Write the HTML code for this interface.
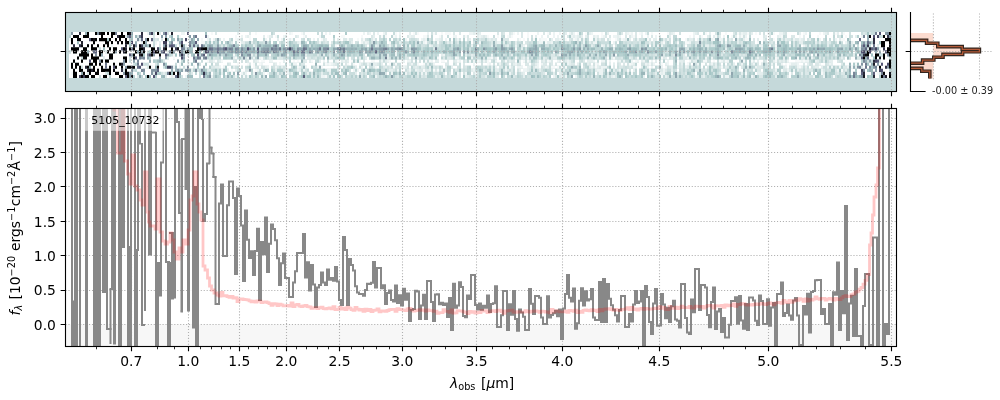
<!DOCTYPE html><html><head><meta charset="utf-8"><style>html,body{margin:0;padding:0;background:#fff;overflow:hidden}svg{display:block}</style></head><body>
<svg width="1000" height="400" viewBox="0 0 1000 400" font-family="'DejaVu Sans', 'Liberation Sans', sans-serif" font-size="13.89">
<defs><clipPath id="c1"><rect x="65.5" y="108.5" width="830.9" height="237.75"/></clipPath></defs>
<rect width="1000" height="400" fill="#fff"/>
<rect x="65.5" y="12.5" width="831" height="79" fill="#c5d9da"/>
<path fill="#c9dddd" d="M69 31.90h2v3.11h-2zM317 31.90h2v3.11h-2zM321 31.90h2v3.11h-2zM393 31.90h2v3.11h-2zM581 31.90h2v3.11h-2zM605 31.90h2v3.11h-2zM647 31.90h2v3.11h-2zM703 31.90h2v3.11h-2zM735 31.90h2v3.11h-2zM797 31.90h2v3.11h-2zM861 31.90h2v3.11h-2zM871 31.90h4v3.11h-4zM277 34.97h2v3.11h-2zM447 34.97h2v3.11h-2zM493 34.97h2v3.11h-2zM501 34.97h2v3.11h-2zM717 34.97h2v3.11h-2zM785 34.97h2v3.11h-2zM849 34.97h2v3.11h-2zM879 34.97h2v3.11h-2zM153 38.05h2v3.11h-2zM215 38.05h2v3.11h-2zM303 38.05h2v3.11h-2zM333 38.05h2v3.11h-2zM367 38.05h2v3.11h-2zM379 38.05h4v3.11h-4zM385 38.05h2v3.11h-2zM411 38.05h4v3.11h-4zM475 38.05h2v3.11h-2zM531 38.05h2v3.11h-2zM549 38.05h2v3.11h-2zM563 38.05h2v3.11h-2zM587 38.05h2v3.11h-2zM635 38.05h2v3.11h-2zM643 38.05h2v3.11h-2zM703 38.05h2v3.11h-2zM739 38.05h2v3.11h-2zM771 38.05h2v3.11h-2zM777 38.05h2v3.11h-2zM783 38.05h2v3.11h-2zM791 38.05h2v3.11h-2zM829 38.05h2v3.11h-2zM833 38.05h2v3.11h-2zM849 38.05h2v3.11h-2zM153 41.12h2v3.11h-2zM215 41.12h2v3.11h-2zM229 41.12h2v3.11h-2zM245 41.12h4v3.11h-4zM255 41.12h2v3.11h-2zM259 41.12h4v3.11h-4zM267 41.12h2v3.11h-2zM283 41.12h2v3.11h-2zM293 41.12h4v3.11h-4zM305 41.12h2v3.11h-2zM335 41.12h2v3.11h-2zM357 41.12h2v3.11h-2zM395 41.12h2v3.11h-2zM405 41.12h4v3.11h-4zM429 41.12h2v3.11h-2zM441 41.12h2v3.11h-2zM445 41.12h2v3.11h-2zM455 41.12h2v3.11h-2zM461 41.12h2v3.11h-2zM465 41.12h2v3.11h-2zM489 41.12h2v3.11h-2zM507 41.12h2v3.11h-2zM517 41.12h4v3.11h-4zM529 41.12h2v3.11h-2zM555 41.12h2v3.11h-2zM561 41.12h2v3.11h-2zM567 41.12h2v3.11h-2zM581 41.12h2v3.11h-2zM601 41.12h8v3.11h-8zM615 41.12h2v3.11h-2zM625 41.12h2v3.11h-2zM631 41.12h2v3.11h-2zM637 41.12h2v3.11h-2zM651 41.12h2v3.11h-2zM659 41.12h2v3.11h-2zM665 41.12h2v3.11h-2zM675 41.12h2v3.11h-2zM683 41.12h2v3.11h-2zM691 41.12h4v3.11h-4zM701 41.12h2v3.11h-2zM705 41.12h2v3.11h-2zM711 41.12h2v3.11h-2zM773 41.12h2v3.11h-2zM785 41.12h2v3.11h-2zM797 41.12h2v3.11h-2zM817 41.12h2v3.11h-2zM823 41.12h2v3.11h-2zM835 41.12h2v3.11h-2zM841 41.12h2v3.11h-2zM847 41.12h2v3.11h-2zM175 44.19h2v3.11h-2zM179 44.19h2v3.11h-2zM205 44.19h2v3.11h-2zM213 44.19h2v3.11h-2zM243 44.19h2v3.11h-2zM255 44.19h2v3.11h-2zM391 44.19h2v3.11h-2zM425 44.19h2v3.11h-2zM433 44.19h4v3.11h-4zM439 44.19h2v3.11h-2zM461 44.19h2v3.11h-2zM479 44.19h2v3.11h-2zM489 44.19h2v3.11h-2zM495 44.19h2v3.11h-2zM503 44.19h2v3.11h-2zM517 44.19h2v3.11h-2zM527 44.19h2v3.11h-2zM553 44.19h2v3.11h-2zM571 44.19h2v3.11h-2zM633 44.19h2v3.11h-2zM663 44.19h2v3.11h-2zM677 44.19h2v3.11h-2zM709 44.19h2v3.11h-2zM731 44.19h2v3.11h-2zM751 44.19h2v3.11h-2zM755 44.19h2v3.11h-2zM815 44.19h2v3.11h-2zM843 44.19h4v3.11h-4zM857 44.19h2v3.11h-2zM99 47.27h2v3.11h-2zM255 47.27h2v3.11h-2zM405 47.27h2v3.11h-2zM409 47.27h2v3.11h-2zM421 47.27h2v3.11h-2zM439 47.27h2v3.11h-2zM443 47.27h2v3.11h-2zM451 47.27h2v3.11h-2zM551 47.27h2v3.11h-2zM603 47.27h2v3.11h-2zM639 47.27h2v3.11h-2zM655 47.27h2v3.11h-2zM667 47.27h2v3.11h-2zM707 47.27h2v3.11h-2zM733 47.27h2v3.11h-2zM745 47.27h2v3.11h-2zM853 47.27h2v3.11h-2zM147 50.34h2v3.11h-2zM419 50.34h2v3.11h-2zM469 50.34h2v3.11h-2zM497 50.34h2v3.11h-2zM515 50.34h2v3.11h-2zM525 50.34h2v3.11h-2zM575 50.34h2v3.11h-2zM589 50.34h2v3.11h-2zM663 50.34h2v3.11h-2zM685 50.34h2v3.11h-2zM689 50.34h2v3.11h-2zM721 50.34h2v3.11h-2zM775 50.34h2v3.11h-2zM801 50.34h2v3.11h-2zM855 50.34h2v3.11h-2zM171 53.41h2v3.11h-2zM199 53.41h2v3.11h-2zM217 53.41h2v3.11h-2zM221 53.41h2v3.11h-2zM235 53.41h2v3.11h-2zM307 53.41h6v3.11h-6zM319 53.41h2v3.11h-2zM331 53.41h2v3.11h-2zM351 53.41h2v3.11h-2zM357 53.41h2v3.11h-2zM375 53.41h4v3.11h-4zM381 53.41h2v3.11h-2zM429 53.41h2v3.11h-2zM433 53.41h2v3.11h-2zM437 53.41h2v3.11h-2zM447 53.41h2v3.11h-2zM457 53.41h2v3.11h-2zM467 53.41h2v3.11h-2zM505 53.41h2v3.11h-2zM509 53.41h2v3.11h-2zM521 53.41h4v3.11h-4zM533 53.41h2v3.11h-2zM575 53.41h2v3.11h-2zM587 53.41h2v3.11h-2zM643 53.41h2v3.11h-2zM651 53.41h2v3.11h-2zM697 53.41h2v3.11h-2zM713 53.41h2v3.11h-2zM725 53.41h2v3.11h-2zM753 53.41h2v3.11h-2zM787 53.41h2v3.11h-2zM791 53.41h4v3.11h-4zM819 53.41h2v3.11h-2zM825 53.41h2v3.11h-2zM847 53.41h2v3.11h-2zM879 53.41h2v3.11h-2zM81 56.49h2v3.11h-2zM237 56.49h2v3.11h-2zM251 56.49h2v3.11h-2zM271 56.49h2v3.11h-2zM283 56.49h2v3.11h-2zM287 56.49h2v3.11h-2zM297 56.49h4v3.11h-4zM311 56.49h2v3.11h-2zM319 56.49h2v3.11h-2zM331 56.49h2v3.11h-2zM353 56.49h2v3.11h-2zM381 56.49h2v3.11h-2zM411 56.49h2v3.11h-2zM419 56.49h2v3.11h-2zM459 56.49h2v3.11h-2zM475 56.49h6v3.11h-6zM501 56.49h2v3.11h-2zM517 56.49h2v3.11h-2zM525 56.49h2v3.11h-2zM537 56.49h2v3.11h-2zM547 56.49h2v3.11h-2zM565 56.49h4v3.11h-4zM583 56.49h4v3.11h-4zM647 56.49h2v3.11h-2zM657 56.49h2v3.11h-2zM695 56.49h2v3.11h-2zM707 56.49h2v3.11h-2zM723 56.49h2v3.11h-2zM737 56.49h2v3.11h-2zM743 56.49h2v3.11h-2zM763 56.49h2v3.11h-2zM787 56.49h2v3.11h-2zM827 56.49h2v3.11h-2zM889 56.49h2v3.11h-2zM129 59.56h2v3.11h-2zM181 59.56h2v3.11h-2zM201 59.56h2v3.11h-2zM315 59.56h2v3.11h-2zM383 59.56h2v3.11h-2zM427 59.56h2v3.11h-2zM481 59.56h2v3.11h-2zM501 59.56h2v3.11h-2zM581 59.56h2v3.11h-2zM597 59.56h2v3.11h-2zM605 59.56h2v3.11h-2zM621 59.56h2v3.11h-2zM625 59.56h4v3.11h-4zM645 59.56h2v3.11h-2zM659 59.56h2v3.11h-2zM673 59.56h2v3.11h-2zM701 59.56h2v3.11h-2zM717 59.56h2v3.11h-2zM771 59.56h2v3.11h-2zM809 59.56h2v3.11h-2zM841 59.56h2v3.11h-2zM871 59.56h2v3.11h-2zM145 62.63h2v3.11h-2zM175 62.63h2v3.11h-2zM255 62.63h2v3.11h-2zM337 62.63h2v3.11h-2zM363 62.63h2v3.11h-2zM379 62.63h2v3.11h-2zM385 62.63h2v3.11h-2zM397 62.63h4v3.11h-4zM415 62.63h2v3.11h-2zM425 62.63h2v3.11h-2zM431 62.63h2v3.11h-2zM453 62.63h2v3.11h-2zM459 62.63h2v3.11h-2zM583 62.63h2v3.11h-2zM673 62.63h2v3.11h-2zM727 62.63h2v3.11h-2zM743 62.63h2v3.11h-2zM765 62.63h2v3.11h-2zM773 62.63h2v3.11h-2zM777 62.63h4v3.11h-4zM163 65.71h2v3.11h-2zM183 65.71h2v3.11h-2zM237 65.71h2v3.11h-2zM245 65.71h2v3.11h-2zM271 65.71h2v3.11h-2zM279 65.71h2v3.11h-2zM291 65.71h2v3.11h-2zM315 65.71h2v3.11h-2zM337 65.71h2v3.11h-2zM353 65.71h2v3.11h-2zM359 65.71h2v3.11h-2zM371 65.71h2v3.11h-2zM381 65.71h2v3.11h-2zM391 65.71h2v3.11h-2zM419 65.71h2v3.11h-2zM425 65.71h2v3.11h-2zM459 65.71h2v3.11h-2zM475 65.71h2v3.11h-2zM481 65.71h2v3.11h-2zM513 65.71h2v3.11h-2zM549 65.71h2v3.11h-2zM559 65.71h2v3.11h-2zM563 65.71h2v3.11h-2zM607 65.71h2v3.11h-2zM617 65.71h2v3.11h-2zM625 65.71h2v3.11h-2zM645 65.71h2v3.11h-2zM693 65.71h2v3.11h-2zM717 65.71h2v3.11h-2zM723 65.71h2v3.11h-2zM733 65.71h2v3.11h-2zM743 65.71h2v3.11h-2zM773 65.71h2v3.11h-2zM791 65.71h2v3.11h-2zM803 65.71h2v3.11h-2zM807 65.71h2v3.11h-2zM823 65.71h4v3.11h-4zM133 68.78h2v3.11h-2zM211 68.78h2v3.11h-2zM237 68.78h2v3.11h-2zM259 68.78h2v3.11h-2zM295 68.78h2v3.11h-2zM325 68.78h2v3.11h-2zM343 68.78h2v3.11h-2zM361 68.78h2v3.11h-2zM395 68.78h2v3.11h-2zM405 68.78h2v3.11h-2zM411 68.78h2v3.11h-2zM439 68.78h2v3.11h-2zM463 68.78h2v3.11h-2zM475 68.78h2v3.11h-2zM509 68.78h2v3.11h-2zM537 68.78h2v3.11h-2zM567 68.78h2v3.11h-2zM583 68.78h2v3.11h-2zM615 68.78h2v3.11h-2zM655 68.78h2v3.11h-2zM667 68.78h4v3.11h-4zM673 68.78h2v3.11h-2zM679 68.78h2v3.11h-2zM689 68.78h2v3.11h-2zM707 68.78h2v3.11h-2zM719 68.78h2v3.11h-2zM733 68.78h2v3.11h-2zM751 68.78h2v3.11h-2zM769 68.78h4v3.11h-4zM825 68.78h2v3.11h-2zM199 71.85h2v3.11h-2zM213 71.85h2v3.11h-2zM217 71.85h2v3.11h-2zM261 71.85h2v3.11h-2zM269 71.85h2v3.11h-2zM305 71.85h2v3.11h-2zM315 71.85h2v3.11h-2zM319 71.85h2v3.11h-2zM323 71.85h4v3.11h-4zM333 71.85h2v3.11h-2zM349 71.85h6v3.11h-6zM359 71.85h2v3.11h-2zM363 71.85h2v3.11h-2zM377 71.85h2v3.11h-2zM423 71.85h2v3.11h-2zM435 71.85h2v3.11h-2zM481 71.85h2v3.11h-2zM519 71.85h2v3.11h-2zM531 71.85h6v3.11h-6zM565 71.85h2v3.11h-2zM569 71.85h2v3.11h-2zM591 71.85h2v3.11h-2zM611 71.85h2v3.11h-2zM683 71.85h2v3.11h-2zM691 71.85h2v3.11h-2zM717 71.85h2v3.11h-2zM723 71.85h2v3.11h-2zM763 71.85h2v3.11h-2zM787 71.85h2v3.11h-2zM799 71.85h2v3.11h-2zM99 74.93h2v3.11h-2zM199 74.93h2v3.11h-2zM245 74.93h2v3.11h-2zM277 74.93h2v3.11h-2zM319 74.93h2v3.11h-2zM341 74.93h2v3.11h-2zM347 74.93h4v3.11h-4zM365 74.93h2v3.11h-2zM381 74.93h2v3.11h-2zM405 74.93h2v3.11h-2zM415 74.93h2v3.11h-2zM443 74.93h2v3.11h-2zM447 74.93h2v3.11h-2zM455 74.93h2v3.11h-2zM471 74.93h2v3.11h-2zM477 74.93h2v3.11h-2zM503 74.93h2v3.11h-2zM509 74.93h2v3.11h-2zM521 74.93h2v3.11h-2zM535 74.93h2v3.11h-2zM563 74.93h2v3.11h-2zM577 74.93h2v3.11h-2zM597 74.93h2v3.11h-2zM609 74.93h2v3.11h-2zM629 74.93h2v3.11h-2zM673 74.93h2v3.11h-2zM677 74.93h2v3.11h-2zM705 74.93h2v3.11h-2zM709 74.93h2v3.11h-2zM723 74.93h2v3.11h-2zM741 74.93h2v3.11h-2zM805 74.93h2v3.11h-2zM821 74.93h2v3.11h-2zM831 74.93h2v3.11h-2zM835 74.93h2v3.11h-2zM841 74.93h2v3.11h-2z"/><path fill="#8496a3" d="M71 31.90h2v3.11h-2zM97 31.90h2v3.11h-2zM163 31.90h2v3.11h-2zM127 34.97h2v3.11h-2zM145 38.05h2v3.11h-2zM863 41.12h2v3.11h-2zM869 41.12h2v3.11h-2zM145 44.19h2v3.11h-2zM197 44.19h2v3.11h-2zM273 44.19h2v3.11h-2zM861 44.19h2v3.11h-2zM187 47.27h2v3.11h-2zM215 47.27h2v3.11h-2zM221 47.27h2v3.11h-2zM249 47.27h2v3.11h-2zM267 47.27h2v3.11h-2zM283 47.27h2v3.11h-2zM297 47.27h2v3.11h-2zM341 47.27h2v3.11h-2zM411 47.27h2v3.11h-2zM483 47.27h2v3.11h-2zM561 47.27h2v3.11h-2zM641 47.27h2v3.11h-2zM817 47.27h2v3.11h-2zM863 47.27h2v3.11h-2zM115 50.34h2v3.11h-2zM231 50.34h2v3.11h-2zM235 50.34h2v3.11h-2zM261 50.34h2v3.11h-2zM275 50.34h2v3.11h-2zM325 50.34h2v3.11h-2zM333 50.34h2v3.11h-2zM381 50.34h2v3.11h-2zM467 50.34h2v3.11h-2zM635 50.34h2v3.11h-2zM711 50.34h2v3.11h-2zM95 53.41h2v3.11h-2zM153 53.41h2v3.11h-2zM167 53.41h2v3.11h-2zM183 53.41h2v3.11h-2zM209 53.41h2v3.11h-2zM249 53.41h2v3.11h-2zM717 53.41h2v3.11h-2zM141 56.49h2v3.11h-2zM165 56.49h2v3.11h-2zM861 62.63h2v3.11h-2zM125 65.71h2v3.11h-2zM857 65.71h2v3.11h-2zM887 65.71h2v3.11h-2zM151 68.78h6v3.11h-6zM185 68.78h2v3.11h-2zM249 68.78h2v3.11h-2zM123 71.85h2v3.11h-2zM151 71.85h2v3.11h-2zM255 71.85h2v3.11h-2zM209 74.93h2v3.11h-2z"/><path fill="#ffffff" d="M73 31.90h6v3.11h-6zM81 31.90h4v3.11h-4zM89 31.90h6v3.11h-6zM105 31.90h2v3.11h-2zM109 31.90h2v3.11h-2zM117 31.90h4v3.11h-4zM123 31.90h4v3.11h-4zM133 31.90h8v3.11h-8zM143 31.90h4v3.11h-4zM155 31.90h2v3.11h-2zM161 31.90h2v3.11h-2zM169 31.90h2v3.11h-2zM173 31.90h8v3.11h-8zM185 31.90h2v3.11h-2zM189 31.90h16v3.11h-16zM207 31.90h4v3.11h-4zM213 31.90h2v3.11h-2zM217 31.90h20v3.11h-20zM239 31.90h10v3.11h-10zM251 31.90h4v3.11h-4zM257 31.90h14v3.11h-14zM275 31.90h14v3.11h-14zM293 31.90h8v3.11h-8zM305 31.90h12v3.11h-12zM319 31.90h2v3.11h-2zM323 31.90h2v3.11h-2zM327 31.90h2v3.11h-2zM331 31.90h14v3.11h-14zM347 31.90h16v3.11h-16zM365 31.90h2v3.11h-2zM371 31.90h2v3.11h-2zM375 31.90h2v3.11h-2zM379 31.90h4v3.11h-4zM387 31.90h6v3.11h-6zM397 31.90h2v3.11h-2zM401 31.90h8v3.11h-8zM411 31.90h2v3.11h-2zM419 31.90h8v3.11h-8zM429 31.90h2v3.11h-2zM437 31.90h4v3.11h-4zM443 31.90h2v3.11h-2zM451 31.90h2v3.11h-2zM455 31.90h4v3.11h-4zM461 31.90h8v3.11h-8zM481 31.90h16v3.11h-16zM499 31.90h2v3.11h-2zM505 31.90h4v3.11h-4zM515 31.90h2v3.11h-2zM519 31.90h2v3.11h-2zM523 31.90h4v3.11h-4zM529 31.90h8v3.11h-8zM539 31.90h4v3.11h-4zM545 31.90h2v3.11h-2zM551 31.90h2v3.11h-2zM555 31.90h4v3.11h-4zM561 31.90h2v3.11h-2zM567 31.90h2v3.11h-2zM575 31.90h2v3.11h-2zM583 31.90h2v3.11h-2zM593 31.90h8v3.11h-8zM603 31.90h2v3.11h-2zM609 31.90h8v3.11h-8zM623 31.90h2v3.11h-2zM633 31.90h2v3.11h-2zM637 31.90h2v3.11h-2zM643 31.90h2v3.11h-2zM649 31.90h2v3.11h-2zM653 31.90h14v3.11h-14zM675 31.90h4v3.11h-4zM681 31.90h12v3.11h-12zM699 31.90h4v3.11h-4zM707 31.90h2v3.11h-2zM711 31.90h4v3.11h-4zM721 31.90h4v3.11h-4zM727 31.90h6v3.11h-6zM753 31.90h2v3.11h-2zM757 31.90h2v3.11h-2zM761 31.90h2v3.11h-2zM765 31.90h2v3.11h-2zM775 31.90h4v3.11h-4zM787 31.90h10v3.11h-10zM801 31.90h2v3.11h-2zM807 31.90h2v3.11h-2zM811 31.90h8v3.11h-8zM821 31.90h2v3.11h-2zM829 31.90h4v3.11h-4zM839 31.90h2v3.11h-2zM845 31.90h4v3.11h-4zM851 31.90h10v3.11h-10zM877 31.90h2v3.11h-2zM881 31.90h4v3.11h-4zM71 34.97h2v3.11h-2zM79 34.97h4v3.11h-4zM89 34.97h12v3.11h-12zM103 34.97h8v3.11h-8zM113 34.97h4v3.11h-4zM133 34.97h2v3.11h-2zM143 34.97h6v3.11h-6zM155 34.97h6v3.11h-6zM163 34.97h2v3.11h-2zM167 34.97h2v3.11h-2zM173 34.97h4v3.11h-4zM181 34.97h8v3.11h-8zM191 34.97h2v3.11h-2zM197 34.97h8v3.11h-8zM209 34.97h26v3.11h-26zM237 34.97h4v3.11h-4zM243 34.97h2v3.11h-2zM251 34.97h12v3.11h-12zM265 34.97h2v3.11h-2zM273 34.97h2v3.11h-2zM279 34.97h4v3.11h-4zM287 34.97h8v3.11h-8zM299 34.97h4v3.11h-4zM307 34.97h12v3.11h-12zM325 34.97h8v3.11h-8zM335 34.97h6v3.11h-6zM345 34.97h16v3.11h-16zM363 34.97h8v3.11h-8zM375 34.97h4v3.11h-4zM387 34.97h4v3.11h-4zM397 34.97h2v3.11h-2zM401 34.97h6v3.11h-6zM415 34.97h8v3.11h-8zM429 34.97h2v3.11h-2zM433 34.97h6v3.11h-6zM443 34.97h4v3.11h-4zM449 34.97h4v3.11h-4zM457 34.97h6v3.11h-6zM469 34.97h8v3.11h-8zM489 34.97h4v3.11h-4zM495 34.97h2v3.11h-2zM499 34.97h2v3.11h-2zM505 34.97h2v3.11h-2zM513 34.97h8v3.11h-8zM523 34.97h4v3.11h-4zM529 34.97h2v3.11h-2zM533 34.97h2v3.11h-2zM537 34.97h4v3.11h-4zM543 34.97h4v3.11h-4zM549 34.97h4v3.11h-4zM555 34.97h2v3.11h-2zM559 34.97h2v3.11h-2zM565 34.97h2v3.11h-2zM583 34.97h2v3.11h-2zM589 34.97h4v3.11h-4zM599 34.97h2v3.11h-2zM607 34.97h2v3.11h-2zM611 34.97h2v3.11h-2zM621 34.97h4v3.11h-4zM627 34.97h2v3.11h-2zM637 34.97h4v3.11h-4zM643 34.97h4v3.11h-4zM649 34.97h2v3.11h-2zM653 34.97h2v3.11h-2zM657 34.97h2v3.11h-2zM661 34.97h6v3.11h-6zM671 34.97h2v3.11h-2zM677 34.97h12v3.11h-12zM691 34.97h2v3.11h-2zM695 34.97h4v3.11h-4zM703 34.97h4v3.11h-4zM711 34.97h2v3.11h-2zM721 34.97h2v3.11h-2zM725 34.97h2v3.11h-2zM729 34.97h2v3.11h-2zM737 34.97h2v3.11h-2zM747 34.97h2v3.11h-2zM751 34.97h12v3.11h-12zM767 34.97h2v3.11h-2zM771 34.97h6v3.11h-6zM787 34.97h4v3.11h-4zM795 34.97h4v3.11h-4zM801 34.97h2v3.11h-2zM805 34.97h4v3.11h-4zM811 34.97h6v3.11h-6zM819 34.97h6v3.11h-6zM827 34.97h6v3.11h-6zM835 34.97h2v3.11h-2zM843 34.97h2v3.11h-2zM847 34.97h2v3.11h-2zM853 34.97h2v3.11h-2zM859 34.97h2v3.11h-2zM865 34.97h2v3.11h-2zM871 34.97h2v3.11h-2zM875 34.97h2v3.11h-2zM885 34.97h2v3.11h-2zM73 38.05h4v3.11h-4zM81 38.05h8v3.11h-8zM97 38.05h2v3.11h-2zM111 38.05h4v3.11h-4zM117 38.05h2v3.11h-2zM121 38.05h4v3.11h-4zM127 38.05h2v3.11h-2zM133 38.05h2v3.11h-2zM143 38.05h2v3.11h-2zM149 38.05h2v3.11h-2zM159 38.05h2v3.11h-2zM163 38.05h2v3.11h-2zM169 38.05h2v3.11h-2zM175 38.05h2v3.11h-2zM183 38.05h2v3.11h-2zM195 38.05h2v3.11h-2zM199 38.05h2v3.11h-2zM203 38.05h4v3.11h-4zM211 38.05h2v3.11h-2zM221 38.05h2v3.11h-2zM225 38.05h4v3.11h-4zM233 38.05h2v3.11h-2zM243 38.05h6v3.11h-6zM251 38.05h2v3.11h-2zM257 38.05h6v3.11h-6zM267 38.05h2v3.11h-2zM271 38.05h6v3.11h-6zM279 38.05h2v3.11h-2zM285 38.05h2v3.11h-2zM295 38.05h6v3.11h-6zM305 38.05h2v3.11h-2zM311 38.05h2v3.11h-2zM315 38.05h2v3.11h-2zM319 38.05h2v3.11h-2zM327 38.05h6v3.11h-6zM335 38.05h2v3.11h-2zM341 38.05h2v3.11h-2zM353 38.05h4v3.11h-4zM359 38.05h2v3.11h-2zM377 38.05h2v3.11h-2zM387 38.05h2v3.11h-2zM391 38.05h2v3.11h-2zM401 38.05h2v3.11h-2zM407 38.05h2v3.11h-2zM419 38.05h2v3.11h-2zM433 38.05h2v3.11h-2zM443 38.05h2v3.11h-2zM447 38.05h2v3.11h-2zM451 38.05h2v3.11h-2zM461 38.05h2v3.11h-2zM465 38.05h2v3.11h-2zM471 38.05h2v3.11h-2zM497 38.05h4v3.11h-4zM509 38.05h8v3.11h-8zM521 38.05h2v3.11h-2zM525 38.05h2v3.11h-2zM529 38.05h2v3.11h-2zM537 38.05h2v3.11h-2zM547 38.05h2v3.11h-2zM553 38.05h2v3.11h-2zM567 38.05h2v3.11h-2zM589 38.05h4v3.11h-4zM605 38.05h2v3.11h-2zM611 38.05h4v3.11h-4zM631 38.05h2v3.11h-2zM651 38.05h2v3.11h-2zM657 38.05h2v3.11h-2zM671 38.05h2v3.11h-2zM681 38.05h4v3.11h-4zM695 38.05h2v3.11h-2zM725 38.05h2v3.11h-2zM733 38.05h2v3.11h-2zM751 38.05h2v3.11h-2zM755 38.05h2v3.11h-2zM759 38.05h4v3.11h-4zM767 38.05h2v3.11h-2zM775 38.05h2v3.11h-2zM805 38.05h2v3.11h-2zM821 38.05h2v3.11h-2zM827 38.05h2v3.11h-2zM831 38.05h2v3.11h-2zM837 38.05h2v3.11h-2zM845 38.05h2v3.11h-2zM851 38.05h8v3.11h-8zM861 38.05h6v3.11h-6zM869 38.05h2v3.11h-2zM875 38.05h10v3.11h-10zM69 41.12h2v3.11h-2zM73 41.12h4v3.11h-4zM79 41.12h2v3.11h-2zM83 41.12h10v3.11h-10zM95 41.12h10v3.11h-10zM109 41.12h2v3.11h-2zM113 41.12h4v3.11h-4zM119 41.12h2v3.11h-2zM123 41.12h2v3.11h-2zM133 41.12h2v3.11h-2zM137 41.12h4v3.11h-4zM147 41.12h6v3.11h-6zM157 41.12h2v3.11h-2zM161 41.12h2v3.11h-2zM167 41.12h2v3.11h-2zM173 41.12h4v3.11h-4zM183 41.12h6v3.11h-6zM199 41.12h2v3.11h-2zM223 41.12h2v3.11h-2zM233 41.12h2v3.11h-2zM239 41.12h2v3.11h-2zM271 41.12h2v3.11h-2zM277 41.12h2v3.11h-2zM307 41.12h2v3.11h-2zM329 41.12h2v3.11h-2zM353 41.12h2v3.11h-2zM359 41.12h2v3.11h-2zM387 41.12h2v3.11h-2zM471 41.12h2v3.11h-2zM523 41.12h2v3.11h-2zM611 41.12h2v3.11h-2zM617 41.12h2v3.11h-2zM671 41.12h2v3.11h-2zM755 41.12h2v3.11h-2zM761 41.12h2v3.11h-2zM775 41.12h2v3.11h-2zM789 41.12h2v3.11h-2zM843 41.12h2v3.11h-2zM859 41.12h2v3.11h-2zM875 41.12h4v3.11h-4zM885 41.12h4v3.11h-4zM69 44.19h4v3.11h-4zM75 44.19h4v3.11h-4zM83 44.19h4v3.11h-4zM89 44.19h2v3.11h-2zM93 44.19h4v3.11h-4zM99 44.19h4v3.11h-4zM105 44.19h2v3.11h-2zM109 44.19h2v3.11h-2zM113 44.19h12v3.11h-12zM127 44.19h2v3.11h-2zM131 44.19h2v3.11h-2zM137 44.19h2v3.11h-2zM151 44.19h2v3.11h-2zM155 44.19h4v3.11h-4zM161 44.19h2v3.11h-2zM177 44.19h2v3.11h-2zM187 44.19h2v3.11h-2zM199 44.19h2v3.11h-2zM239 44.19h2v3.11h-2zM285 44.19h2v3.11h-2zM299 44.19h2v3.11h-2zM337 44.19h2v3.11h-2zM367 44.19h2v3.11h-2zM401 44.19h2v3.11h-2zM477 44.19h2v3.11h-2zM525 44.19h2v3.11h-2zM613 44.19h2v3.11h-2zM649 44.19h2v3.11h-2zM685 44.19h2v3.11h-2zM801 44.19h2v3.11h-2zM855 44.19h2v3.11h-2zM859 44.19h2v3.11h-2zM871 44.19h2v3.11h-2zM875 44.19h2v3.11h-2zM879 44.19h2v3.11h-2zM885 44.19h4v3.11h-4zM69 47.27h2v3.11h-2zM79 47.27h4v3.11h-4zM87 47.27h4v3.11h-4zM97 47.27h2v3.11h-2zM101 47.27h2v3.11h-2zM105 47.27h4v3.11h-4zM111 47.27h2v3.11h-2zM117 47.27h4v3.11h-4zM127 47.27h2v3.11h-2zM135 47.27h4v3.11h-4zM145 47.27h6v3.11h-6zM155 47.27h2v3.11h-2zM161 47.27h2v3.11h-2zM167 47.27h4v3.11h-4zM173 47.27h2v3.11h-2zM179 47.27h2v3.11h-2zM193 47.27h4v3.11h-4zM881 47.27h2v3.11h-2zM885 47.27h2v3.11h-2zM71 50.34h2v3.11h-2zM77 50.34h4v3.11h-4zM89 50.34h4v3.11h-4zM97 50.34h2v3.11h-2zM103 50.34h2v3.11h-2zM109 50.34h4v3.11h-4zM117 50.34h2v3.11h-2zM121 50.34h2v3.11h-2zM127 50.34h8v3.11h-8zM145 50.34h2v3.11h-2zM165 50.34h2v3.11h-2zM175 50.34h4v3.11h-4zM193 50.34h2v3.11h-2zM201 50.34h2v3.11h-2zM461 50.34h2v3.11h-2zM853 50.34h2v3.11h-2zM871 50.34h4v3.11h-4zM877 50.34h2v3.11h-2zM881 50.34h4v3.11h-4zM69 53.41h10v3.11h-10zM89 53.41h2v3.11h-2zM93 53.41h2v3.11h-2zM97 53.41h2v3.11h-2zM103 53.41h6v3.11h-6zM113 53.41h16v3.11h-16zM135 53.41h4v3.11h-4zM145 53.41h2v3.11h-2zM155 53.41h4v3.11h-4zM161 53.41h4v3.11h-4zM177 53.41h2v3.11h-2zM185 53.41h2v3.11h-2zM189 53.41h2v3.11h-2zM195 53.41h2v3.11h-2zM205 53.41h2v3.11h-2zM269 53.41h2v3.11h-2zM365 53.41h2v3.11h-2zM439 53.41h2v3.11h-2zM461 53.41h2v3.11h-2zM761 53.41h2v3.11h-2zM811 53.41h2v3.11h-2zM857 53.41h2v3.11h-2zM869 53.41h2v3.11h-2zM873 53.41h2v3.11h-2zM885 53.41h2v3.11h-2zM69 56.49h8v3.11h-8zM79 56.49h2v3.11h-2zM87 56.49h4v3.11h-4zM99 56.49h4v3.11h-4zM105 56.49h4v3.11h-4zM113 56.49h10v3.11h-10zM127 56.49h2v3.11h-2zM131 56.49h2v3.11h-2zM137 56.49h2v3.11h-2zM145 56.49h2v3.11h-2zM151 56.49h8v3.11h-8zM161 56.49h4v3.11h-4zM169 56.49h4v3.11h-4zM175 56.49h6v3.11h-6zM185 56.49h8v3.11h-8zM221 56.49h2v3.11h-2zM305 56.49h2v3.11h-2zM325 56.49h2v3.11h-2zM349 56.49h2v3.11h-2zM355 56.49h2v3.11h-2zM367 56.49h2v3.11h-2zM409 56.49h2v3.11h-2zM439 56.49h2v3.11h-2zM465 56.49h2v3.11h-2zM497 56.49h2v3.11h-2zM667 56.49h2v3.11h-2zM789 56.49h2v3.11h-2zM845 56.49h2v3.11h-2zM851 56.49h4v3.11h-4zM869 56.49h4v3.11h-4zM877 56.49h2v3.11h-2zM881 56.49h2v3.11h-2zM885 56.49h4v3.11h-4zM69 59.56h4v3.11h-4zM75 59.56h6v3.11h-6zM83 59.56h6v3.11h-6zM91 59.56h2v3.11h-2zM97 59.56h2v3.11h-2zM103 59.56h2v3.11h-2zM109 59.56h14v3.11h-14zM127 59.56h2v3.11h-2zM131 59.56h2v3.11h-2zM135 59.56h2v3.11h-2zM139 59.56h10v3.11h-10zM151 59.56h2v3.11h-2zM165 59.56h12v3.11h-12zM179 59.56h2v3.11h-2zM185 59.56h2v3.11h-2zM189 59.56h4v3.11h-4zM197 59.56h4v3.11h-4zM203 59.56h4v3.11h-4zM215 59.56h2v3.11h-2zM223 59.56h10v3.11h-10zM237 59.56h4v3.11h-4zM243 59.56h2v3.11h-2zM249 59.56h4v3.11h-4zM259 59.56h2v3.11h-2zM265 59.56h4v3.11h-4zM273 59.56h10v3.11h-10zM285 59.56h4v3.11h-4zM291 59.56h2v3.11h-2zM295 59.56h2v3.11h-2zM299 59.56h2v3.11h-2zM307 59.56h2v3.11h-2zM313 59.56h2v3.11h-2zM321 59.56h2v3.11h-2zM325 59.56h2v3.11h-2zM329 59.56h4v3.11h-4zM339 59.56h2v3.11h-2zM349 59.56h2v3.11h-2zM361 59.56h2v3.11h-2zM365 59.56h6v3.11h-6zM375 59.56h4v3.11h-4zM391 59.56h4v3.11h-4zM397 59.56h4v3.11h-4zM405 59.56h2v3.11h-2zM413 59.56h2v3.11h-2zM417 59.56h2v3.11h-2zM421 59.56h2v3.11h-2zM433 59.56h2v3.11h-2zM439 59.56h2v3.11h-2zM445 59.56h2v3.11h-2zM449 59.56h4v3.11h-4zM461 59.56h2v3.11h-2zM489 59.56h2v3.11h-2zM497 59.56h4v3.11h-4zM515 59.56h2v3.11h-2zM521 59.56h2v3.11h-2zM539 59.56h2v3.11h-2zM553 59.56h4v3.11h-4zM561 59.56h2v3.11h-2zM575 59.56h4v3.11h-4zM585 59.56h2v3.11h-2zM595 59.56h2v3.11h-2zM599 59.56h2v3.11h-2zM607 59.56h2v3.11h-2zM611 59.56h6v3.11h-6zM633 59.56h2v3.11h-2zM639 59.56h2v3.11h-2zM649 59.56h2v3.11h-2zM653 59.56h2v3.11h-2zM657 59.56h2v3.11h-2zM661 59.56h2v3.11h-2zM665 59.56h2v3.11h-2zM669 59.56h4v3.11h-4zM677 59.56h2v3.11h-2zM685 59.56h4v3.11h-4zM711 59.56h2v3.11h-2zM715 59.56h2v3.11h-2zM733 59.56h6v3.11h-6zM747 59.56h2v3.11h-2zM755 59.56h2v3.11h-2zM759 59.56h4v3.11h-4zM767 59.56h2v3.11h-2zM789 59.56h6v3.11h-6zM833 59.56h4v3.11h-4zM843 59.56h18v3.11h-18zM881 59.56h8v3.11h-8zM69 62.63h2v3.11h-2zM73 62.63h2v3.11h-2zM79 62.63h10v3.11h-10zM93 62.63h2v3.11h-2zM97 62.63h2v3.11h-2zM101 62.63h4v3.11h-4zM107 62.63h6v3.11h-6zM115 62.63h4v3.11h-4zM125 62.63h8v3.11h-8zM139 62.63h2v3.11h-2zM149 62.63h6v3.11h-6zM159 62.63h4v3.11h-4zM167 62.63h8v3.11h-8zM177 62.63h2v3.11h-2zM183 62.63h4v3.11h-4zM193 62.63h4v3.11h-4zM201 62.63h4v3.11h-4zM207 62.63h4v3.11h-4zM213 62.63h2v3.11h-2zM219 62.63h8v3.11h-8zM231 62.63h6v3.11h-6zM239 62.63h8v3.11h-8zM251 62.63h2v3.11h-2zM257 62.63h2v3.11h-2zM263 62.63h10v3.11h-10zM277 62.63h2v3.11h-2zM281 62.63h4v3.11h-4zM287 62.63h2v3.11h-2zM297 62.63h2v3.11h-2zM305 62.63h10v3.11h-10zM317 62.63h6v3.11h-6zM343 62.63h2v3.11h-2zM349 62.63h2v3.11h-2zM355 62.63h4v3.11h-4zM383 62.63h2v3.11h-2zM387 62.63h2v3.11h-2zM401 62.63h6v3.11h-6zM419 62.63h4v3.11h-4zM435 62.63h10v3.11h-10zM449 62.63h4v3.11h-4zM457 62.63h2v3.11h-2zM461 62.63h2v3.11h-2zM465 62.63h8v3.11h-8zM475 62.63h6v3.11h-6zM483 62.63h4v3.11h-4zM491 62.63h2v3.11h-2zM495 62.63h2v3.11h-2zM509 62.63h2v3.11h-2zM521 62.63h4v3.11h-4zM529 62.63h2v3.11h-2zM539 62.63h2v3.11h-2zM547 62.63h2v3.11h-2zM553 62.63h2v3.11h-2zM557 62.63h4v3.11h-4zM575 62.63h2v3.11h-2zM581 62.63h2v3.11h-2zM591 62.63h2v3.11h-2zM599 62.63h2v3.11h-2zM607 62.63h2v3.11h-2zM611 62.63h2v3.11h-2zM615 62.63h2v3.11h-2zM621 62.63h2v3.11h-2zM625 62.63h2v3.11h-2zM637 62.63h4v3.11h-4zM655 62.63h4v3.11h-4zM663 62.63h2v3.11h-2zM669 62.63h4v3.11h-4zM677 62.63h2v3.11h-2zM685 62.63h2v3.11h-2zM691 62.63h2v3.11h-2zM701 62.63h4v3.11h-4zM707 62.63h2v3.11h-2zM721 62.63h2v3.11h-2zM725 62.63h2v3.11h-2zM735 62.63h2v3.11h-2zM747 62.63h2v3.11h-2zM759 62.63h2v3.11h-2zM775 62.63h2v3.11h-2zM783 62.63h2v3.11h-2zM787 62.63h2v3.11h-2zM799 62.63h4v3.11h-4zM805 62.63h2v3.11h-2zM813 62.63h2v3.11h-2zM821 62.63h4v3.11h-4zM833 62.63h8v3.11h-8zM845 62.63h4v3.11h-4zM851 62.63h2v3.11h-2zM859 62.63h2v3.11h-2zM863 62.63h2v3.11h-2zM875 62.63h2v3.11h-2zM879 62.63h2v3.11h-2zM883 62.63h4v3.11h-4zM69 65.71h2v3.11h-2zM73 65.71h2v3.11h-2zM77 65.71h2v3.11h-2zM83 65.71h2v3.11h-2zM91 65.71h2v3.11h-2zM95 65.71h6v3.11h-6zM103 65.71h2v3.11h-2zM107 65.71h2v3.11h-2zM111 65.71h2v3.11h-2zM117 65.71h4v3.11h-4zM123 65.71h2v3.11h-2zM135 65.71h2v3.11h-2zM143 65.71h2v3.11h-2zM153 65.71h2v3.11h-2zM159 65.71h4v3.11h-4zM177 65.71h2v3.11h-2zM181 65.71h2v3.11h-2zM189 65.71h4v3.11h-4zM195 65.71h2v3.11h-2zM199 65.71h4v3.11h-4zM207 65.71h2v3.11h-2zM221 65.71h2v3.11h-2zM227 65.71h4v3.11h-4zM239 65.71h2v3.11h-2zM243 65.71h2v3.11h-2zM251 65.71h2v3.11h-2zM259 65.71h2v3.11h-2zM269 65.71h2v3.11h-2zM287 65.71h4v3.11h-4zM307 65.71h4v3.11h-4zM323 65.71h10v3.11h-10zM335 65.71h2v3.11h-2zM341 65.71h2v3.11h-2zM357 65.71h2v3.11h-2zM363 65.71h2v3.11h-2zM367 65.71h2v3.11h-2zM377 65.71h2v3.11h-2zM393 65.71h2v3.11h-2zM409 65.71h2v3.11h-2zM443 65.71h2v3.11h-2zM453 65.71h4v3.11h-4zM461 65.71h2v3.11h-2zM471 65.71h2v3.11h-2zM497 65.71h2v3.11h-2zM515 65.71h2v3.11h-2zM523 65.71h4v3.11h-4zM539 65.71h2v3.11h-2zM555 65.71h2v3.11h-2zM581 65.71h2v3.11h-2zM611 65.71h2v3.11h-2zM615 65.71h2v3.11h-2zM637 65.71h4v3.11h-4zM649 65.71h2v3.11h-2zM653 65.71h2v3.11h-2zM663 65.71h2v3.11h-2zM701 65.71h2v3.11h-2zM705 65.71h2v3.11h-2zM739 65.71h2v3.11h-2zM771 65.71h2v3.11h-2zM775 65.71h4v3.11h-4zM787 65.71h2v3.11h-2zM809 65.71h2v3.11h-2zM819 65.71h2v3.11h-2zM863 65.71h2v3.11h-2zM867 65.71h2v3.11h-2zM877 65.71h2v3.11h-2zM881 65.71h4v3.11h-4zM69 68.78h4v3.11h-4zM75 68.78h4v3.11h-4zM83 68.78h4v3.11h-4zM95 68.78h2v3.11h-2zM99 68.78h2v3.11h-2zM111 68.78h2v3.11h-2zM115 68.78h6v3.11h-6zM127 68.78h4v3.11h-4zM137 68.78h4v3.11h-4zM145 68.78h6v3.11h-6zM159 68.78h12v3.11h-12zM173 68.78h2v3.11h-2zM229 68.78h2v3.11h-2zM233 68.78h2v3.11h-2zM241 68.78h4v3.11h-4zM253 68.78h2v3.11h-2zM269 68.78h2v3.11h-2zM309 68.78h4v3.11h-4zM339 68.78h2v3.11h-2zM351 68.78h2v3.11h-2zM359 68.78h2v3.11h-2zM401 68.78h4v3.11h-4zM451 68.78h2v3.11h-2zM515 68.78h2v3.11h-2zM521 68.78h2v3.11h-2zM553 68.78h2v3.11h-2zM607 68.78h2v3.11h-2zM631 68.78h2v3.11h-2zM637 68.78h2v3.11h-2zM657 68.78h2v3.11h-2zM677 68.78h2v3.11h-2zM721 68.78h4v3.11h-4zM739 68.78h4v3.11h-4zM761 68.78h2v3.11h-2zM851 68.78h4v3.11h-4zM857 68.78h4v3.11h-4zM865 68.78h2v3.11h-2zM873 68.78h2v3.11h-2zM877 68.78h2v3.11h-2zM883 68.78h6v3.11h-6zM69 71.85h2v3.11h-2zM77 71.85h4v3.11h-4zM85 71.85h2v3.11h-2zM91 71.85h4v3.11h-4zM99 71.85h6v3.11h-6zM111 71.85h4v3.11h-4zM119 71.85h4v3.11h-4zM133 71.85h4v3.11h-4zM141 71.85h2v3.11h-2zM145 71.85h6v3.11h-6zM175 71.85h2v3.11h-2zM181 71.85h6v3.11h-6zM193 71.85h2v3.11h-2zM197 71.85h2v3.11h-2zM211 71.85h2v3.11h-2zM225 71.85h2v3.11h-2zM235 71.85h2v3.11h-2zM239 71.85h2v3.11h-2zM247 71.85h4v3.11h-4zM265 71.85h2v3.11h-2zM299 71.85h2v3.11h-2zM357 71.85h2v3.11h-2zM387 71.85h2v3.11h-2zM445 71.85h2v3.11h-2zM451 71.85h2v3.11h-2zM461 71.85h2v3.11h-2zM471 71.85h2v3.11h-2zM525 71.85h2v3.11h-2zM557 71.85h2v3.11h-2zM595 71.85h2v3.11h-2zM637 71.85h2v3.11h-2zM695 71.85h2v3.11h-2zM755 71.85h2v3.11h-2zM789 71.85h2v3.11h-2zM793 71.85h2v3.11h-2zM811 71.85h2v3.11h-2zM815 71.85h2v3.11h-2zM851 71.85h2v3.11h-2zM857 71.85h2v3.11h-2zM865 71.85h6v3.11h-6zM875 71.85h2v3.11h-2zM885 71.85h4v3.11h-4zM69 74.93h4v3.11h-4zM77 74.93h2v3.11h-2zM89 74.93h2v3.11h-2zM95 74.93h4v3.11h-4zM101 74.93h2v3.11h-2zM107 74.93h2v3.11h-2zM111 74.93h8v3.11h-8zM123 74.93h2v3.11h-2zM135 74.93h2v3.11h-2zM143 74.93h2v3.11h-2zM151 74.93h2v3.11h-2zM157 74.93h4v3.11h-4zM167 74.93h2v3.11h-2zM183 74.93h2v3.11h-2zM193 74.93h6v3.11h-6zM201 74.93h2v3.11h-2zM221 74.93h2v3.11h-2zM239 74.93h2v3.11h-2zM267 74.93h2v3.11h-2zM287 74.93h2v3.11h-2zM367 74.93h2v3.11h-2zM461 74.93h2v3.11h-2zM499 74.93h2v3.11h-2zM551 74.93h2v3.11h-2zM573 74.93h2v3.11h-2zM623 74.93h2v3.11h-2zM645 74.93h2v3.11h-2zM789 74.93h2v3.11h-2zM865 74.93h2v3.11h-2zM875 74.93h4v3.11h-4zM887 74.93h2v3.11h-2z"/><path fill="#2e2e40" d="M79 31.90h2v3.11h-2zM141 31.90h2v3.11h-2zM873 38.05h2v3.11h-2zM73 44.19h2v3.11h-2zM165 44.19h2v3.11h-2zM863 53.41h2v3.11h-2zM873 59.56h2v3.11h-2z"/><path fill="#95aeb5" d="M85 31.90h2v3.11h-2zM867 34.97h2v3.11h-2zM501 38.05h2v3.11h-2zM709 38.05h2v3.11h-2zM735 38.05h2v3.11h-2zM867 38.05h2v3.11h-2zM135 41.12h2v3.11h-2zM145 41.12h2v3.11h-2zM191 41.12h4v3.11h-4zM417 41.12h2v3.11h-2zM849 41.12h2v3.11h-2zM857 41.12h2v3.11h-2zM231 44.19h2v3.11h-2zM305 44.19h2v3.11h-2zM493 44.19h2v3.11h-2zM561 44.19h2v3.11h-2zM717 44.19h2v3.11h-2zM743 44.19h2v3.11h-2zM777 44.19h2v3.11h-2zM243 47.27h2v3.11h-2zM313 47.27h2v3.11h-2zM335 47.27h2v3.11h-2zM345 47.27h2v3.11h-2zM351 47.27h2v3.11h-2zM355 47.27h2v3.11h-2zM373 47.27h2v3.11h-2zM377 47.27h2v3.11h-2zM453 47.27h2v3.11h-2zM509 47.27h2v3.11h-2zM529 47.27h2v3.11h-2zM533 47.27h2v3.11h-2zM541 47.27h4v3.11h-4zM563 47.27h2v3.11h-2zM587 47.27h2v3.11h-2zM609 47.27h2v3.11h-2zM627 47.27h2v3.11h-2zM643 47.27h2v3.11h-2zM679 47.27h2v3.11h-2zM683 47.27h2v3.11h-2zM699 47.27h2v3.11h-2zM737 47.27h2v3.11h-2zM741 47.27h2v3.11h-2zM749 47.27h2v3.11h-2zM797 47.27h4v3.11h-4zM819 47.27h4v3.11h-4zM837 47.27h4v3.11h-4zM87 50.34h2v3.11h-2zM213 50.34h4v3.11h-4zM219 50.34h2v3.11h-2zM227 50.34h2v3.11h-2zM243 50.34h2v3.11h-2zM251 50.34h4v3.11h-4zM269 50.34h2v3.11h-2zM283 50.34h2v3.11h-2zM361 50.34h2v3.11h-2zM391 50.34h2v3.11h-2zM475 50.34h2v3.11h-2zM493 50.34h2v3.11h-2zM513 50.34h2v3.11h-2zM535 50.34h2v3.11h-2zM569 50.34h2v3.11h-2zM577 50.34h2v3.11h-2zM625 50.34h2v3.11h-2zM641 50.34h2v3.11h-2zM691 50.34h2v3.11h-2zM705 50.34h2v3.11h-2zM739 50.34h2v3.11h-2zM765 50.34h2v3.11h-2zM769 50.34h2v3.11h-2zM803 50.34h2v3.11h-2zM815 50.34h2v3.11h-2zM875 50.34h2v3.11h-2zM219 53.41h2v3.11h-2zM283 53.41h2v3.11h-2zM321 53.41h2v3.11h-2zM379 53.41h2v3.11h-2zM383 53.41h2v3.11h-2zM475 53.41h2v3.11h-2zM535 53.41h2v3.11h-2zM565 53.41h2v3.11h-2zM569 53.41h2v3.11h-2zM595 53.41h2v3.11h-2zM605 53.41h2v3.11h-2zM627 53.41h2v3.11h-2zM679 53.41h2v3.11h-2zM749 53.41h2v3.11h-2zM783 53.41h2v3.11h-2zM861 53.41h2v3.11h-2zM231 56.49h2v3.11h-2zM303 56.49h2v3.11h-2zM379 56.49h2v3.11h-2zM795 56.49h2v3.11h-2zM855 56.49h2v3.11h-2zM193 59.56h2v3.11h-2zM741 59.56h2v3.11h-2zM865 59.56h2v3.11h-2zM371 62.63h2v3.11h-2zM871 62.63h2v3.11h-2zM89 65.71h2v3.11h-2zM203 65.71h2v3.11h-2zM319 65.71h2v3.11h-2zM571 65.71h2v3.11h-2zM659 65.71h2v3.11h-2zM853 65.71h2v3.11h-2zM171 68.78h2v3.11h-2zM189 68.78h2v3.11h-2zM265 68.78h2v3.11h-2zM579 68.78h2v3.11h-2zM699 68.78h2v3.11h-2zM849 68.78h2v3.11h-2zM869 68.78h2v3.11h-2zM131 71.85h2v3.11h-2zM205 71.85h2v3.11h-2zM381 71.85h4v3.11h-4zM567 71.85h2v3.11h-2zM579 71.85h2v3.11h-2zM871 71.85h2v3.11h-2zM227 74.93h2v3.11h-2zM265 74.93h2v3.11h-2zM359 74.93h2v3.11h-2zM571 74.93h2v3.11h-2zM731 74.93h2v3.11h-2zM797 74.93h2v3.11h-2zM859 74.93h2v3.11h-2z"/><path fill="#000000" d="M87 31.90h2v3.11h-2zM95 31.90h2v3.11h-2zM101 31.90h4v3.11h-4zM107 31.90h2v3.11h-2zM111 31.90h4v3.11h-4zM121 31.90h2v3.11h-2zM127 31.90h2v3.11h-2zM157 31.90h2v3.11h-2zM889 31.90h2v3.11h-2zM73 34.97h6v3.11h-6zM83 34.97h6v3.11h-6zM101 34.97h2v3.11h-2zM111 34.97h2v3.11h-2zM119 34.97h6v3.11h-6zM883 34.97h2v3.11h-2zM71 38.05h2v3.11h-2zM77 38.05h4v3.11h-4zM91 38.05h2v3.11h-2zM95 38.05h2v3.11h-2zM99 38.05h8v3.11h-8zM109 38.05h2v3.11h-2zM115 38.05h2v3.11h-2zM119 38.05h2v3.11h-2zM125 38.05h2v3.11h-2zM147 38.05h2v3.11h-2zM165 38.05h2v3.11h-2zM887 38.05h4v3.11h-4zM71 41.12h2v3.11h-2zM93 41.12h2v3.11h-2zM105 41.12h4v3.11h-4zM111 41.12h2v3.11h-2zM121 41.12h2v3.11h-2zM127 41.12h2v3.11h-2zM143 41.12h2v3.11h-2zM881 41.12h4v3.11h-4zM889 41.12h2v3.11h-2zM87 44.19h2v3.11h-2zM91 44.19h2v3.11h-2zM97 44.19h2v3.11h-2zM103 44.19h2v3.11h-2zM107 44.19h2v3.11h-2zM881 44.19h4v3.11h-4zM71 47.27h8v3.11h-8zM83 47.27h4v3.11h-4zM91 47.27h6v3.11h-6zM109 47.27h2v3.11h-2zM113 47.27h4v3.11h-4zM123 47.27h2v3.11h-2zM129 47.27h2v3.11h-2zM133 47.27h2v3.11h-2zM139 47.27h4v3.11h-4zM151 47.27h4v3.11h-4zM165 47.27h2v3.11h-2zM171 47.27h2v3.11h-2zM197 47.27h2v3.11h-2zM203 47.27h4v3.11h-4zM887 47.27h4v3.11h-4zM73 50.34h4v3.11h-4zM81 50.34h6v3.11h-6zM99 50.34h4v3.11h-4zM107 50.34h2v3.11h-2zM113 50.34h2v3.11h-2zM119 50.34h2v3.11h-2zM125 50.34h2v3.11h-2zM135 50.34h2v3.11h-2zM139 50.34h2v3.11h-2zM143 50.34h2v3.11h-2zM151 50.34h2v3.11h-2zM155 50.34h4v3.11h-4zM171 50.34h2v3.11h-2zM185 50.34h4v3.11h-4zM195 50.34h4v3.11h-4zM867 50.34h2v3.11h-2zM887 50.34h4v3.11h-4zM79 53.41h10v3.11h-10zM91 53.41h2v3.11h-2zM99 53.41h2v3.11h-2zM109 53.41h4v3.11h-4zM133 53.41h2v3.11h-2zM867 53.41h2v3.11h-2zM875 53.41h4v3.11h-4zM883 53.41h2v3.11h-2zM889 53.41h2v3.11h-2zM77 56.49h2v3.11h-2zM83 56.49h4v3.11h-4zM91 56.49h8v3.11h-8zM109 56.49h4v3.11h-4zM123 56.49h4v3.11h-4zM863 56.49h2v3.11h-2zM875 56.49h2v3.11h-2zM883 56.49h2v3.11h-2zM73 59.56h2v3.11h-2zM81 59.56h2v3.11h-2zM93 59.56h4v3.11h-4zM101 59.56h2v3.11h-2zM105 59.56h4v3.11h-4zM125 59.56h2v3.11h-2zM889 59.56h2v3.11h-2zM71 62.63h2v3.11h-2zM75 62.63h4v3.11h-4zM89 62.63h4v3.11h-4zM95 62.63h2v3.11h-2zM99 62.63h2v3.11h-2zM113 62.63h2v3.11h-2zM119 62.63h2v3.11h-2zM889 62.63h2v3.11h-2zM71 65.71h2v3.11h-2zM75 65.71h2v3.11h-2zM79 65.71h2v3.11h-2zM87 65.71h2v3.11h-2zM93 65.71h2v3.11h-2zM101 65.71h2v3.11h-2zM109 65.71h2v3.11h-2zM115 65.71h2v3.11h-2zM121 65.71h2v3.11h-2zM127 65.71h4v3.11h-4zM133 65.71h2v3.11h-2zM149 65.71h2v3.11h-2zM879 65.71h2v3.11h-2zM889 65.71h2v3.11h-2zM73 68.78h2v3.11h-2zM79 68.78h4v3.11h-4zM89 68.78h2v3.11h-2zM93 68.78h2v3.11h-2zM97 68.78h2v3.11h-2zM101 68.78h10v3.11h-10zM125 68.78h2v3.11h-2zM73 71.85h4v3.11h-4zM83 71.85h2v3.11h-2zM89 71.85h2v3.11h-2zM95 71.85h4v3.11h-4zM109 71.85h2v3.11h-2zM115 71.85h4v3.11h-4zM125 71.85h2v3.11h-2zM173 71.85h2v3.11h-2zM73 74.93h4v3.11h-4zM81 74.93h2v3.11h-2zM85 74.93h4v3.11h-4zM91 74.93h4v3.11h-4zM103 74.93h4v3.11h-4zM119 74.93h4v3.11h-4zM127 74.93h2v3.11h-2zM147 74.93h2v3.11h-2zM881 74.93h2v3.11h-2zM889 74.93h2v3.11h-2z"/><path fill="#171720" d="M99 31.90h2v3.11h-2zM129 31.90h2v3.11h-2zM149 44.19h2v3.11h-2zM879 56.49h2v3.11h-2zM169 71.85h2v3.11h-2zM889 71.85h2v3.11h-2zM863 74.93h2v3.11h-2z"/><path fill="#727f92" d="M115 31.90h2v3.11h-2zM875 31.90h2v3.11h-2zM139 34.97h2v3.11h-2zM275 44.19h2v3.11h-2zM181 47.27h2v3.11h-2zM229 47.27h2v3.11h-2zM305 47.27h2v3.11h-2zM327 47.27h2v3.11h-2zM343 47.27h2v3.11h-2zM385 47.27h2v3.11h-2zM435 47.27h2v3.11h-2zM771 47.27h2v3.11h-2zM873 47.27h2v3.11h-2zM273 50.34h2v3.11h-2zM309 50.34h2v3.11h-2zM343 50.34h2v3.11h-2zM749 50.34h2v3.11h-2zM139 56.49h2v3.11h-2zM385 56.49h2v3.11h-2zM865 62.63h2v3.11h-2zM875 65.71h2v3.11h-2zM167 71.85h2v3.11h-2zM881 71.85h2v3.11h-2z"/><path fill="#8fa6af" d="M131 31.90h2v3.11h-2zM165 34.97h2v3.11h-2zM191 38.05h2v3.11h-2zM197 38.05h2v3.11h-2zM217 38.05h2v3.11h-2zM717 38.05h2v3.11h-2zM179 41.12h2v3.11h-2zM163 44.19h2v3.11h-2zM183 44.19h2v3.11h-2zM203 44.19h2v3.11h-2zM209 44.19h2v3.11h-2zM259 44.19h2v3.11h-2zM303 44.19h2v3.11h-2zM379 44.19h2v3.11h-2zM535 44.19h2v3.11h-2zM597 44.19h2v3.11h-2zM729 44.19h2v3.11h-2zM779 44.19h2v3.11h-2zM207 47.27h2v3.11h-2zM261 47.27h2v3.11h-2zM299 47.27h4v3.11h-4zM309 47.27h2v3.11h-2zM317 47.27h2v3.11h-2zM333 47.27h2v3.11h-2zM361 47.27h2v3.11h-2zM365 47.27h2v3.11h-2zM369 47.27h2v3.11h-2zM375 47.27h2v3.11h-2zM387 47.27h2v3.11h-2zM391 47.27h2v3.11h-2zM395 47.27h2v3.11h-2zM415 47.27h2v3.11h-2zM503 47.27h2v3.11h-2zM535 47.27h2v3.11h-2zM681 47.27h2v3.11h-2zM735 47.27h2v3.11h-2zM739 47.27h2v3.11h-2zM813 47.27h2v3.11h-2zM823 47.27h2v3.11h-2zM841 47.27h2v3.11h-2zM137 50.34h2v3.11h-2zM221 50.34h2v3.11h-2zM229 50.34h2v3.11h-2zM239 50.34h2v3.11h-2zM277 50.34h2v3.11h-2zM295 50.34h2v3.11h-2zM323 50.34h2v3.11h-2zM339 50.34h2v3.11h-2zM365 50.34h2v3.11h-2zM379 50.34h2v3.11h-2zM383 50.34h2v3.11h-2zM453 50.34h2v3.11h-2zM459 50.34h2v3.11h-2zM555 50.34h2v3.11h-2zM571 50.34h2v3.11h-2zM603 50.34h2v3.11h-2zM655 50.34h2v3.11h-2zM675 50.34h2v3.11h-2zM683 50.34h2v3.11h-2zM699 50.34h2v3.11h-2zM717 50.34h2v3.11h-2zM751 50.34h2v3.11h-2zM777 50.34h2v3.11h-2zM783 50.34h2v3.11h-2zM795 50.34h2v3.11h-2zM799 50.34h2v3.11h-2zM811 50.34h2v3.11h-2zM829 50.34h2v3.11h-2zM837 50.34h2v3.11h-2zM879 50.34h2v3.11h-2zM101 53.41h2v3.11h-2zM257 53.41h2v3.11h-2zM265 53.41h2v3.11h-2zM303 53.41h2v3.11h-2zM385 53.41h2v3.11h-2zM453 53.41h2v3.11h-2zM531 53.41h2v3.11h-2zM661 53.41h2v3.11h-2zM147 56.49h2v3.11h-2zM257 56.49h2v3.11h-2zM415 56.49h2v3.11h-2zM149 59.56h2v3.11h-2zM159 59.56h2v3.11h-2zM177 59.56h2v3.11h-2zM869 59.56h2v3.11h-2zM693 62.63h2v3.11h-2zM749 65.71h2v3.11h-2zM849 65.71h2v3.11h-2zM181 68.78h2v3.11h-2zM81 71.85h2v3.11h-2zM129 71.85h2v3.11h-2zM379 71.85h2v3.11h-2zM675 71.85h2v3.11h-2zM731 71.85h2v3.11h-2zM855 71.85h2v3.11h-2zM139 74.93h2v3.11h-2zM675 74.93h2v3.11h-2zM717 74.93h2v3.11h-2z"/><path fill="#edf4f4" d="M147 31.90h2v3.11h-2zM181 31.90h4v3.11h-4zM289 31.90h2v3.11h-2zM325 31.90h2v3.11h-2zM329 31.90h2v3.11h-2zM363 31.90h2v3.11h-2zM369 31.90h2v3.11h-2zM377 31.90h2v3.11h-2zM383 31.90h2v3.11h-2zM399 31.90h2v3.11h-2zM427 31.90h2v3.11h-2zM469 31.90h4v3.11h-4zM475 31.90h2v3.11h-2zM517 31.90h2v3.11h-2zM537 31.90h2v3.11h-2zM553 31.90h2v3.11h-2zM559 31.90h2v3.11h-2zM569 31.90h2v3.11h-2zM573 31.90h2v3.11h-2zM591 31.90h2v3.11h-2zM627 31.90h2v3.11h-2zM631 31.90h2v3.11h-2zM641 31.90h2v3.11h-2zM645 31.90h2v3.11h-2zM673 31.90h2v3.11h-2zM693 31.90h2v3.11h-2zM741 31.90h2v3.11h-2zM779 31.90h4v3.11h-4zM805 31.90h2v3.11h-2zM823 31.90h2v3.11h-2zM207 34.97h2v3.11h-2zM241 34.97h2v3.11h-2zM245 34.97h2v3.11h-2zM283 34.97h2v3.11h-2zM395 34.97h2v3.11h-2zM409 34.97h2v3.11h-2zM453 34.97h4v3.11h-4zM479 34.97h2v3.11h-2zM541 34.97h2v3.11h-2zM553 34.97h2v3.11h-2zM557 34.97h2v3.11h-2zM571 34.97h2v3.11h-2zM575 34.97h2v3.11h-2zM595 34.97h2v3.11h-2zM603 34.97h2v3.11h-2zM613 34.97h4v3.11h-4zM619 34.97h2v3.11h-2zM631 34.97h2v3.11h-2zM647 34.97h2v3.11h-2zM655 34.97h2v3.11h-2zM693 34.97h2v3.11h-2zM723 34.97h2v3.11h-2zM745 34.97h2v3.11h-2zM779 34.97h2v3.11h-2zM861 34.97h2v3.11h-2zM69 38.05h2v3.11h-2zM207 38.05h2v3.11h-2zM213 38.05h2v3.11h-2zM223 38.05h2v3.11h-2zM237 38.05h2v3.11h-2zM265 38.05h2v3.11h-2zM281 38.05h2v3.11h-2zM313 38.05h2v3.11h-2zM373 38.05h2v3.11h-2zM405 38.05h2v3.11h-2zM421 38.05h2v3.11h-2zM425 38.05h2v3.11h-2zM435 38.05h4v3.11h-4zM445 38.05h2v3.11h-2zM457 38.05h2v3.11h-2zM539 38.05h2v3.11h-2zM559 38.05h4v3.11h-4zM575 38.05h2v3.11h-2zM583 38.05h2v3.11h-2zM595 38.05h2v3.11h-2zM609 38.05h2v3.11h-2zM623 38.05h2v3.11h-2zM637 38.05h2v3.11h-2zM667 38.05h2v3.11h-2zM697 38.05h2v3.11h-2zM711 38.05h2v3.11h-2zM719 38.05h4v3.11h-4zM793 38.05h2v3.11h-2zM799 38.05h2v3.11h-2zM819 38.05h2v3.11h-2zM835 38.05h2v3.11h-2zM871 38.05h2v3.11h-2zM141 41.12h2v3.11h-2zM155 41.12h2v3.11h-2zM177 41.12h2v3.11h-2zM197 41.12h2v3.11h-2zM211 41.12h2v3.11h-2zM299 41.12h2v3.11h-2zM319 41.12h2v3.11h-2zM361 41.12h2v3.11h-2zM365 41.12h2v3.11h-2zM423 41.12h2v3.11h-2zM451 41.12h2v3.11h-2zM479 41.12h2v3.11h-2zM497 41.12h4v3.11h-4zM539 41.12h4v3.11h-4zM551 41.12h2v3.11h-2zM583 41.12h2v3.11h-2zM593 41.12h4v3.11h-4zM613 41.12h2v3.11h-2zM689 41.12h2v3.11h-2zM721 41.12h2v3.11h-2zM725 41.12h2v3.11h-2zM845 41.12h2v3.11h-2zM111 44.19h2v3.11h-2zM185 44.19h2v3.11h-2zM389 44.19h2v3.11h-2zM395 44.19h2v3.11h-2zM409 44.19h2v3.11h-2zM429 44.19h2v3.11h-2zM471 44.19h2v3.11h-2zM515 44.19h2v3.11h-2zM523 44.19h2v3.11h-2zM601 44.19h2v3.11h-2zM657 44.19h2v3.11h-2zM661 44.19h2v3.11h-2zM759 44.19h4v3.11h-4zM803 44.19h2v3.11h-2zM775 47.27h2v3.11h-2zM879 47.27h2v3.11h-2zM313 50.34h2v3.11h-2zM335 50.34h2v3.11h-2zM395 50.34h2v3.11h-2zM239 53.41h2v3.11h-2zM287 53.41h2v3.11h-2zM395 53.41h2v3.11h-2zM443 53.41h2v3.11h-2zM491 53.41h2v3.11h-2zM559 53.41h2v3.11h-2zM707 53.41h2v3.11h-2zM775 53.41h2v3.11h-2zM815 53.41h2v3.11h-2zM247 56.49h2v3.11h-2zM253 56.49h2v3.11h-2zM259 56.49h2v3.11h-2zM457 56.49h2v3.11h-2zM471 56.49h2v3.11h-2zM487 56.49h4v3.11h-4zM527 56.49h2v3.11h-2zM687 56.49h2v3.11h-2zM705 56.49h2v3.11h-2zM711 56.49h2v3.11h-2zM757 56.49h2v3.11h-2zM811 56.49h2v3.11h-2zM213 59.56h2v3.11h-2zM257 59.56h2v3.11h-2zM269 59.56h4v3.11h-4zM323 59.56h2v3.11h-2zM335 59.56h2v3.11h-2zM343 59.56h2v3.11h-2zM381 59.56h2v3.11h-2zM387 59.56h2v3.11h-2zM403 59.56h2v3.11h-2zM407 59.56h4v3.11h-4zM431 59.56h2v3.11h-2zM459 59.56h2v3.11h-2zM473 59.56h2v3.11h-2zM479 59.56h2v3.11h-2zM483 59.56h2v3.11h-2zM495 59.56h2v3.11h-2zM549 59.56h2v3.11h-2zM557 59.56h2v3.11h-2zM567 59.56h2v3.11h-2zM593 59.56h2v3.11h-2zM601 59.56h4v3.11h-4zM609 59.56h2v3.11h-2zM619 59.56h2v3.11h-2zM623 59.56h2v3.11h-2zM631 59.56h2v3.11h-2zM637 59.56h2v3.11h-2zM643 59.56h2v3.11h-2zM651 59.56h2v3.11h-2zM667 59.56h2v3.11h-2zM721 59.56h2v3.11h-2zM727 59.56h2v3.11h-2zM787 59.56h2v3.11h-2zM801 59.56h2v3.11h-2zM805 59.56h4v3.11h-4zM815 59.56h2v3.11h-2zM187 62.63h2v3.11h-2zM261 62.63h2v3.11h-2zM289 62.63h2v3.11h-2zM293 62.63h4v3.11h-4zM327 62.63h2v3.11h-2zM331 62.63h2v3.11h-2zM359 62.63h2v3.11h-2zM367 62.63h2v3.11h-2zM411 62.63h2v3.11h-2zM433 62.63h2v3.11h-2zM473 62.63h2v3.11h-2zM489 62.63h2v3.11h-2zM499 62.63h2v3.11h-2zM515 62.63h2v3.11h-2zM537 62.63h2v3.11h-2zM541 62.63h2v3.11h-2zM567 62.63h2v3.11h-2zM597 62.63h2v3.11h-2zM631 62.63h2v3.11h-2zM645 62.63h2v3.11h-2zM653 62.63h2v3.11h-2zM667 62.63h2v3.11h-2zM697 62.63h2v3.11h-2zM711 62.63h2v3.11h-2zM741 62.63h2v3.11h-2zM753 62.63h2v3.11h-2zM771 62.63h2v3.11h-2zM781 62.63h2v3.11h-2zM797 62.63h2v3.11h-2zM819 62.63h2v3.11h-2zM829 62.63h2v3.11h-2zM173 65.71h2v3.11h-2zM179 65.71h2v3.11h-2zM219 65.71h2v3.11h-2zM223 65.71h2v3.11h-2zM267 65.71h2v3.11h-2zM275 65.71h2v3.11h-2zM299 65.71h2v3.11h-2zM305 65.71h2v3.11h-2zM317 65.71h2v3.11h-2zM339 65.71h2v3.11h-2zM361 65.71h2v3.11h-2zM401 65.71h4v3.11h-4zM495 65.71h2v3.11h-2zM505 65.71h2v3.11h-2zM517 65.71h6v3.11h-6zM535 65.71h4v3.11h-4zM545 65.71h2v3.11h-2zM591 65.71h2v3.11h-2zM601 65.71h6v3.11h-6zM635 65.71h2v3.11h-2zM647 65.71h2v3.11h-2zM651 65.71h2v3.11h-2zM661 65.71h2v3.11h-2zM685 65.71h2v3.11h-2zM755 65.71h2v3.11h-2zM785 65.71h2v3.11h-2zM797 65.71h2v3.11h-2zM827 65.71h2v3.11h-2zM831 65.71h2v3.11h-2zM839 65.71h2v3.11h-2zM847 65.71h2v3.11h-2zM183 68.78h2v3.11h-2zM221 68.78h2v3.11h-2zM257 68.78h2v3.11h-2zM297 68.78h2v3.11h-2zM303 68.78h2v3.11h-2zM327 68.78h4v3.11h-4zM353 68.78h2v3.11h-2zM357 68.78h2v3.11h-2zM365 68.78h2v3.11h-2zM397 68.78h2v3.11h-2zM409 68.78h2v3.11h-2zM415 68.78h2v3.11h-2zM473 68.78h2v3.11h-2zM505 68.78h2v3.11h-2zM523 68.78h4v3.11h-4zM551 68.78h2v3.11h-2zM597 68.78h6v3.11h-6zM619 68.78h2v3.11h-2zM649 68.78h2v3.11h-2zM663 68.78h2v3.11h-2zM775 68.78h2v3.11h-2zM787 68.78h2v3.11h-2zM793 68.78h2v3.11h-2zM821 68.78h2v3.11h-2zM837 68.78h2v3.11h-2zM241 71.85h2v3.11h-2zM245 71.85h2v3.11h-2zM253 71.85h2v3.11h-2zM263 71.85h2v3.11h-2zM287 71.85h2v3.11h-2zM391 71.85h2v3.11h-2zM401 71.85h2v3.11h-2zM405 71.85h2v3.11h-2zM421 71.85h2v3.11h-2zM425 71.85h2v3.11h-2zM457 71.85h2v3.11h-2zM465 71.85h2v3.11h-2zM475 71.85h2v3.11h-2zM487 71.85h2v3.11h-2zM509 71.85h2v3.11h-2zM599 71.85h4v3.11h-4zM645 71.85h2v3.11h-2zM659 71.85h2v3.11h-2zM663 71.85h2v3.11h-2zM185 74.93h2v3.11h-2zM211 74.93h2v3.11h-2zM235 74.93h2v3.11h-2zM247 74.93h2v3.11h-2zM259 74.93h2v3.11h-2zM321 74.93h4v3.11h-4zM375 74.93h2v3.11h-2zM553 74.93h2v3.11h-2zM565 74.93h2v3.11h-2zM575 74.93h2v3.11h-2zM613 74.93h2v3.11h-2zM695 74.93h2v3.11h-2zM725 74.93h4v3.11h-4zM751 74.93h2v3.11h-2zM813 74.93h2v3.11h-2zM823 74.93h2v3.11h-2z"/><path fill="#788798" d="M149 31.90h2v3.11h-2zM863 34.97h2v3.11h-2zM171 41.12h2v3.11h-2zM135 44.19h2v3.11h-2zM233 44.19h2v3.11h-2zM183 47.27h2v3.11h-2zM231 47.27h2v3.11h-2zM235 47.27h2v3.11h-2zM275 47.27h2v3.11h-2zM287 47.27h2v3.11h-2zM383 47.27h2v3.11h-2zM399 47.27h2v3.11h-2zM475 47.27h2v3.11h-2zM169 50.34h2v3.11h-2zM241 50.34h2v3.11h-2zM263 50.34h2v3.11h-2zM267 50.34h2v3.11h-2zM297 50.34h2v3.11h-2zM147 53.41h2v3.11h-2zM859 53.41h2v3.11h-2zM143 56.49h2v3.11h-2zM199 56.49h2v3.11h-2zM99 59.56h2v3.11h-2zM137 59.56h2v3.11h-2zM863 59.56h2v3.11h-2zM171 65.71h2v3.11h-2zM187 65.71h2v3.11h-2zM859 65.71h2v3.11h-2zM141 68.78h2v3.11h-2zM863 68.78h2v3.11h-2zM853 71.85h2v3.11h-2z"/><path fill="#3f3f58" d="M151 31.90h2v3.11h-2zM163 41.12h4v3.11h-4zM141 44.19h2v3.11h-2zM157 47.27h2v3.11h-2zM175 47.27h2v3.11h-2zM167 65.71h4v3.11h-4zM861 68.78h2v3.11h-2zM79 74.93h2v3.11h-2zM83 74.93h2v3.11h-2z"/><path fill="#c0d7d7" d="M153 31.90h2v3.11h-2zM271 31.90h2v3.11h-2zM587 31.90h2v3.11h-2zM619 31.90h2v3.11h-2zM809 31.90h2v3.11h-2zM169 34.97h2v3.11h-2zM321 34.97h4v3.11h-4zM383 34.97h2v3.11h-2zM391 34.97h2v3.11h-2zM431 34.97h2v3.11h-2zM503 34.97h2v3.11h-2zM561 34.97h2v3.11h-2zM667 34.97h2v3.11h-2zM673 34.97h4v3.11h-4zM733 34.97h2v3.11h-2zM749 34.97h2v3.11h-2zM783 34.97h2v3.11h-2zM825 34.97h2v3.11h-2zM833 34.97h2v3.11h-2zM179 38.05h2v3.11h-2zM253 38.05h4v3.11h-4zM263 38.05h2v3.11h-2zM293 38.05h2v3.11h-2zM307 38.05h2v3.11h-2zM393 38.05h4v3.11h-4zM399 38.05h2v3.11h-2zM431 38.05h2v3.11h-2zM473 38.05h2v3.11h-2zM581 38.05h2v3.11h-2zM673 38.05h2v3.11h-2zM723 38.05h2v3.11h-2zM727 38.05h2v3.11h-2zM741 38.05h2v3.11h-2zM811 38.05h2v3.11h-2zM253 41.12h2v3.11h-2zM281 41.12h2v3.11h-2zM311 41.12h2v3.11h-2zM315 41.12h2v3.11h-2zM321 41.12h2v3.11h-2zM337 41.12h2v3.11h-2zM369 41.12h2v3.11h-2zM397 41.12h2v3.11h-2zM411 41.12h2v3.11h-2zM421 41.12h2v3.11h-2zM435 41.12h2v3.11h-2zM467 41.12h2v3.11h-2zM477 41.12h2v3.11h-2zM487 41.12h2v3.11h-2zM513 41.12h2v3.11h-2zM521 41.12h2v3.11h-2zM553 41.12h2v3.11h-2zM557 41.12h2v3.11h-2zM587 41.12h2v3.11h-2zM599 41.12h2v3.11h-2zM707 41.12h2v3.11h-2zM719 41.12h2v3.11h-2zM727 41.12h2v3.11h-2zM733 41.12h2v3.11h-2zM765 41.12h4v3.11h-4zM787 41.12h2v3.11h-2zM803 41.12h2v3.11h-2zM811 41.12h2v3.11h-2zM821 41.12h2v3.11h-2zM825 41.12h2v3.11h-2zM831 41.12h2v3.11h-2zM865 41.12h2v3.11h-2zM871 41.12h2v3.11h-2zM153 44.19h2v3.11h-2zM215 44.19h2v3.11h-2zM219 44.19h2v3.11h-2zM331 44.19h4v3.11h-4zM363 44.19h2v3.11h-2zM369 44.19h2v3.11h-2zM397 44.19h4v3.11h-4zM417 44.19h2v3.11h-2zM441 44.19h4v3.11h-4zM455 44.19h4v3.11h-4zM483 44.19h6v3.11h-6zM509 44.19h2v3.11h-2zM513 44.19h2v3.11h-2zM529 44.19h2v3.11h-2zM537 44.19h2v3.11h-2zM551 44.19h2v3.11h-2zM557 44.19h2v3.11h-2zM583 44.19h2v3.11h-2zM605 44.19h2v3.11h-2zM643 44.19h2v3.11h-2zM651 44.19h2v3.11h-2zM665 44.19h2v3.11h-2zM679 44.19h2v3.11h-2zM691 44.19h2v3.11h-2zM771 44.19h2v3.11h-2zM813 44.19h2v3.11h-2zM819 44.19h2v3.11h-2zM829 44.19h2v3.11h-2zM841 44.19h2v3.11h-2zM847 44.19h2v3.11h-2zM869 44.19h2v3.11h-2zM437 47.27h2v3.11h-2zM441 47.27h2v3.11h-2zM449 47.27h2v3.11h-2zM559 47.27h2v3.11h-2zM595 47.27h6v3.11h-6zM647 47.27h2v3.11h-2zM673 47.27h2v3.11h-2zM703 47.27h2v3.11h-2zM753 47.27h2v3.11h-2zM843 47.27h2v3.11h-2zM281 50.34h2v3.11h-2zM287 50.34h2v3.11h-2zM329 50.34h2v3.11h-2zM345 50.34h2v3.11h-2zM401 50.34h2v3.11h-2zM421 50.34h2v3.11h-2zM429 50.34h2v3.11h-2zM441 50.34h2v3.11h-2zM447 50.34h2v3.11h-2zM483 50.34h2v3.11h-2zM517 50.34h4v3.11h-4zM545 50.34h2v3.11h-2zM583 50.34h2v3.11h-2zM597 50.34h2v3.11h-2zM607 50.34h2v3.11h-2zM637 50.34h2v3.11h-2zM671 50.34h2v3.11h-2zM701 50.34h2v3.11h-2zM713 50.34h2v3.11h-2zM747 50.34h2v3.11h-2zM805 50.34h2v3.11h-2zM823 50.34h2v3.11h-2zM835 50.34h2v3.11h-2zM169 53.41h2v3.11h-2zM253 53.41h2v3.11h-2zM271 53.41h2v3.11h-2zM279 53.41h2v3.11h-2zM299 53.41h2v3.11h-2zM313 53.41h4v3.11h-4zM327 53.41h2v3.11h-2zM335 53.41h2v3.11h-2zM355 53.41h2v3.11h-2zM371 53.41h2v3.11h-2zM401 53.41h2v3.11h-2zM419 53.41h2v3.11h-2zM427 53.41h2v3.11h-2zM435 53.41h2v3.11h-2zM445 53.41h2v3.11h-2zM449 53.41h2v3.11h-2zM477 53.41h2v3.11h-2zM485 53.41h2v3.11h-2zM515 53.41h2v3.11h-2zM529 53.41h2v3.11h-2zM541 53.41h2v3.11h-2zM549 53.41h2v3.11h-2zM555 53.41h2v3.11h-2zM567 53.41h2v3.11h-2zM581 53.41h2v3.11h-2zM601 53.41h4v3.11h-4zM629 53.41h4v3.11h-4zM641 53.41h2v3.11h-2zM647 53.41h2v3.11h-2zM667 53.41h2v3.11h-2zM681 53.41h2v3.11h-2zM691 53.41h2v3.11h-2zM701 53.41h2v3.11h-2zM711 53.41h2v3.11h-2zM723 53.41h2v3.11h-2zM727 53.41h2v3.11h-2zM789 53.41h2v3.11h-2zM809 53.41h2v3.11h-2zM821 53.41h2v3.11h-2zM831 53.41h2v3.11h-2zM207 56.49h2v3.11h-2zM219 56.49h2v3.11h-2zM255 56.49h2v3.11h-2zM285 56.49h2v3.11h-2zM295 56.49h2v3.11h-2zM317 56.49h2v3.11h-2zM357 56.49h2v3.11h-2zM369 56.49h2v3.11h-2zM383 56.49h2v3.11h-2zM393 56.49h2v3.11h-2zM423 56.49h2v3.11h-2zM441 56.49h2v3.11h-2zM473 56.49h2v3.11h-2zM509 56.49h2v3.11h-2zM513 56.49h2v3.11h-2zM571 56.49h2v3.11h-2zM591 56.49h2v3.11h-2zM595 56.49h2v3.11h-2zM599 56.49h2v3.11h-2zM633 56.49h2v3.11h-2zM673 56.49h2v3.11h-2zM701 56.49h2v3.11h-2zM713 56.49h2v3.11h-2zM821 56.49h2v3.11h-2zM317 59.56h2v3.11h-2zM333 59.56h2v3.11h-2zM395 59.56h2v3.11h-2zM415 59.56h2v3.11h-2zM423 59.56h2v3.11h-2zM467 59.56h2v3.11h-2zM471 59.56h2v3.11h-2zM493 59.56h2v3.11h-2zM533 59.56h2v3.11h-2zM573 59.56h2v3.11h-2zM647 59.56h2v3.11h-2zM745 59.56h2v3.11h-2zM769 59.56h2v3.11h-2zM821 59.56h2v3.11h-2zM211 62.63h2v3.11h-2zM285 62.63h2v3.11h-2zM299 62.63h2v3.11h-2zM341 62.63h2v3.11h-2zM579 62.63h2v3.11h-2zM585 62.63h2v3.11h-2zM605 62.63h2v3.11h-2zM635 62.63h2v3.11h-2zM683 62.63h2v3.11h-2zM717 62.63h2v3.11h-2zM723 62.63h2v3.11h-2zM731 62.63h2v3.11h-2zM755 62.63h2v3.11h-2zM769 62.63h2v3.11h-2zM843 62.63h2v3.11h-2zM231 65.71h2v3.11h-2zM247 65.71h2v3.11h-2zM343 65.71h2v3.11h-2zM399 65.71h2v3.11h-2zM411 65.71h2v3.11h-2zM439 65.71h2v3.11h-2zM467 65.71h2v3.11h-2zM479 65.71h2v3.11h-2zM485 65.71h2v3.11h-2zM489 65.71h2v3.11h-2zM567 65.71h4v3.11h-4zM585 65.71h2v3.11h-2zM655 65.71h2v3.11h-2zM683 65.71h2v3.11h-2zM695 65.71h2v3.11h-2zM699 65.71h2v3.11h-2zM703 65.71h2v3.11h-2zM711 65.71h2v3.11h-2zM737 65.71h2v3.11h-2zM753 65.71h2v3.11h-2zM763 65.71h2v3.11h-2zM769 65.71h2v3.11h-2zM793 65.71h2v3.11h-2zM837 65.71h2v3.11h-2zM135 68.78h2v3.11h-2zM199 68.78h2v3.11h-2zM213 68.78h2v3.11h-2zM263 68.78h2v3.11h-2zM273 68.78h2v3.11h-2zM293 68.78h2v3.11h-2zM307 68.78h2v3.11h-2zM321 68.78h2v3.11h-2zM355 68.78h2v3.11h-2zM367 68.78h2v3.11h-2zM375 68.78h2v3.11h-2zM413 68.78h2v3.11h-2zM447 68.78h4v3.11h-4zM453 68.78h2v3.11h-2zM467 68.78h4v3.11h-4zM477 68.78h2v3.11h-2zM513 68.78h2v3.11h-2zM543 68.78h2v3.11h-2zM547 68.78h4v3.11h-4zM555 68.78h2v3.11h-2zM565 68.78h2v3.11h-2zM581 68.78h2v3.11h-2zM587 68.78h4v3.11h-4zM635 68.78h2v3.11h-2zM639 68.78h2v3.11h-2zM683 68.78h2v3.11h-2zM687 68.78h2v3.11h-2zM717 68.78h2v3.11h-2zM731 68.78h2v3.11h-2zM747 68.78h2v3.11h-2zM763 68.78h2v3.11h-2zM803 68.78h2v3.11h-2zM817 68.78h2v3.11h-2zM847 68.78h2v3.11h-2zM107 71.85h2v3.11h-2zM139 71.85h2v3.11h-2zM189 71.85h2v3.11h-2zM195 71.85h2v3.11h-2zM207 71.85h2v3.11h-2zM227 71.85h2v3.11h-2zM251 71.85h2v3.11h-2zM257 71.85h2v3.11h-2zM271 71.85h2v3.11h-2zM275 71.85h2v3.11h-2zM279 71.85h2v3.11h-2zM301 71.85h2v3.11h-2zM327 71.85h2v3.11h-2zM369 71.85h2v3.11h-2zM373 71.85h2v3.11h-2zM397 71.85h2v3.11h-2zM413 71.85h2v3.11h-2zM419 71.85h2v3.11h-2zM427 71.85h2v3.11h-2zM447 71.85h2v3.11h-2zM453 71.85h2v3.11h-2zM483 71.85h2v3.11h-2zM497 71.85h2v3.11h-2zM505 71.85h2v3.11h-2zM513 71.85h2v3.11h-2zM517 71.85h2v3.11h-2zM527 71.85h2v3.11h-2zM537 71.85h4v3.11h-4zM551 71.85h2v3.11h-2zM555 71.85h2v3.11h-2zM571 71.85h4v3.11h-4zM583 71.85h2v3.11h-2zM603 71.85h2v3.11h-2zM613 71.85h2v3.11h-2zM619 71.85h2v3.11h-2zM633 71.85h4v3.11h-4zM639 71.85h2v3.11h-2zM651 71.85h2v3.11h-2zM665 71.85h2v3.11h-2zM679 71.85h2v3.11h-2zM739 71.85h2v3.11h-2zM747 71.85h2v3.11h-2zM751 71.85h2v3.11h-2zM765 71.85h2v3.11h-2zM781 71.85h4v3.11h-4zM803 71.85h2v3.11h-2zM827 71.85h2v3.11h-2zM839 71.85h2v3.11h-2zM847 71.85h2v3.11h-2zM109 74.93h2v3.11h-2zM141 74.93h2v3.11h-2zM213 74.93h2v3.11h-2zM219 74.93h2v3.11h-2zM229 74.93h2v3.11h-2zM241 74.93h2v3.11h-2zM251 74.93h2v3.11h-2zM257 74.93h2v3.11h-2zM275 74.93h2v3.11h-2zM291 74.93h2v3.11h-2zM299 74.93h2v3.11h-2zM305 74.93h2v3.11h-2zM369 74.93h2v3.11h-2zM379 74.93h2v3.11h-2zM389 74.93h2v3.11h-2zM433 74.93h2v3.11h-2zM491 74.93h2v3.11h-2zM507 74.93h2v3.11h-2zM519 74.93h2v3.11h-2zM525 74.93h2v3.11h-2zM545 74.93h2v3.11h-2zM569 74.93h2v3.11h-2zM581 74.93h2v3.11h-2zM589 74.93h2v3.11h-2zM621 74.93h2v3.11h-2zM633 74.93h2v3.11h-2zM637 74.93h4v3.11h-4zM649 74.93h2v3.11h-2zM663 74.93h2v3.11h-2zM681 74.93h2v3.11h-2zM685 74.93h2v3.11h-2zM689 74.93h2v3.11h-2zM693 74.93h2v3.11h-2zM729 74.93h2v3.11h-2zM771 74.93h4v3.11h-4zM785 74.93h2v3.11h-2zM799 74.93h2v3.11h-2zM803 74.93h2v3.11h-2zM807 74.93h2v3.11h-2zM819 74.93h2v3.11h-2zM839 74.93h2v3.11h-2z"/><path fill="#dbe8e8" d="M159 31.90h2v3.11h-2zM167 31.90h2v3.11h-2zM215 31.90h2v3.11h-2zM249 31.90h2v3.11h-2zM373 31.90h2v3.11h-2zM385 31.90h2v3.11h-2zM415 31.90h2v3.11h-2zM435 31.90h2v3.11h-2zM453 31.90h2v3.11h-2zM459 31.90h2v3.11h-2zM477 31.90h2v3.11h-2zM497 31.90h2v3.11h-2zM503 31.90h2v3.11h-2zM509 31.90h2v3.11h-2zM521 31.90h2v3.11h-2zM543 31.90h2v3.11h-2zM549 31.90h2v3.11h-2zM571 31.90h2v3.11h-2zM617 31.90h2v3.11h-2zM621 31.90h2v3.11h-2zM635 31.90h2v3.11h-2zM669 31.90h2v3.11h-2zM697 31.90h2v3.11h-2zM715 31.90h2v3.11h-2zM733 31.90h2v3.11h-2zM739 31.90h2v3.11h-2zM759 31.90h2v3.11h-2zM769 31.90h2v3.11h-2zM783 31.90h2v3.11h-2zM827 31.90h2v3.11h-2zM841 31.90h2v3.11h-2zM863 31.90h2v3.11h-2zM869 31.90h2v3.11h-2zM153 34.97h2v3.11h-2zM271 34.97h2v3.11h-2zM285 34.97h2v3.11h-2zM295 34.97h2v3.11h-2zM371 34.97h2v3.11h-2zM407 34.97h2v3.11h-2zM427 34.97h2v3.11h-2zM441 34.97h2v3.11h-2zM463 34.97h2v3.11h-2zM467 34.97h2v3.11h-2zM483 34.97h2v3.11h-2zM521 34.97h2v3.11h-2zM567 34.97h2v3.11h-2zM605 34.97h2v3.11h-2zM609 34.97h2v3.11h-2zM625 34.97h2v3.11h-2zM629 34.97h2v3.11h-2zM635 34.97h2v3.11h-2zM651 34.97h2v3.11h-2zM659 34.97h2v3.11h-2zM699 34.97h2v3.11h-2zM763 34.97h2v3.11h-2zM769 34.97h2v3.11h-2zM791 34.97h4v3.11h-4zM839 34.97h2v3.11h-2zM139 38.05h2v3.11h-2zM155 38.05h2v3.11h-2zM161 38.05h2v3.11h-2zM189 38.05h2v3.11h-2zM219 38.05h2v3.11h-2zM317 38.05h2v3.11h-2zM323 38.05h2v3.11h-2zM343 38.05h4v3.11h-4zM349 38.05h4v3.11h-4zM371 38.05h2v3.11h-2zM397 38.05h2v3.11h-2zM417 38.05h2v3.11h-2zM441 38.05h2v3.11h-2zM455 38.05h2v3.11h-2zM467 38.05h2v3.11h-2zM479 38.05h2v3.11h-2zM487 38.05h2v3.11h-2zM491 38.05h2v3.11h-2zM495 38.05h2v3.11h-2zM503 38.05h6v3.11h-6zM527 38.05h2v3.11h-2zM569 38.05h2v3.11h-2zM577 38.05h2v3.11h-2zM633 38.05h2v3.11h-2zM649 38.05h2v3.11h-2zM731 38.05h2v3.11h-2zM753 38.05h2v3.11h-2zM787 38.05h4v3.11h-4zM795 38.05h4v3.11h-4zM803 38.05h2v3.11h-2zM207 41.12h2v3.11h-2zM231 41.12h2v3.11h-2zM287 41.12h2v3.11h-2zM325 41.12h2v3.11h-2zM331 41.12h2v3.11h-2zM363 41.12h2v3.11h-2zM419 41.12h2v3.11h-2zM433 41.12h2v3.11h-2zM457 41.12h2v3.11h-2zM491 41.12h2v3.11h-2zM495 41.12h2v3.11h-2zM509 41.12h2v3.11h-2zM525 41.12h2v3.11h-2zM639 41.12h2v3.11h-2zM695 41.12h4v3.11h-4zM741 41.12h2v3.11h-2zM771 41.12h2v3.11h-2zM793 41.12h2v3.11h-2zM829 41.12h2v3.11h-2zM159 44.19h2v3.11h-2zM221 44.19h2v3.11h-2zM225 44.19h2v3.11h-2zM345 44.19h2v3.11h-2zM365 44.19h2v3.11h-2zM377 44.19h2v3.11h-2zM405 44.19h2v3.11h-2zM415 44.19h2v3.11h-2zM437 44.19h2v3.11h-2zM505 44.19h2v3.11h-2zM521 44.19h2v3.11h-2zM575 44.19h2v3.11h-2zM581 44.19h2v3.11h-2zM627 44.19h2v3.11h-2zM631 44.19h2v3.11h-2zM645 44.19h2v3.11h-2zM695 44.19h2v3.11h-2zM701 44.19h2v3.11h-2zM711 44.19h4v3.11h-4zM747 44.19h2v3.11h-2zM793 44.19h2v3.11h-2zM805 44.19h2v3.11h-2zM833 44.19h2v3.11h-2zM839 44.19h2v3.11h-2zM851 44.19h2v3.11h-2zM433 47.27h2v3.11h-2zM687 47.27h2v3.11h-2zM159 50.34h2v3.11h-2zM479 50.34h2v3.11h-2zM755 50.34h2v3.11h-2zM797 50.34h2v3.11h-2zM807 50.34h2v3.11h-2zM833 50.34h2v3.11h-2zM849 50.34h2v3.11h-2zM187 53.41h2v3.11h-2zM255 53.41h2v3.11h-2zM317 53.41h2v3.11h-2zM329 53.41h2v3.11h-2zM405 53.41h2v3.11h-2zM473 53.41h2v3.11h-2zM527 53.41h2v3.11h-2zM551 53.41h4v3.11h-4zM557 53.41h2v3.11h-2zM585 53.41h2v3.11h-2zM607 53.41h2v3.11h-2zM655 53.41h2v3.11h-2zM663 53.41h2v3.11h-2zM673 53.41h2v3.11h-2zM683 53.41h2v3.11h-2zM689 53.41h2v3.11h-2zM721 53.41h2v3.11h-2zM739 53.41h2v3.11h-2zM743 53.41h2v3.11h-2zM785 53.41h2v3.11h-2zM805 53.41h2v3.11h-2zM841 53.41h2v3.11h-2zM167 56.49h2v3.11h-2zM213 56.49h2v3.11h-2zM279 56.49h4v3.11h-4zM307 56.49h4v3.11h-4zM315 56.49h2v3.11h-2zM321 56.49h2v3.11h-2zM329 56.49h2v3.11h-2zM405 56.49h4v3.11h-4zM413 56.49h2v3.11h-2zM427 56.49h2v3.11h-2zM443 56.49h2v3.11h-2zM447 56.49h4v3.11h-4zM483 56.49h2v3.11h-2zM521 56.49h2v3.11h-2zM539 56.49h2v3.11h-2zM545 56.49h2v3.11h-2zM551 56.49h2v3.11h-2zM575 56.49h4v3.11h-4zM589 56.49h2v3.11h-2zM621 56.49h2v3.11h-2zM631 56.49h2v3.11h-2zM645 56.49h2v3.11h-2zM653 56.49h2v3.11h-2zM663 56.49h2v3.11h-2zM671 56.49h2v3.11h-2zM683 56.49h4v3.11h-4zM751 56.49h2v3.11h-2zM803 56.49h2v3.11h-2zM819 56.49h2v3.11h-2zM823 56.49h2v3.11h-2zM857 56.49h4v3.11h-4zM163 59.56h2v3.11h-2zM187 59.56h2v3.11h-2zM209 59.56h4v3.11h-4zM217 59.56h2v3.11h-2zM233 59.56h2v3.11h-2zM247 59.56h2v3.11h-2zM253 59.56h2v3.11h-2zM303 59.56h2v3.11h-2zM345 59.56h2v3.11h-2zM363 59.56h2v3.11h-2zM447 59.56h2v3.11h-2zM453 59.56h2v3.11h-2zM485 59.56h2v3.11h-2zM511 59.56h4v3.11h-4zM541 59.56h2v3.11h-2zM551 59.56h2v3.11h-2zM583 59.56h2v3.11h-2zM683 59.56h2v3.11h-2zM723 59.56h2v3.11h-2zM765 59.56h2v3.11h-2zM781 59.56h2v3.11h-2zM837 59.56h2v3.11h-2zM879 59.56h2v3.11h-2zM155 62.63h2v3.11h-2zM229 62.63h2v3.11h-2zM249 62.63h2v3.11h-2zM273 62.63h2v3.11h-2zM301 62.63h4v3.11h-4zM335 62.63h2v3.11h-2zM345 62.63h2v3.11h-2zM361 62.63h2v3.11h-2zM369 62.63h2v3.11h-2zM377 62.63h2v3.11h-2zM409 62.63h2v3.11h-2zM445 62.63h4v3.11h-4zM455 62.63h2v3.11h-2zM463 62.63h2v3.11h-2zM507 62.63h2v3.11h-2zM517 62.63h4v3.11h-4zM525 62.63h4v3.11h-4zM543 62.63h4v3.11h-4zM551 62.63h2v3.11h-2zM555 62.63h2v3.11h-2zM571 62.63h4v3.11h-4zM589 62.63h2v3.11h-2zM619 62.63h2v3.11h-2zM623 62.63h2v3.11h-2zM651 62.63h2v3.11h-2zM709 62.63h2v3.11h-2zM729 62.63h2v3.11h-2zM751 62.63h2v3.11h-2zM757 62.63h2v3.11h-2zM767 62.63h2v3.11h-2zM803 62.63h2v3.11h-2zM815 62.63h4v3.11h-4zM827 62.63h2v3.11h-2zM841 62.63h2v3.11h-2zM147 65.71h2v3.11h-2zM211 65.71h4v3.11h-4zM255 65.71h2v3.11h-2zM277 65.71h2v3.11h-2zM285 65.71h2v3.11h-2zM345 65.71h2v3.11h-2zM383 65.71h2v3.11h-2zM389 65.71h2v3.11h-2zM397 65.71h2v3.11h-2zM413 65.71h2v3.11h-2zM417 65.71h2v3.11h-2zM433 65.71h2v3.11h-2zM437 65.71h2v3.11h-2zM465 65.71h2v3.11h-2zM487 65.71h2v3.11h-2zM499 65.71h4v3.11h-4zM511 65.71h2v3.11h-2zM533 65.71h2v3.11h-2zM543 65.71h2v3.11h-2zM593 65.71h2v3.11h-2zM599 65.71h2v3.11h-2zM613 65.71h2v3.11h-2zM619 65.71h4v3.11h-4zM629 65.71h2v3.11h-2zM669 65.71h2v3.11h-2zM681 65.71h2v3.11h-2zM691 65.71h2v3.11h-2zM707 65.71h2v3.11h-2zM713 65.71h2v3.11h-2zM719 65.71h2v3.11h-2zM727 65.71h2v3.11h-2zM741 65.71h2v3.11h-2zM747 65.71h2v3.11h-2zM757 65.71h6v3.11h-6zM783 65.71h2v3.11h-2zM813 65.71h2v3.11h-2zM843 65.71h4v3.11h-4zM861 65.71h2v3.11h-2zM123 68.78h2v3.11h-2zM207 68.78h2v3.11h-2zM245 68.78h4v3.11h-4zM337 68.78h2v3.11h-2zM393 68.78h2v3.11h-2zM407 68.78h2v3.11h-2zM419 68.78h4v3.11h-4zM425 68.78h4v3.11h-4zM435 68.78h2v3.11h-2zM445 68.78h2v3.11h-2zM455 68.78h2v3.11h-2zM461 68.78h2v3.11h-2zM483 68.78h2v3.11h-2zM507 68.78h2v3.11h-2zM511 68.78h2v3.11h-2zM529 68.78h2v3.11h-2zM533 68.78h2v3.11h-2zM557 68.78h2v3.11h-2zM571 68.78h2v3.11h-2zM575 68.78h2v3.11h-2zM609 68.78h2v3.11h-2zM617 68.78h2v3.11h-2zM645 68.78h2v3.11h-2zM659 68.78h4v3.11h-4zM665 68.78h2v3.11h-2zM697 68.78h2v3.11h-2zM701 68.78h2v3.11h-2zM705 68.78h2v3.11h-2zM725 68.78h2v3.11h-2zM729 68.78h2v3.11h-2zM745 68.78h2v3.11h-2zM757 68.78h4v3.11h-4zM783 68.78h4v3.11h-4zM789 68.78h2v3.11h-2zM805 68.78h2v3.11h-2zM809 68.78h4v3.11h-4zM823 68.78h2v3.11h-2zM835 68.78h2v3.11h-2zM87 71.85h2v3.11h-2zM105 71.85h2v3.11h-2zM153 71.85h2v3.11h-2zM191 71.85h2v3.11h-2zM311 71.85h2v3.11h-2zM341 71.85h2v3.11h-2zM361 71.85h2v3.11h-2zM365 71.85h2v3.11h-2zM371 71.85h2v3.11h-2zM385 71.85h2v3.11h-2zM409 71.85h2v3.11h-2zM443 71.85h2v3.11h-2zM473 71.85h2v3.11h-2zM499 71.85h2v3.11h-2zM521 71.85h2v3.11h-2zM543 71.85h2v3.11h-2zM561 71.85h2v3.11h-2zM607 71.85h2v3.11h-2zM615 71.85h2v3.11h-2zM627 71.85h2v3.11h-2zM677 71.85h2v3.11h-2zM685 71.85h2v3.11h-2zM703 71.85h2v3.11h-2zM707 71.85h2v3.11h-2zM719 71.85h4v3.11h-4zM773 71.85h2v3.11h-2zM791 71.85h2v3.11h-2zM805 71.85h4v3.11h-4zM837 71.85h2v3.11h-2zM841 71.85h4v3.11h-4zM879 71.85h2v3.11h-2zM137 74.93h2v3.11h-2zM263 74.93h2v3.11h-2zM297 74.93h2v3.11h-2zM311 74.93h2v3.11h-2zM357 74.93h2v3.11h-2zM361 74.93h2v3.11h-2zM397 74.93h2v3.11h-2zM417 74.93h2v3.11h-2zM421 74.93h2v3.11h-2zM425 74.93h2v3.11h-2zM439 74.93h2v3.11h-2zM445 74.93h2v3.11h-2zM467 74.93h2v3.11h-2zM475 74.93h2v3.11h-2zM495 74.93h4v3.11h-4zM513 74.93h2v3.11h-2zM555 74.93h2v3.11h-2zM559 74.93h2v3.11h-2zM583 74.93h2v3.11h-2zM591 74.93h2v3.11h-2zM601 74.93h2v3.11h-2zM615 74.93h2v3.11h-2zM697 74.93h2v3.11h-2zM701 74.93h2v3.11h-2zM739 74.93h2v3.11h-2zM745 74.93h2v3.11h-2zM753 74.93h2v3.11h-2zM759 74.93h4v3.11h-4zM845 74.93h2v3.11h-2z"/><path fill="#565776" d="M165 31.90h2v3.11h-2zM879 31.90h2v3.11h-2zM171 44.19h2v3.11h-2zM863 44.19h2v3.11h-2zM121 47.27h2v3.11h-2zM257 47.27h2v3.11h-2zM861 50.34h2v3.11h-2zM129 53.41h2v3.11h-2zM165 53.41h2v3.11h-2zM861 56.49h2v3.11h-2zM89 59.56h2v3.11h-2zM877 59.56h2v3.11h-2zM881 62.63h2v3.11h-2zM139 65.71h2v3.11h-2z"/><path fill="#222230" d="M171 31.90h2v3.11h-2zM81 41.12h2v3.11h-2zM125 47.27h2v3.11h-2zM123 50.34h2v3.11h-2zM179 50.34h2v3.11h-2zM91 68.78h2v3.11h-2zM177 74.93h2v3.11h-2zM885 74.93h2v3.11h-2z"/><path fill="#5c5f7b" d="M187 31.90h2v3.11h-2zM129 34.97h2v3.11h-2zM195 41.12h2v3.11h-2zM169 44.19h2v3.11h-2zM871 47.27h2v3.11h-2zM95 50.34h2v3.11h-2zM207 50.34h2v3.11h-2zM203 53.41h2v3.11h-2zM861 71.85h2v3.11h-2zM873 71.85h2v3.11h-2zM125 74.93h2v3.11h-2zM303 74.93h2v3.11h-2z"/><path fill="#a0bec0" d="M205 31.90h2v3.11h-2zM717 31.90h2v3.11h-2zM131 34.97h2v3.11h-2zM131 38.05h2v3.11h-2zM171 38.05h2v3.11h-2zM427 38.05h2v3.11h-2zM627 38.05h2v3.11h-2zM659 38.05h2v3.11h-2zM715 38.05h2v3.11h-2zM749 38.05h2v3.11h-2zM847 38.05h2v3.11h-2zM77 41.12h2v3.11h-2zM169 41.12h2v3.11h-2zM217 41.12h2v3.11h-2zM303 41.12h2v3.11h-2zM393 41.12h2v3.11h-2zM453 41.12h2v3.11h-2zM481 41.12h2v3.11h-2zM543 41.12h2v3.11h-2zM579 41.12h2v3.11h-2zM641 41.12h2v3.11h-2zM717 41.12h2v3.11h-2zM745 41.12h2v3.11h-2zM763 41.12h2v3.11h-2zM839 41.12h2v3.11h-2zM855 41.12h2v3.11h-2zM861 41.12h2v3.11h-2zM207 44.19h2v3.11h-2zM229 44.19h2v3.11h-2zM263 44.19h2v3.11h-2zM283 44.19h2v3.11h-2zM307 44.19h2v3.11h-2zM311 44.19h2v3.11h-2zM319 44.19h2v3.11h-2zM325 44.19h4v3.11h-4zM357 44.19h2v3.11h-2zM361 44.19h2v3.11h-2zM373 44.19h2v3.11h-2zM541 44.19h2v3.11h-2zM567 44.19h2v3.11h-2zM573 44.19h2v3.11h-2zM579 44.19h2v3.11h-2zM587 44.19h2v3.11h-2zM623 44.19h2v3.11h-2zM647 44.19h2v3.11h-2zM659 44.19h2v3.11h-2zM675 44.19h2v3.11h-2zM737 44.19h4v3.11h-4zM785 44.19h2v3.11h-2zM799 44.19h2v3.11h-2zM817 44.19h2v3.11h-2zM159 47.27h2v3.11h-2zM189 47.27h2v3.11h-2zM251 47.27h2v3.11h-2zM281 47.27h2v3.11h-2zM307 47.27h2v3.11h-2zM311 47.27h2v3.11h-2zM417 47.27h2v3.11h-2zM459 47.27h2v3.11h-2zM467 47.27h2v3.11h-2zM513 47.27h2v3.11h-2zM537 47.27h2v3.11h-2zM547 47.27h2v3.11h-2zM565 47.27h4v3.11h-4zM571 47.27h2v3.11h-2zM591 47.27h4v3.11h-4zM615 47.27h2v3.11h-2zM621 47.27h2v3.11h-2zM633 47.27h4v3.11h-4zM661 47.27h2v3.11h-2zM689 47.27h2v3.11h-2zM697 47.27h2v3.11h-2zM701 47.27h2v3.11h-2zM715 47.27h2v3.11h-2zM723 47.27h2v3.11h-2zM743 47.27h2v3.11h-2zM751 47.27h2v3.11h-2zM755 47.27h4v3.11h-4zM763 47.27h6v3.11h-6zM785 47.27h2v3.11h-2zM789 47.27h2v3.11h-2zM803 47.27h2v3.11h-2zM811 47.27h2v3.11h-2zM829 47.27h2v3.11h-2zM233 50.34h2v3.11h-2zM259 50.34h2v3.11h-2zM291 50.34h2v3.11h-2zM307 50.34h2v3.11h-2zM321 50.34h2v3.11h-2zM347 50.34h2v3.11h-2zM351 50.34h4v3.11h-4zM373 50.34h2v3.11h-2zM403 50.34h2v3.11h-2zM407 50.34h2v3.11h-2zM417 50.34h2v3.11h-2zM445 50.34h2v3.11h-2zM449 50.34h4v3.11h-4zM481 50.34h2v3.11h-2zM487 50.34h2v3.11h-2zM501 50.34h2v3.11h-2zM533 50.34h2v3.11h-2zM537 50.34h2v3.11h-2zM547 50.34h2v3.11h-2zM557 50.34h2v3.11h-2zM573 50.34h2v3.11h-2zM585 50.34h2v3.11h-2zM613 50.34h2v3.11h-2zM623 50.34h2v3.11h-2zM639 50.34h2v3.11h-2zM649 50.34h2v3.11h-2zM661 50.34h2v3.11h-2zM687 50.34h2v3.11h-2zM735 50.34h4v3.11h-4zM753 50.34h2v3.11h-2zM767 50.34h2v3.11h-2zM785 50.34h2v3.11h-2zM825 50.34h2v3.11h-2zM227 53.41h2v3.11h-2zM243 53.41h2v3.11h-2zM285 53.41h2v3.11h-2zM295 53.41h2v3.11h-2zM359 53.41h4v3.11h-4zM367 53.41h2v3.11h-2zM391 53.41h4v3.11h-4zM413 53.41h2v3.11h-2zM423 53.41h2v3.11h-2zM455 53.41h2v3.11h-2zM479 53.41h2v3.11h-2zM483 53.41h2v3.11h-2zM669 53.41h2v3.11h-2zM693 53.41h2v3.11h-2zM709 53.41h2v3.11h-2zM733 53.41h2v3.11h-2zM759 53.41h2v3.11h-2zM797 53.41h4v3.11h-4zM823 53.41h2v3.11h-2zM843 53.41h2v3.11h-2zM855 53.41h2v3.11h-2zM273 56.49h2v3.11h-2zM293 56.49h2v3.11h-2zM337 56.49h2v3.11h-2zM429 56.49h2v3.11h-2zM467 56.49h2v3.11h-2zM533 56.49h2v3.11h-2zM549 56.49h2v3.11h-2zM561 56.49h2v3.11h-2zM587 56.49h2v3.11h-2zM593 56.49h2v3.11h-2zM655 56.49h2v3.11h-2zM689 56.49h2v3.11h-2zM719 56.49h2v3.11h-2zM745 56.49h2v3.11h-2zM749 56.49h2v3.11h-2zM817 56.49h2v3.11h-2zM837 56.49h2v3.11h-2zM847 56.49h2v3.11h-2zM157 59.56h2v3.11h-2zM517 59.56h2v3.11h-2zM697 59.56h2v3.11h-2zM181 62.63h2v3.11h-2zM191 62.63h2v3.11h-2zM857 62.63h2v3.11h-2zM293 65.71h2v3.11h-2zM431 65.71h2v3.11h-2zM579 65.71h2v3.11h-2zM203 68.78h2v3.11h-2zM289 68.78h2v3.11h-2zM345 68.78h2v3.11h-2zM363 68.78h2v3.11h-2zM379 68.78h2v3.11h-2zM443 68.78h2v3.11h-2zM479 68.78h2v3.11h-2zM501 68.78h2v3.11h-2zM535 68.78h2v3.11h-2zM605 68.78h2v3.11h-2zM233 71.85h2v3.11h-2zM335 71.85h4v3.11h-4zM393 71.85h2v3.11h-2zM403 71.85h2v3.11h-2zM493 71.85h2v3.11h-2zM507 71.85h2v3.11h-2zM587 71.85h2v3.11h-2zM605 71.85h2v3.11h-2zM617 71.85h2v3.11h-2zM825 71.85h2v3.11h-2zM849 71.85h2v3.11h-2zM161 74.93h2v3.11h-2zM179 74.93h2v3.11h-2zM189 74.93h4v3.11h-4zM215 74.93h2v3.11h-2zM231 74.93h2v3.11h-2zM261 74.93h2v3.11h-2zM273 74.93h2v3.11h-2zM281 74.93h2v3.11h-2zM317 74.93h2v3.11h-2zM373 74.93h2v3.11h-2zM413 74.93h2v3.11h-2zM441 74.93h2v3.11h-2zM451 74.93h2v3.11h-2zM511 74.93h2v3.11h-2zM531 74.93h2v3.11h-2zM537 74.93h2v3.11h-2zM699 74.93h2v3.11h-2zM737 74.93h2v3.11h-2zM743 74.93h2v3.11h-2zM749 74.93h2v3.11h-2zM765 74.93h2v3.11h-2zM769 74.93h2v3.11h-2zM777 74.93h2v3.11h-2zM825 74.93h2v3.11h-2z"/><path fill="#f6f9f9" d="M211 31.90h2v3.11h-2zM255 31.90h2v3.11h-2zM291 31.90h2v3.11h-2zM301 31.90h2v3.11h-2zM395 31.90h2v3.11h-2zM413 31.90h2v3.11h-2zM417 31.90h2v3.11h-2zM433 31.90h2v3.11h-2zM441 31.90h2v3.11h-2zM445 31.90h6v3.11h-6zM513 31.90h2v3.11h-2zM527 31.90h2v3.11h-2zM547 31.90h2v3.11h-2zM577 31.90h2v3.11h-2zM585 31.90h2v3.11h-2zM601 31.90h2v3.11h-2zM629 31.90h2v3.11h-2zM639 31.90h2v3.11h-2zM651 31.90h2v3.11h-2zM667 31.90h2v3.11h-2zM705 31.90h2v3.11h-2zM725 31.90h2v3.11h-2zM737 31.90h2v3.11h-2zM747 31.90h2v3.11h-2zM755 31.90h2v3.11h-2zM767 31.90h2v3.11h-2zM773 31.90h2v3.11h-2zM803 31.90h2v3.11h-2zM819 31.90h2v3.11h-2zM835 31.90h2v3.11h-2zM843 31.90h2v3.11h-2zM149 34.97h4v3.11h-4zM179 34.97h2v3.11h-2zM235 34.97h2v3.11h-2zM249 34.97h2v3.11h-2zM267 34.97h2v3.11h-2zM275 34.97h2v3.11h-2zM303 34.97h2v3.11h-2zM319 34.97h2v3.11h-2zM341 34.97h4v3.11h-4zM361 34.97h2v3.11h-2zM381 34.97h2v3.11h-2zM385 34.97h2v3.11h-2zM393 34.97h2v3.11h-2zM423 34.97h4v3.11h-4zM439 34.97h2v3.11h-2zM465 34.97h2v3.11h-2zM487 34.97h2v3.11h-2zM497 34.97h2v3.11h-2zM507 34.97h2v3.11h-2zM511 34.97h2v3.11h-2zM527 34.97h2v3.11h-2zM601 34.97h2v3.11h-2zM633 34.97h2v3.11h-2zM689 34.97h2v3.11h-2zM701 34.97h2v3.11h-2zM715 34.97h2v3.11h-2zM731 34.97h2v3.11h-2zM741 34.97h2v3.11h-2zM781 34.97h2v3.11h-2zM799 34.97h2v3.11h-2zM817 34.97h2v3.11h-2zM845 34.97h2v3.11h-2zM135 38.05h2v3.11h-2zM187 38.05h2v3.11h-2zM201 38.05h2v3.11h-2zM235 38.05h2v3.11h-2zM249 38.05h2v3.11h-2zM287 38.05h2v3.11h-2zM291 38.05h2v3.11h-2zM321 38.05h2v3.11h-2zM339 38.05h2v3.11h-2zM347 38.05h2v3.11h-2zM357 38.05h2v3.11h-2zM363 38.05h2v3.11h-2zM519 38.05h2v3.11h-2zM523 38.05h2v3.11h-2zM533 38.05h2v3.11h-2zM541 38.05h6v3.11h-6zM565 38.05h2v3.11h-2zM573 38.05h2v3.11h-2zM579 38.05h2v3.11h-2zM615 38.05h2v3.11h-2zM621 38.05h2v3.11h-2zM647 38.05h2v3.11h-2zM685 38.05h2v3.11h-2zM713 38.05h2v3.11h-2zM745 38.05h4v3.11h-4zM773 38.05h2v3.11h-2zM815 38.05h2v3.11h-2zM841 38.05h4v3.11h-4zM201 41.12h4v3.11h-4zM219 41.12h2v3.11h-2zM237 41.12h2v3.11h-2zM285 41.12h2v3.11h-2zM389 41.12h2v3.11h-2zM425 41.12h2v3.11h-2zM437 41.12h2v3.11h-2zM545 41.12h2v3.11h-2zM663 41.12h2v3.11h-2zM677 41.12h2v3.11h-2zM685 41.12h4v3.11h-4zM757 41.12h2v3.11h-2zM837 41.12h2v3.11h-2zM853 41.12h2v3.11h-2zM329 44.19h2v3.11h-2zM335 44.19h2v3.11h-2zM769 44.19h2v3.11h-2zM775 44.19h2v3.11h-2zM515 47.27h2v3.11h-2zM553 50.34h2v3.11h-2zM173 53.41h2v3.11h-2zM233 53.41h2v3.11h-2zM615 53.41h2v3.11h-2zM685 53.41h2v3.11h-2zM173 56.49h2v3.11h-2zM201 56.49h2v3.11h-2zM235 56.49h2v3.11h-2zM261 56.49h2v3.11h-2zM345 56.49h2v3.11h-2zM437 56.49h2v3.11h-2zM455 56.49h2v3.11h-2zM491 56.49h2v3.11h-2zM515 56.49h2v3.11h-2zM607 56.49h2v3.11h-2zM613 56.49h2v3.11h-2zM637 56.49h2v3.11h-2zM661 56.49h2v3.11h-2zM677 56.49h2v3.11h-2zM741 56.49h2v3.11h-2zM775 56.49h2v3.11h-2zM797 56.49h2v3.11h-2zM207 59.56h2v3.11h-2zM221 59.56h2v3.11h-2zM261 59.56h4v3.11h-4zM293 59.56h2v3.11h-2zM297 59.56h2v3.11h-2zM311 59.56h2v3.11h-2zM337 59.56h2v3.11h-2zM351 59.56h2v3.11h-2zM359 59.56h2v3.11h-2zM371 59.56h4v3.11h-4zM389 59.56h2v3.11h-2zM401 59.56h2v3.11h-2zM425 59.56h2v3.11h-2zM429 59.56h2v3.11h-2zM441 59.56h4v3.11h-4zM457 59.56h2v3.11h-2zM469 59.56h2v3.11h-2zM477 59.56h2v3.11h-2zM487 59.56h2v3.11h-2zM505 59.56h2v3.11h-2zM523 59.56h2v3.11h-2zM527 59.56h2v3.11h-2zM547 59.56h2v3.11h-2zM635 59.56h2v3.11h-2zM689 59.56h2v3.11h-2zM703 59.56h4v3.11h-4zM713 59.56h2v3.11h-2zM719 59.56h2v3.11h-2zM725 59.56h2v3.11h-2zM743 59.56h2v3.11h-2zM751 59.56h2v3.11h-2zM775 59.56h2v3.11h-2zM795 59.56h6v3.11h-6zM803 59.56h2v3.11h-2zM179 62.63h2v3.11h-2zM189 62.63h2v3.11h-2zM237 62.63h2v3.11h-2zM247 62.63h2v3.11h-2zM253 62.63h2v3.11h-2zM259 62.63h2v3.11h-2zM279 62.63h2v3.11h-2zM325 62.63h2v3.11h-2zM329 62.63h2v3.11h-2zM339 62.63h2v3.11h-2zM347 62.63h2v3.11h-2zM353 62.63h2v3.11h-2zM389 62.63h2v3.11h-2zM395 62.63h2v3.11h-2zM417 62.63h2v3.11h-2zM423 62.63h2v3.11h-2zM487 62.63h2v3.11h-2zM595 62.63h2v3.11h-2zM629 62.63h2v3.11h-2zM649 62.63h2v3.11h-2zM661 62.63h2v3.11h-2zM687 62.63h2v3.11h-2zM785 62.63h2v3.11h-2zM789 62.63h2v3.11h-2zM855 62.63h2v3.11h-2zM869 62.63h2v3.11h-2zM141 65.71h2v3.11h-2zM145 65.71h2v3.11h-2zM151 65.71h2v3.11h-2zM185 65.71h2v3.11h-2zM205 65.71h2v3.11h-2zM253 65.71h2v3.11h-2zM297 65.71h2v3.11h-2zM321 65.71h2v3.11h-2zM333 65.71h2v3.11h-2zM375 65.71h2v3.11h-2zM473 65.71h2v3.11h-2zM509 65.71h2v3.11h-2zM551 65.71h4v3.11h-4zM557 65.71h2v3.11h-2zM561 65.71h2v3.11h-2zM565 65.71h2v3.11h-2zM595 65.71h2v3.11h-2zM633 65.71h2v3.11h-2zM665 65.71h2v3.11h-2zM677 65.71h2v3.11h-2zM721 65.71h2v3.11h-2zM799 65.71h2v3.11h-2zM851 65.71h2v3.11h-2zM231 68.78h2v3.11h-2zM255 68.78h2v3.11h-2zM261 68.78h2v3.11h-2zM423 68.78h2v3.11h-2zM433 68.78h2v3.11h-2zM437 68.78h2v3.11h-2zM627 68.78h2v3.11h-2zM753 68.78h2v3.11h-2zM781 68.78h2v3.11h-2zM841 68.78h2v3.11h-2zM71 71.85h2v3.11h-2zM231 71.85h2v3.11h-2zM267 71.85h2v3.11h-2zM285 71.85h2v3.11h-2zM339 71.85h2v3.11h-2zM347 71.85h2v3.11h-2zM515 71.85h2v3.11h-2zM545 71.85h2v3.11h-2zM631 71.85h2v3.11h-2zM671 71.85h2v3.11h-2zM745 71.85h2v3.11h-2zM821 71.85h2v3.11h-2zM859 71.85h2v3.11h-2zM877 71.85h2v3.11h-2zM169 74.93h2v3.11h-2zM173 74.93h2v3.11h-2zM243 74.93h2v3.11h-2zM325 74.93h2v3.11h-2zM335 74.93h2v3.11h-2zM343 74.93h2v3.11h-2zM505 74.93h2v3.11h-2zM661 74.93h2v3.11h-2zM721 74.93h2v3.11h-2zM833 74.93h2v3.11h-2z"/><path fill="#e4eeee" d="M237 31.90h2v3.11h-2zM303 31.90h2v3.11h-2zM367 31.90h2v3.11h-2zM409 31.90h2v3.11h-2zM473 31.90h2v3.11h-2zM479 31.90h2v3.11h-2zM511 31.90h2v3.11h-2zM565 31.90h2v3.11h-2zM589 31.90h2v3.11h-2zM607 31.90h2v3.11h-2zM625 31.90h2v3.11h-2zM671 31.90h2v3.11h-2zM695 31.90h2v3.11h-2zM709 31.90h2v3.11h-2zM743 31.90h4v3.11h-4zM751 31.90h2v3.11h-2zM799 31.90h2v3.11h-2zM825 31.90h2v3.11h-2zM837 31.90h2v3.11h-2zM125 34.97h2v3.11h-2zM247 34.97h2v3.11h-2zM263 34.97h2v3.11h-2zM269 34.97h2v3.11h-2zM297 34.97h2v3.11h-2zM305 34.97h2v3.11h-2zM373 34.97h2v3.11h-2zM399 34.97h2v3.11h-2zM411 34.97h4v3.11h-4zM477 34.97h2v3.11h-2zM481 34.97h2v3.11h-2zM485 34.97h2v3.11h-2zM509 34.97h2v3.11h-2zM535 34.97h2v3.11h-2zM547 34.97h2v3.11h-2zM573 34.97h2v3.11h-2zM577 34.97h2v3.11h-2zM581 34.97h2v3.11h-2zM585 34.97h2v3.11h-2zM593 34.97h2v3.11h-2zM597 34.97h2v3.11h-2zM617 34.97h2v3.11h-2zM641 34.97h2v3.11h-2zM669 34.97h2v3.11h-2zM707 34.97h2v3.11h-2zM713 34.97h2v3.11h-2zM719 34.97h2v3.11h-2zM735 34.97h2v3.11h-2zM739 34.97h2v3.11h-2zM765 34.97h2v3.11h-2zM777 34.97h2v3.11h-2zM803 34.97h2v3.11h-2zM855 34.97h2v3.11h-2zM239 38.05h2v3.11h-2zM277 38.05h2v3.11h-2zM289 38.05h2v3.11h-2zM325 38.05h2v3.11h-2zM337 38.05h2v3.11h-2zM361 38.05h2v3.11h-2zM423 38.05h2v3.11h-2zM439 38.05h2v3.11h-2zM469 38.05h2v3.11h-2zM489 38.05h2v3.11h-2zM493 38.05h2v3.11h-2zM517 38.05h2v3.11h-2zM551 38.05h2v3.11h-2zM555 38.05h4v3.11h-4zM599 38.05h2v3.11h-2zM617 38.05h2v3.11h-2zM625 38.05h2v3.11h-2zM629 38.05h2v3.11h-2zM653 38.05h4v3.11h-4zM663 38.05h2v3.11h-2zM689 38.05h4v3.11h-4zM701 38.05h2v3.11h-2zM729 38.05h2v3.11h-2zM737 38.05h2v3.11h-2zM743 38.05h2v3.11h-2zM757 38.05h2v3.11h-2zM763 38.05h2v3.11h-2zM781 38.05h2v3.11h-2zM785 38.05h2v3.11h-2zM801 38.05h2v3.11h-2zM809 38.05h2v3.11h-2zM839 38.05h2v3.11h-2zM159 41.12h2v3.11h-2zM241 41.12h4v3.11h-4zM251 41.12h2v3.11h-2zM297 41.12h2v3.11h-2zM351 41.12h2v3.11h-2zM367 41.12h2v3.11h-2zM399 41.12h2v3.11h-2zM447 41.12h2v3.11h-2zM503 41.12h2v3.11h-2zM515 41.12h2v3.11h-2zM537 41.12h2v3.11h-2zM547 41.12h4v3.11h-4zM589 41.12h2v3.11h-2zM649 41.12h2v3.11h-2zM653 41.12h2v3.11h-2zM661 41.12h2v3.11h-2zM737 41.12h2v3.11h-2zM799 41.12h4v3.11h-4zM815 41.12h2v3.11h-2zM819 41.12h2v3.11h-2zM827 41.12h2v3.11h-2zM851 41.12h2v3.11h-2zM167 44.19h2v3.11h-2zM253 44.19h2v3.11h-2zM279 44.19h2v3.11h-2zM287 44.19h2v3.11h-2zM375 44.19h2v3.11h-2zM431 44.19h2v3.11h-2zM491 44.19h2v3.11h-2zM507 44.19h2v3.11h-2zM591 44.19h2v3.11h-2zM603 44.19h2v3.11h-2zM607 44.19h2v3.11h-2zM653 44.19h2v3.11h-2zM705 44.19h4v3.11h-4zM789 44.19h2v3.11h-2zM809 44.19h2v3.11h-2zM827 44.19h2v3.11h-2zM877 44.19h2v3.11h-2zM521 47.27h2v3.11h-2zM539 47.27h2v3.11h-2zM613 47.27h2v3.11h-2zM677 47.27h2v3.11h-2zM725 47.27h2v3.11h-2zM761 47.27h2v3.11h-2zM859 47.27h2v3.11h-2zM105 50.34h2v3.11h-2zM167 50.34h2v3.11h-2zM363 50.34h2v3.11h-2zM409 50.34h2v3.11h-2zM559 50.34h2v3.11h-2zM723 50.34h2v3.11h-2zM251 53.41h2v3.11h-2zM305 53.41h2v3.11h-2zM323 53.41h2v3.11h-2zM387 53.41h2v3.11h-2zM441 53.41h2v3.11h-2zM465 53.41h2v3.11h-2zM471 53.41h2v3.11h-2zM511 53.41h2v3.11h-2zM539 53.41h2v3.11h-2zM835 53.41h2v3.11h-2zM853 53.41h2v3.11h-2zM103 56.49h2v3.11h-2zM233 56.49h2v3.11h-2zM269 56.49h2v3.11h-2zM277 56.49h2v3.11h-2zM291 56.49h2v3.11h-2zM359 56.49h2v3.11h-2zM365 56.49h2v3.11h-2zM387 56.49h2v3.11h-2zM417 56.49h2v3.11h-2zM495 56.49h2v3.11h-2zM523 56.49h2v3.11h-2zM543 56.49h2v3.11h-2zM553 56.49h4v3.11h-4zM611 56.49h2v3.11h-2zM629 56.49h2v3.11h-2zM665 56.49h2v3.11h-2zM697 56.49h2v3.11h-2zM729 56.49h2v3.11h-2zM767 56.49h2v3.11h-2zM777 56.49h2v3.11h-2zM783 56.49h2v3.11h-2zM801 56.49h2v3.11h-2zM807 56.49h2v3.11h-2zM841 56.49h2v3.11h-2zM219 59.56h2v3.11h-2zM255 59.56h2v3.11h-2zM283 59.56h2v3.11h-2zM305 59.56h2v3.11h-2zM309 59.56h2v3.11h-2zM319 59.56h2v3.11h-2zM341 59.56h2v3.11h-2zM347 59.56h2v3.11h-2zM355 59.56h2v3.11h-2zM385 59.56h2v3.11h-2zM435 59.56h4v3.11h-4zM455 59.56h2v3.11h-2zM465 59.56h2v3.11h-2zM509 59.56h2v3.11h-2zM519 59.56h2v3.11h-2zM529 59.56h2v3.11h-2zM537 59.56h2v3.11h-2zM543 59.56h2v3.11h-2zM559 59.56h2v3.11h-2zM565 59.56h2v3.11h-2zM569 59.56h2v3.11h-2zM587 59.56h6v3.11h-6zM617 59.56h2v3.11h-2zM641 59.56h2v3.11h-2zM655 59.56h2v3.11h-2zM679 59.56h4v3.11h-4zM693 59.56h4v3.11h-4zM753 59.56h2v3.11h-2zM757 59.56h2v3.11h-2zM773 59.56h2v3.11h-2zM779 59.56h2v3.11h-2zM783 59.56h2v3.11h-2zM817 59.56h2v3.11h-2zM823 59.56h2v3.11h-2zM829 59.56h4v3.11h-4zM275 62.63h2v3.11h-2zM333 62.63h2v3.11h-2zM373 62.63h4v3.11h-4zM381 62.63h2v3.11h-2zM427 62.63h2v3.11h-2zM513 62.63h2v3.11h-2zM535 62.63h2v3.11h-2zM563 62.63h2v3.11h-2zM569 62.63h2v3.11h-2zM577 62.63h2v3.11h-2zM587 62.63h2v3.11h-2zM609 62.63h2v3.11h-2zM613 62.63h2v3.11h-2zM633 62.63h2v3.11h-2zM647 62.63h2v3.11h-2zM665 62.63h2v3.11h-2zM681 62.63h2v3.11h-2zM715 62.63h2v3.11h-2zM733 62.63h2v3.11h-2zM761 62.63h2v3.11h-2zM791 62.63h6v3.11h-6zM807 62.63h2v3.11h-2zM831 62.63h2v3.11h-2zM193 65.71h2v3.11h-2zM215 65.71h4v3.11h-4zM233 65.71h2v3.11h-2zM265 65.71h2v3.11h-2zM281 65.71h2v3.11h-2zM355 65.71h2v3.11h-2zM373 65.71h2v3.11h-2zM385 65.71h2v3.11h-2zM405 65.71h2v3.11h-2zM415 65.71h2v3.11h-2zM421 65.71h4v3.11h-4zM429 65.71h2v3.11h-2zM445 65.71h2v3.11h-2zM451 65.71h2v3.11h-2zM491 65.71h2v3.11h-2zM527 65.71h4v3.11h-4zM547 65.71h2v3.11h-2zM589 65.71h2v3.11h-2zM597 65.71h2v3.11h-2zM641 65.71h2v3.11h-2zM671 65.71h2v3.11h-2zM687 65.71h2v3.11h-2zM715 65.71h2v3.11h-2zM725 65.71h2v3.11h-2zM801 65.71h2v3.11h-2zM805 65.71h2v3.11h-2zM815 65.71h4v3.11h-4zM821 65.71h2v3.11h-2zM855 65.71h2v3.11h-2zM191 68.78h2v3.11h-2zM209 68.78h2v3.11h-2zM227 68.78h2v3.11h-2zM235 68.78h2v3.11h-2zM275 68.78h2v3.11h-2zM285 68.78h4v3.11h-4zM299 68.78h2v3.11h-2zM389 68.78h4v3.11h-4zM417 68.78h2v3.11h-2zM429 68.78h2v3.11h-2zM441 68.78h2v3.11h-2zM471 68.78h2v3.11h-2zM491 68.78h2v3.11h-2zM495 68.78h4v3.11h-4zM519 68.78h2v3.11h-2zM527 68.78h2v3.11h-2zM539 68.78h2v3.11h-2zM559 68.78h2v3.11h-2zM563 68.78h2v3.11h-2zM573 68.78h2v3.11h-2zM585 68.78h2v3.11h-2zM595 68.78h2v3.11h-2zM613 68.78h2v3.11h-2zM633 68.78h2v3.11h-2zM671 68.78h2v3.11h-2zM695 68.78h2v3.11h-2zM797 68.78h2v3.11h-2zM845 68.78h2v3.11h-2zM163 71.85h2v3.11h-2zM187 71.85h2v3.11h-2zM221 71.85h2v3.11h-2zM277 71.85h2v3.11h-2zM291 71.85h2v3.11h-2zM307 71.85h2v3.11h-2zM321 71.85h2v3.11h-2zM329 71.85h2v3.11h-2zM355 71.85h2v3.11h-2zM417 71.85h2v3.11h-2zM523 71.85h2v3.11h-2zM553 71.85h2v3.11h-2zM559 71.85h2v3.11h-2zM655 71.85h2v3.11h-2zM661 71.85h2v3.11h-2zM729 71.85h2v3.11h-2zM741 71.85h2v3.11h-2zM757 71.85h6v3.11h-6zM777 71.85h2v3.11h-2zM801 71.85h2v3.11h-2zM823 71.85h2v3.11h-2zM165 74.93h2v3.11h-2zM171 74.93h2v3.11h-2zM279 74.93h2v3.11h-2zM331 74.93h2v3.11h-2zM435 74.93h2v3.11h-2zM457 74.93h2v3.11h-2zM465 74.93h2v3.11h-2zM485 74.93h2v3.11h-2zM523 74.93h2v3.11h-2zM561 74.93h2v3.11h-2zM607 74.93h2v3.11h-2zM611 74.93h2v3.11h-2zM643 74.93h2v3.11h-2zM665 74.93h2v3.11h-2zM703 74.93h2v3.11h-2zM775 74.93h2v3.11h-2zM787 74.93h2v3.11h-2z"/><path fill="#d2e2e2" d="M273 31.90h2v3.11h-2zM431 31.90h2v3.11h-2zM501 31.90h2v3.11h-2zM563 31.90h2v3.11h-2zM679 31.90h2v3.11h-2zM719 31.90h2v3.11h-2zM749 31.90h2v3.11h-2zM763 31.90h2v3.11h-2zM785 31.90h2v3.11h-2zM833 31.90h2v3.11h-2zM849 31.90h2v3.11h-2zM865 31.90h2v3.11h-2zM137 34.97h2v3.11h-2zM379 34.97h2v3.11h-2zM531 34.97h2v3.11h-2zM563 34.97h2v3.11h-2zM579 34.97h2v3.11h-2zM587 34.97h2v3.11h-2zM709 34.97h2v3.11h-2zM743 34.97h2v3.11h-2zM837 34.97h2v3.11h-2zM851 34.97h2v3.11h-2zM881 34.97h2v3.11h-2zM157 38.05h2v3.11h-2zM209 38.05h2v3.11h-2zM229 38.05h2v3.11h-2zM241 38.05h2v3.11h-2zM269 38.05h2v3.11h-2zM301 38.05h2v3.11h-2zM309 38.05h2v3.11h-2zM365 38.05h2v3.11h-2zM375 38.05h2v3.11h-2zM409 38.05h2v3.11h-2zM415 38.05h2v3.11h-2zM429 38.05h2v3.11h-2zM459 38.05h2v3.11h-2zM481 38.05h4v3.11h-4zM571 38.05h2v3.11h-2zM597 38.05h2v3.11h-2zM601 38.05h4v3.11h-4zM607 38.05h2v3.11h-2zM619 38.05h2v3.11h-2zM639 38.05h4v3.11h-4zM665 38.05h2v3.11h-2zM669 38.05h2v3.11h-2zM677 38.05h2v3.11h-2zM687 38.05h2v3.11h-2zM693 38.05h2v3.11h-2zM705 38.05h2v3.11h-2zM765 38.05h2v3.11h-2zM769 38.05h2v3.11h-2zM807 38.05h2v3.11h-2zM823 38.05h2v3.11h-2zM263 41.12h2v3.11h-2zM279 41.12h2v3.11h-2zM317 41.12h2v3.11h-2zM323 41.12h2v3.11h-2zM327 41.12h2v3.11h-2zM341 41.12h2v3.11h-2zM349 41.12h2v3.11h-2zM355 41.12h2v3.11h-2zM371 41.12h2v3.11h-2zM377 41.12h2v3.11h-2zM401 41.12h2v3.11h-2zM415 41.12h2v3.11h-2zM427 41.12h2v3.11h-2zM439 41.12h2v3.11h-2zM449 41.12h2v3.11h-2zM473 41.12h2v3.11h-2zM527 41.12h2v3.11h-2zM531 41.12h2v3.11h-2zM565 41.12h2v3.11h-2zM569 41.12h2v3.11h-2zM577 41.12h2v3.11h-2zM591 41.12h2v3.11h-2zM623 41.12h2v3.11h-2zM627 41.12h4v3.11h-4zM633 41.12h4v3.11h-4zM645 41.12h4v3.11h-4zM669 41.12h2v3.11h-2zM729 41.12h2v3.11h-2zM739 41.12h2v3.11h-2zM751 41.12h4v3.11h-4zM769 41.12h2v3.11h-2zM779 41.12h2v3.11h-2zM309 44.19h2v3.11h-2zM387 44.19h2v3.11h-2zM421 44.19h4v3.11h-4zM451 44.19h2v3.11h-2zM465 44.19h2v3.11h-2zM545 44.19h4v3.11h-4zM593 44.19h2v3.11h-2zM611 44.19h2v3.11h-2zM615 44.19h2v3.11h-2zM639 44.19h2v3.11h-2zM683 44.19h2v3.11h-2zM687 44.19h4v3.11h-4zM725 44.19h2v3.11h-2zM741 44.19h2v3.11h-2zM753 44.19h2v3.11h-2zM773 44.19h2v3.11h-2zM797 44.19h2v3.11h-2zM185 47.27h2v3.11h-2zM461 47.27h2v3.11h-2zM469 47.27h2v3.11h-2zM525 47.27h2v3.11h-2zM581 47.27h2v3.11h-2zM685 47.27h2v3.11h-2zM867 47.27h2v3.11h-2zM69 50.34h2v3.11h-2zM465 50.34h2v3.11h-2zM485 50.34h2v3.11h-2zM509 50.34h2v3.11h-2zM539 50.34h2v3.11h-2zM593 50.34h2v3.11h-2zM627 50.34h2v3.11h-2zM645 50.34h2v3.11h-2zM665 50.34h4v3.11h-4zM677 50.34h2v3.11h-2zM729 50.34h2v3.11h-2zM789 50.34h2v3.11h-2zM337 53.41h2v3.11h-2zM345 53.41h2v3.11h-2zM363 53.41h2v3.11h-2zM469 53.41h2v3.11h-2zM503 53.41h2v3.11h-2zM591 53.41h2v3.11h-2zM597 53.41h2v3.11h-2zM611 53.41h2v3.11h-2zM649 53.41h2v3.11h-2zM653 53.41h2v3.11h-2zM671 53.41h2v3.11h-2zM741 53.41h2v3.11h-2zM745 53.41h2v3.11h-2zM757 53.41h2v3.11h-2zM779 53.41h2v3.11h-2zM827 53.41h2v3.11h-2zM833 53.41h2v3.11h-2zM881 53.41h2v3.11h-2zM129 56.49h2v3.11h-2zM209 56.49h2v3.11h-2zM215 56.49h4v3.11h-4zM241 56.49h2v3.11h-2zM245 56.49h2v3.11h-2zM263 56.49h2v3.11h-2zM267 56.49h2v3.11h-2zM313 56.49h2v3.11h-2zM333 56.49h2v3.11h-2zM347 56.49h2v3.11h-2zM351 56.49h2v3.11h-2zM363 56.49h2v3.11h-2zM389 56.49h2v3.11h-2zM397 56.49h2v3.11h-2zM401 56.49h2v3.11h-2zM425 56.49h2v3.11h-2zM433 56.49h2v3.11h-2zM451 56.49h2v3.11h-2zM493 56.49h2v3.11h-2zM507 56.49h2v3.11h-2zM531 56.49h2v3.11h-2zM597 56.49h2v3.11h-2zM605 56.49h2v3.11h-2zM615 56.49h6v3.11h-6zM635 56.49h2v3.11h-2zM641 56.49h2v3.11h-2zM669 56.49h2v3.11h-2zM691 56.49h2v3.11h-2zM755 56.49h2v3.11h-2zM759 56.49h4v3.11h-4zM771 56.49h2v3.11h-2zM813 56.49h2v3.11h-2zM831 56.49h2v3.11h-2zM835 56.49h2v3.11h-2zM839 56.49h2v3.11h-2zM843 56.49h2v3.11h-2zM849 56.49h2v3.11h-2zM235 59.56h2v3.11h-2zM241 59.56h2v3.11h-2zM245 59.56h2v3.11h-2zM327 59.56h2v3.11h-2zM379 59.56h2v3.11h-2zM411 59.56h2v3.11h-2zM419 59.56h2v3.11h-2zM463 59.56h2v3.11h-2zM491 59.56h2v3.11h-2zM503 59.56h2v3.11h-2zM507 59.56h2v3.11h-2zM525 59.56h2v3.11h-2zM535 59.56h2v3.11h-2zM545 59.56h2v3.11h-2zM563 59.56h2v3.11h-2zM571 59.56h2v3.11h-2zM579 59.56h2v3.11h-2zM691 59.56h2v3.11h-2zM707 59.56h4v3.11h-4zM739 59.56h2v3.11h-2zM763 59.56h2v3.11h-2zM777 59.56h2v3.11h-2zM785 59.56h2v3.11h-2zM819 59.56h2v3.11h-2zM827 59.56h2v3.11h-2zM839 59.56h2v3.11h-2zM867 59.56h2v3.11h-2zM133 62.63h2v3.11h-2zM143 62.63h2v3.11h-2zM147 62.63h2v3.11h-2zM199 62.63h2v3.11h-2zM215 62.63h4v3.11h-4zM227 62.63h2v3.11h-2zM323 62.63h2v3.11h-2zM351 62.63h2v3.11h-2zM365 62.63h2v3.11h-2zM393 62.63h2v3.11h-2zM407 62.63h2v3.11h-2zM413 62.63h2v3.11h-2zM481 62.63h2v3.11h-2zM493 62.63h2v3.11h-2zM497 62.63h2v3.11h-2zM501 62.63h2v3.11h-2zM505 62.63h2v3.11h-2zM511 62.63h2v3.11h-2zM531 62.63h4v3.11h-4zM549 62.63h2v3.11h-2zM593 62.63h2v3.11h-2zM601 62.63h4v3.11h-4zM617 62.63h2v3.11h-2zM627 62.63h2v3.11h-2zM641 62.63h4v3.11h-4zM659 62.63h2v3.11h-2zM679 62.63h2v3.11h-2zM689 62.63h2v3.11h-2zM695 62.63h2v3.11h-2zM705 62.63h2v3.11h-2zM713 62.63h2v3.11h-2zM719 62.63h2v3.11h-2zM739 62.63h2v3.11h-2zM809 62.63h4v3.11h-4zM825 62.63h2v3.11h-2zM81 65.71h2v3.11h-2zM235 65.71h2v3.11h-2zM241 65.71h2v3.11h-2zM257 65.71h2v3.11h-2zM261 65.71h4v3.11h-4zM273 65.71h2v3.11h-2zM283 65.71h2v3.11h-2zM301 65.71h2v3.11h-2zM313 65.71h2v3.11h-2zM369 65.71h2v3.11h-2zM387 65.71h2v3.11h-2zM395 65.71h2v3.11h-2zM407 65.71h2v3.11h-2zM435 65.71h2v3.11h-2zM441 65.71h2v3.11h-2zM457 65.71h2v3.11h-2zM463 65.71h2v3.11h-2zM483 65.71h2v3.11h-2zM541 65.71h2v3.11h-2zM577 65.71h2v3.11h-2zM583 65.71h2v3.11h-2zM623 65.71h2v3.11h-2zM627 65.71h2v3.11h-2zM631 65.71h2v3.11h-2zM657 65.71h2v3.11h-2zM667 65.71h2v3.11h-2zM679 65.71h2v3.11h-2zM697 65.71h2v3.11h-2zM731 65.71h2v3.11h-2zM765 65.71h4v3.11h-4zM789 65.71h2v3.11h-2zM795 65.71h2v3.11h-2zM811 65.71h2v3.11h-2zM835 65.71h2v3.11h-2zM197 68.78h2v3.11h-2zM217 68.78h2v3.11h-2zM283 68.78h2v3.11h-2zM305 68.78h2v3.11h-2zM349 68.78h2v3.11h-2zM381 68.78h4v3.11h-4zM387 68.78h2v3.11h-2zM457 68.78h2v3.11h-2zM465 68.78h2v3.11h-2zM485 68.78h2v3.11h-2zM499 68.78h2v3.11h-2zM503 68.78h2v3.11h-2zM517 68.78h2v3.11h-2zM541 68.78h2v3.11h-2zM591 68.78h2v3.11h-2zM603 68.78h2v3.11h-2zM623 68.78h4v3.11h-4zM629 68.78h2v3.11h-2zM643 68.78h2v3.11h-2zM675 68.78h2v3.11h-2zM681 68.78h2v3.11h-2zM685 68.78h2v3.11h-2zM703 68.78h2v3.11h-2zM711 68.78h2v3.11h-2zM737 68.78h2v3.11h-2zM749 68.78h2v3.11h-2zM773 68.78h2v3.11h-2zM799 68.78h4v3.11h-4zM807 68.78h2v3.11h-2zM827 68.78h4v3.11h-4zM843 68.78h2v3.11h-2zM161 71.85h2v3.11h-2zM165 71.85h2v3.11h-2zM243 71.85h2v3.11h-2zM281 71.85h2v3.11h-2zM289 71.85h2v3.11h-2zM375 71.85h2v3.11h-2zM407 71.85h2v3.11h-2zM433 71.85h2v3.11h-2zM437 71.85h2v3.11h-2zM449 71.85h2v3.11h-2zM459 71.85h2v3.11h-2zM463 71.85h2v3.11h-2zM477 71.85h2v3.11h-2zM495 71.85h2v3.11h-2zM511 71.85h2v3.11h-2zM541 71.85h2v3.11h-2zM597 71.85h2v3.11h-2zM623 71.85h2v3.11h-2zM649 71.85h2v3.11h-2zM653 71.85h2v3.11h-2zM681 71.85h2v3.11h-2zM693 71.85h2v3.11h-2zM713 71.85h2v3.11h-2zM775 71.85h2v3.11h-2zM835 71.85h2v3.11h-2zM181 74.93h2v3.11h-2zM225 74.93h2v3.11h-2zM233 74.93h2v3.11h-2zM253 74.93h2v3.11h-2zM315 74.93h2v3.11h-2zM327 74.93h2v3.11h-2zM353 74.93h2v3.11h-2zM377 74.93h2v3.11h-2zM395 74.93h2v3.11h-2zM403 74.93h2v3.11h-2zM411 74.93h2v3.11h-2zM423 74.93h2v3.11h-2zM437 74.93h2v3.11h-2zM449 74.93h2v3.11h-2zM459 74.93h2v3.11h-2zM469 74.93h2v3.11h-2zM481 74.93h4v3.11h-4zM515 74.93h2v3.11h-2zM527 74.93h4v3.11h-4zM541 74.93h2v3.11h-2zM547 74.93h2v3.11h-2zM587 74.93h2v3.11h-2zM595 74.93h2v3.11h-2zM655 74.93h4v3.11h-4zM667 74.93h2v3.11h-2zM671 74.93h2v3.11h-2zM683 74.93h2v3.11h-2zM687 74.93h2v3.11h-2zM801 74.93h2v3.11h-2zM809 74.93h4v3.11h-4zM843 74.93h2v3.11h-2z"/><path fill="#afcccc" d="M345 31.90h2v3.11h-2zM579 31.90h2v3.11h-2zM177 34.97h2v3.11h-2zM333 34.97h2v3.11h-2zM569 34.97h2v3.11h-2zM809 34.97h2v3.11h-2zM841 34.97h2v3.11h-2zM107 38.05h2v3.11h-2zM129 38.05h2v3.11h-2zM383 38.05h2v3.11h-2zM675 38.05h2v3.11h-2zM679 38.05h2v3.11h-2zM699 38.05h2v3.11h-2zM817 38.05h2v3.11h-2zM213 41.12h2v3.11h-2zM221 41.12h2v3.11h-2zM269 41.12h2v3.11h-2zM275 41.12h2v3.11h-2zM333 41.12h2v3.11h-2zM383 41.12h2v3.11h-2zM391 41.12h2v3.11h-2zM403 41.12h2v3.11h-2zM409 41.12h2v3.11h-2zM505 41.12h2v3.11h-2zM511 41.12h2v3.11h-2zM563 41.12h2v3.11h-2zM597 41.12h2v3.11h-2zM619 41.12h2v3.11h-2zM655 41.12h2v3.11h-2zM743 41.12h2v3.11h-2zM791 41.12h2v3.11h-2zM813 41.12h2v3.11h-2zM235 44.19h2v3.11h-2zM261 44.19h2v3.11h-2zM271 44.19h2v3.11h-2zM297 44.19h2v3.11h-2zM301 44.19h2v3.11h-2zM315 44.19h2v3.11h-2zM343 44.19h2v3.11h-2zM353 44.19h2v3.11h-2zM381 44.19h2v3.11h-2zM393 44.19h2v3.11h-2zM411 44.19h2v3.11h-2zM459 44.19h2v3.11h-2zM475 44.19h2v3.11h-2zM481 44.19h2v3.11h-2zM539 44.19h2v3.11h-2zM549 44.19h2v3.11h-2zM565 44.19h2v3.11h-2zM569 44.19h2v3.11h-2zM595 44.19h2v3.11h-2zM617 44.19h4v3.11h-4zM625 44.19h2v3.11h-2zM637 44.19h2v3.11h-2zM667 44.19h2v3.11h-2zM693 44.19h2v3.11h-2zM703 44.19h2v3.11h-2zM715 44.19h2v3.11h-2zM723 44.19h2v3.11h-2zM757 44.19h2v3.11h-2zM763 44.19h2v3.11h-2zM787 44.19h2v3.11h-2zM811 44.19h2v3.11h-2zM837 44.19h2v3.11h-2zM259 47.27h2v3.11h-2zM295 47.27h2v3.11h-2zM331 47.27h2v3.11h-2zM389 47.27h2v3.11h-2zM425 47.27h2v3.11h-2zM431 47.27h2v3.11h-2zM473 47.27h2v3.11h-2zM481 47.27h2v3.11h-2zM491 47.27h2v3.11h-2zM523 47.27h2v3.11h-2zM549 47.27h2v3.11h-2zM557 47.27h2v3.11h-2zM569 47.27h2v3.11h-2zM575 47.27h2v3.11h-2zM589 47.27h2v3.11h-2zM605 47.27h2v3.11h-2zM623 47.27h4v3.11h-4zM637 47.27h2v3.11h-2zM657 47.27h2v3.11h-2zM663 47.27h2v3.11h-2zM669 47.27h2v3.11h-2zM675 47.27h2v3.11h-2zM691 47.27h2v3.11h-2zM695 47.27h2v3.11h-2zM709 47.27h6v3.11h-6zM719 47.27h2v3.11h-2zM779 47.27h2v3.11h-2zM787 47.27h2v3.11h-2zM793 47.27h2v3.11h-2zM807 47.27h2v3.11h-2zM833 47.27h2v3.11h-2zM149 50.34h2v3.11h-2zM199 50.34h2v3.11h-2zM203 50.34h2v3.11h-2zM305 50.34h2v3.11h-2zM319 50.34h2v3.11h-2zM327 50.34h2v3.11h-2zM357 50.34h2v3.11h-2zM385 50.34h4v3.11h-4zM425 50.34h2v3.11h-2zM435 50.34h4v3.11h-4zM477 50.34h2v3.11h-2zM505 50.34h2v3.11h-2zM541 50.34h2v3.11h-2zM563 50.34h4v3.11h-4zM591 50.34h2v3.11h-2zM611 50.34h2v3.11h-2zM615 50.34h4v3.11h-4zM657 50.34h2v3.11h-2zM673 50.34h2v3.11h-2zM695 50.34h4v3.11h-4zM707 50.34h2v3.11h-2zM745 50.34h2v3.11h-2zM771 50.34h2v3.11h-2zM779 50.34h2v3.11h-2zM787 50.34h2v3.11h-2zM791 50.34h2v3.11h-2zM817 50.34h4v3.11h-4zM831 50.34h2v3.11h-2zM839 50.34h4v3.11h-4zM845 50.34h2v3.11h-2zM191 53.41h2v3.11h-2zM207 53.41h2v3.11h-2zM259 53.41h6v3.11h-6zM275 53.41h2v3.11h-2zM291 53.41h2v3.11h-2zM349 53.41h2v3.11h-2zM369 53.41h2v3.11h-2zM409 53.41h4v3.11h-4zM415 53.41h4v3.11h-4zM425 53.41h2v3.11h-2zM431 53.41h2v3.11h-2zM459 53.41h2v3.11h-2zM493 53.41h2v3.11h-2zM497 53.41h2v3.11h-2zM543 53.41h2v3.11h-2zM623 53.41h2v3.11h-2zM633 53.41h2v3.11h-2zM639 53.41h2v3.11h-2zM695 53.41h2v3.11h-2zM731 53.41h2v3.11h-2zM737 53.41h2v3.11h-2zM781 53.41h2v3.11h-2zM813 53.41h2v3.11h-2zM149 56.49h2v3.11h-2zM227 56.49h4v3.11h-4zM239 56.49h2v3.11h-2zM289 56.49h2v3.11h-2zM323 56.49h2v3.11h-2zM339 56.49h2v3.11h-2zM421 56.49h2v3.11h-2zM431 56.49h2v3.11h-2zM453 56.49h2v3.11h-2zM463 56.49h2v3.11h-2zM505 56.49h2v3.11h-2zM541 56.49h2v3.11h-2zM559 56.49h2v3.11h-2zM563 56.49h2v3.11h-2zM601 56.49h2v3.11h-2zM627 56.49h2v3.11h-2zM639 56.49h2v3.11h-2zM649 56.49h2v3.11h-2zM679 56.49h2v3.11h-2zM699 56.49h2v3.11h-2zM703 56.49h2v3.11h-2zM709 56.49h2v3.11h-2zM727 56.49h2v3.11h-2zM731 56.49h4v3.11h-4zM765 56.49h2v3.11h-2zM769 56.49h2v3.11h-2zM773 56.49h2v3.11h-2zM779 56.49h2v3.11h-2zM815 56.49h2v3.11h-2zM153 59.56h2v3.11h-2zM353 59.56h2v3.11h-2zM531 59.56h2v3.11h-2zM749 59.56h2v3.11h-2zM825 59.56h2v3.11h-2zM205 62.63h2v3.11h-2zM561 62.63h2v3.11h-2zM565 62.63h2v3.11h-2zM675 62.63h2v3.11h-2zM853 62.63h2v3.11h-2zM197 65.71h2v3.11h-2zM225 65.71h2v3.11h-2zM365 65.71h2v3.11h-2zM503 65.71h2v3.11h-2zM575 65.71h2v3.11h-2zM729 65.71h2v3.11h-2zM205 68.78h2v3.11h-2zM219 68.78h2v3.11h-2zM239 68.78h2v3.11h-2zM271 68.78h2v3.11h-2zM277 68.78h6v3.11h-6zM291 68.78h2v3.11h-2zM319 68.78h2v3.11h-2zM331 68.78h6v3.11h-6zM341 68.78h2v3.11h-2zM347 68.78h2v3.11h-2zM377 68.78h2v3.11h-2zM385 68.78h2v3.11h-2zM481 68.78h2v3.11h-2zM489 68.78h2v3.11h-2zM493 68.78h2v3.11h-2zM545 68.78h2v3.11h-2zM561 68.78h2v3.11h-2zM593 68.78h2v3.11h-2zM641 68.78h2v3.11h-2zM651 68.78h4v3.11h-4zM691 68.78h2v3.11h-2zM713 68.78h2v3.11h-2zM735 68.78h2v3.11h-2zM767 68.78h2v3.11h-2zM777 68.78h2v3.11h-2zM791 68.78h2v3.11h-2zM819 68.78h2v3.11h-2zM855 68.78h2v3.11h-2zM157 71.85h4v3.11h-4zM297 71.85h2v3.11h-2zM331 71.85h2v3.11h-2zM367 71.85h2v3.11h-2zM431 71.85h2v3.11h-2zM467 71.85h2v3.11h-2zM547 71.85h2v3.11h-2zM621 71.85h2v3.11h-2zM657 71.85h2v3.11h-2zM667 71.85h4v3.11h-4zM673 71.85h2v3.11h-2zM689 71.85h2v3.11h-2zM697 71.85h2v3.11h-2zM705 71.85h2v3.11h-2zM711 71.85h2v3.11h-2zM715 71.85h2v3.11h-2zM735 71.85h2v3.11h-2zM743 71.85h2v3.11h-2zM749 71.85h2v3.11h-2zM753 71.85h2v3.11h-2zM771 71.85h2v3.11h-2zM785 71.85h2v3.11h-2zM797 71.85h2v3.11h-2zM809 71.85h2v3.11h-2zM813 71.85h2v3.11h-2zM829 71.85h6v3.11h-6zM145 74.93h2v3.11h-2zM155 74.93h2v3.11h-2zM205 74.93h2v3.11h-2zM237 74.93h2v3.11h-2zM255 74.93h2v3.11h-2zM283 74.93h2v3.11h-2zM329 74.93h2v3.11h-2zM387 74.93h2v3.11h-2zM427 74.93h6v3.11h-6zM479 74.93h2v3.11h-2zM549 74.93h2v3.11h-2zM567 74.93h2v3.11h-2zM579 74.93h2v3.11h-2zM585 74.93h2v3.11h-2zM599 74.93h2v3.11h-2zM713 74.93h2v3.11h-2zM733 74.93h4v3.11h-4zM763 74.93h2v3.11h-2zM767 74.93h2v3.11h-2zM829 74.93h2v3.11h-2zM851 74.93h2v3.11h-2zM857 74.93h2v3.11h-2z"/><path fill="#b7d1d1" d="M771 31.90h2v3.11h-2zM69 34.97h2v3.11h-2zM857 34.97h2v3.11h-2zM231 38.05h2v3.11h-2zM283 38.05h2v3.11h-2zM369 38.05h2v3.11h-2zM389 38.05h2v3.11h-2zM449 38.05h2v3.11h-2zM463 38.05h2v3.11h-2zM477 38.05h2v3.11h-2zM485 38.05h2v3.11h-2zM585 38.05h2v3.11h-2zM593 38.05h2v3.11h-2zM661 38.05h2v3.11h-2zM707 38.05h2v3.11h-2zM779 38.05h2v3.11h-2zM813 38.05h2v3.11h-2zM825 38.05h2v3.11h-2zM129 41.12h2v3.11h-2zM205 41.12h2v3.11h-2zM225 41.12h2v3.11h-2zM235 41.12h2v3.11h-2zM273 41.12h2v3.11h-2zM291 41.12h2v3.11h-2zM339 41.12h2v3.11h-2zM343 41.12h2v3.11h-2zM375 41.12h2v3.11h-2zM379 41.12h2v3.11h-2zM385 41.12h2v3.11h-2zM483 41.12h4v3.11h-4zM571 41.12h2v3.11h-2zM621 41.12h2v3.11h-2zM657 41.12h2v3.11h-2zM667 41.12h2v3.11h-2zM673 41.12h2v3.11h-2zM679 41.12h4v3.11h-4zM703 41.12h2v3.11h-2zM709 41.12h2v3.11h-2zM723 41.12h2v3.11h-2zM731 41.12h2v3.11h-2zM735 41.12h2v3.11h-2zM747 41.12h4v3.11h-4zM795 41.12h2v3.11h-2zM805 41.12h6v3.11h-6zM833 41.12h2v3.11h-2zM143 44.19h2v3.11h-2zM191 44.19h2v3.11h-2zM195 44.19h2v3.11h-2zM223 44.19h2v3.11h-2zM227 44.19h2v3.11h-2zM237 44.19h2v3.11h-2zM241 44.19h2v3.11h-2zM247 44.19h6v3.11h-6zM291 44.19h2v3.11h-2zM295 44.19h2v3.11h-2zM313 44.19h2v3.11h-2zM339 44.19h2v3.11h-2zM347 44.19h4v3.11h-4zM355 44.19h2v3.11h-2zM359 44.19h2v3.11h-2zM385 44.19h2v3.11h-2zM419 44.19h2v3.11h-2zM427 44.19h2v3.11h-2zM447 44.19h2v3.11h-2zM469 44.19h2v3.11h-2zM473 44.19h2v3.11h-2zM497 44.19h4v3.11h-4zM531 44.19h2v3.11h-2zM559 44.19h2v3.11h-2zM577 44.19h2v3.11h-2zM589 44.19h2v3.11h-2zM599 44.19h2v3.11h-2zM609 44.19h2v3.11h-2zM621 44.19h2v3.11h-2zM635 44.19h2v3.11h-2zM641 44.19h2v3.11h-2zM671 44.19h4v3.11h-4zM733 44.19h2v3.11h-2zM745 44.19h2v3.11h-2zM749 44.19h2v3.11h-2zM767 44.19h2v3.11h-2zM781 44.19h2v3.11h-2zM795 44.19h2v3.11h-2zM807 44.19h2v3.11h-2zM823 44.19h4v3.11h-4zM831 44.19h2v3.11h-2zM329 47.27h2v3.11h-2zM367 47.27h2v3.11h-2zM407 47.27h2v3.11h-2zM423 47.27h2v3.11h-2zM429 47.27h2v3.11h-2zM465 47.27h2v3.11h-2zM471 47.27h2v3.11h-2zM479 47.27h2v3.11h-2zM507 47.27h2v3.11h-2zM517 47.27h4v3.11h-4zM555 47.27h2v3.11h-2zM585 47.27h2v3.11h-2zM649 47.27h4v3.11h-4zM721 47.27h2v3.11h-2zM727 47.27h2v3.11h-2zM731 47.27h2v3.11h-2zM801 47.27h2v3.11h-2zM835 47.27h2v3.11h-2zM847 47.27h2v3.11h-2zM183 50.34h2v3.11h-2zM225 50.34h2v3.11h-2zM271 50.34h2v3.11h-2zM279 50.34h2v3.11h-2zM331 50.34h2v3.11h-2zM355 50.34h2v3.11h-2zM389 50.34h2v3.11h-2zM397 50.34h2v3.11h-2zM433 50.34h2v3.11h-2zM439 50.34h2v3.11h-2zM455 50.34h4v3.11h-4zM473 50.34h2v3.11h-2zM491 50.34h2v3.11h-2zM549 50.34h2v3.11h-2zM561 50.34h2v3.11h-2zM579 50.34h2v3.11h-2zM595 50.34h2v3.11h-2zM601 50.34h2v3.11h-2zM653 50.34h2v3.11h-2zM681 50.34h2v3.11h-2zM709 50.34h2v3.11h-2zM725 50.34h4v3.11h-4zM759 50.34h2v3.11h-2zM773 50.34h2v3.11h-2zM793 50.34h2v3.11h-2zM827 50.34h2v3.11h-2zM859 50.34h2v3.11h-2zM223 53.41h2v3.11h-2zM267 53.41h2v3.11h-2zM273 53.41h2v3.11h-2zM289 53.41h2v3.11h-2zM353 53.41h2v3.11h-2zM373 53.41h2v3.11h-2zM389 53.41h2v3.11h-2zM397 53.41h2v3.11h-2zM407 53.41h2v3.11h-2zM421 53.41h2v3.11h-2zM451 53.41h2v3.11h-2zM481 53.41h2v3.11h-2zM489 53.41h2v3.11h-2zM499 53.41h2v3.11h-2zM519 53.41h2v3.11h-2zM547 53.41h2v3.11h-2zM571 53.41h2v3.11h-2zM583 53.41h2v3.11h-2zM593 53.41h2v3.11h-2zM619 53.41h4v3.11h-4zM637 53.41h2v3.11h-2zM645 53.41h2v3.11h-2zM657 53.41h2v3.11h-2zM665 53.41h2v3.11h-2zM677 53.41h2v3.11h-2zM687 53.41h2v3.11h-2zM705 53.41h2v3.11h-2zM715 53.41h2v3.11h-2zM719 53.41h2v3.11h-2zM729 53.41h2v3.11h-2zM735 53.41h2v3.11h-2zM763 53.41h2v3.11h-2zM767 53.41h2v3.11h-2zM771 53.41h4v3.11h-4zM777 53.41h2v3.11h-2zM801 53.41h2v3.11h-2zM829 53.41h2v3.11h-2zM845 53.41h2v3.11h-2zM849 53.41h4v3.11h-4zM265 56.49h2v3.11h-2zM301 56.49h2v3.11h-2zM335 56.49h2v3.11h-2zM341 56.49h2v3.11h-2zM375 56.49h4v3.11h-4zM403 56.49h2v3.11h-2zM445 56.49h2v3.11h-2zM461 56.49h2v3.11h-2zM499 56.49h2v3.11h-2zM519 56.49h2v3.11h-2zM529 56.49h2v3.11h-2zM557 56.49h2v3.11h-2zM573 56.49h2v3.11h-2zM581 56.49h2v3.11h-2zM623 56.49h2v3.11h-2zM651 56.49h2v3.11h-2zM681 56.49h2v3.11h-2zM693 56.49h2v3.11h-2zM715 56.49h2v3.11h-2zM725 56.49h2v3.11h-2zM739 56.49h2v3.11h-2zM825 56.49h2v3.11h-2zM829 56.49h2v3.11h-2zM833 56.49h2v3.11h-2zM155 59.56h2v3.11h-2zM161 59.56h2v3.11h-2zM289 59.56h2v3.11h-2zM475 59.56h2v3.11h-2zM663 59.56h2v3.11h-2zM699 59.56h2v3.11h-2zM729 59.56h4v3.11h-4zM811 59.56h2v3.11h-2zM861 59.56h2v3.11h-2zM135 62.63h2v3.11h-2zM157 62.63h2v3.11h-2zM291 62.63h2v3.11h-2zM429 62.63h2v3.11h-2zM503 62.63h2v3.11h-2zM699 62.63h2v3.11h-2zM737 62.63h2v3.11h-2zM745 62.63h2v3.11h-2zM749 62.63h2v3.11h-2zM209 65.71h2v3.11h-2zM295 65.71h2v3.11h-2zM311 65.71h2v3.11h-2zM347 65.71h4v3.11h-4zM379 65.71h2v3.11h-2zM427 65.71h2v3.11h-2zM447 65.71h4v3.11h-4zM469 65.71h2v3.11h-2zM477 65.71h2v3.11h-2zM493 65.71h2v3.11h-2zM507 65.71h2v3.11h-2zM531 65.71h2v3.11h-2zM573 65.71h2v3.11h-2zM587 65.71h2v3.11h-2zM673 65.71h4v3.11h-4zM689 65.71h2v3.11h-2zM751 65.71h2v3.11h-2zM779 65.71h4v3.11h-4zM829 65.71h2v3.11h-2zM833 65.71h2v3.11h-2zM841 65.71h2v3.11h-2zM193 68.78h2v3.11h-2zM251 68.78h2v3.11h-2zM301 68.78h2v3.11h-2zM313 68.78h4v3.11h-4zM399 68.78h2v3.11h-2zM431 68.78h2v3.11h-2zM487 68.78h2v3.11h-2zM577 68.78h2v3.11h-2zM647 68.78h2v3.11h-2zM755 68.78h2v3.11h-2zM779 68.78h2v3.11h-2zM795 68.78h2v3.11h-2zM813 68.78h2v3.11h-2zM889 68.78h2v3.11h-2zM215 71.85h2v3.11h-2zM259 71.85h2v3.11h-2zM309 71.85h2v3.11h-2zM317 71.85h2v3.11h-2zM389 71.85h2v3.11h-2zM439 71.85h4v3.11h-4zM469 71.85h2v3.11h-2zM479 71.85h2v3.11h-2zM485 71.85h2v3.11h-2zM491 71.85h2v3.11h-2zM503 71.85h2v3.11h-2zM529 71.85h2v3.11h-2zM549 71.85h2v3.11h-2zM563 71.85h2v3.11h-2zM575 71.85h2v3.11h-2zM581 71.85h2v3.11h-2zM585 71.85h2v3.11h-2zM589 71.85h2v3.11h-2zM647 71.85h2v3.11h-2zM701 71.85h2v3.11h-2zM725 71.85h4v3.11h-4zM733 71.85h2v3.11h-2zM737 71.85h2v3.11h-2zM795 71.85h2v3.11h-2zM133 74.93h2v3.11h-2zM217 74.93h2v3.11h-2zM285 74.93h2v3.11h-2zM289 74.93h2v3.11h-2zM345 74.93h2v3.11h-2zM351 74.93h2v3.11h-2zM355 74.93h2v3.11h-2zM363 74.93h2v3.11h-2zM371 74.93h2v3.11h-2zM383 74.93h2v3.11h-2zM393 74.93h2v3.11h-2zM399 74.93h4v3.11h-4zM407 74.93h4v3.11h-4zM419 74.93h2v3.11h-2zM453 74.93h2v3.11h-2zM473 74.93h2v3.11h-2zM487 74.93h4v3.11h-4zM517 74.93h2v3.11h-2zM539 74.93h2v3.11h-2zM543 74.93h2v3.11h-2zM605 74.93h2v3.11h-2zM627 74.93h2v3.11h-2zM631 74.93h2v3.11h-2zM653 74.93h2v3.11h-2zM707 74.93h2v3.11h-2zM711 74.93h2v3.11h-2zM747 74.93h2v3.11h-2zM757 74.93h2v3.11h-2zM783 74.93h2v3.11h-2zM791 74.93h6v3.11h-6zM827 74.93h2v3.11h-2zM837 74.93h2v3.11h-2zM869 74.93h2v3.11h-2zM879 74.93h2v3.11h-2z"/><path fill="#a6c6c6" d="M867 31.90h2v3.11h-2zM727 34.97h2v3.11h-2zM167 38.05h2v3.11h-2zM173 38.05h2v3.11h-2zM193 38.05h2v3.11h-2zM403 38.05h2v3.11h-2zM453 38.05h2v3.11h-2zM535 38.05h2v3.11h-2zM645 38.05h2v3.11h-2zM209 41.12h2v3.11h-2zM257 41.12h2v3.11h-2zM289 41.12h2v3.11h-2zM309 41.12h2v3.11h-2zM313 41.12h2v3.11h-2zM345 41.12h4v3.11h-4zM413 41.12h2v3.11h-2zM431 41.12h2v3.11h-2zM443 41.12h2v3.11h-2zM459 41.12h2v3.11h-2zM463 41.12h2v3.11h-2zM469 41.12h2v3.11h-2zM501 41.12h2v3.11h-2zM533 41.12h4v3.11h-4zM559 41.12h2v3.11h-2zM573 41.12h2v3.11h-2zM585 41.12h2v3.11h-2zM609 41.12h2v3.11h-2zM643 41.12h2v3.11h-2zM713 41.12h4v3.11h-4zM781 41.12h4v3.11h-4zM879 41.12h2v3.11h-2zM129 44.19h2v3.11h-2zM147 44.19h2v3.11h-2zM245 44.19h2v3.11h-2zM281 44.19h2v3.11h-2zM289 44.19h2v3.11h-2zM293 44.19h2v3.11h-2zM317 44.19h2v3.11h-2zM323 44.19h2v3.11h-2zM407 44.19h2v3.11h-2zM413 44.19h2v3.11h-2zM445 44.19h2v3.11h-2zM449 44.19h2v3.11h-2zM453 44.19h2v3.11h-2zM463 44.19h2v3.11h-2zM467 44.19h2v3.11h-2zM511 44.19h2v3.11h-2zM563 44.19h2v3.11h-2zM629 44.19h2v3.11h-2zM655 44.19h2v3.11h-2zM669 44.19h2v3.11h-2zM681 44.19h2v3.11h-2zM721 44.19h2v3.11h-2zM735 44.19h2v3.11h-2zM765 44.19h2v3.11h-2zM783 44.19h2v3.11h-2zM791 44.19h2v3.11h-2zM821 44.19h2v3.11h-2zM835 44.19h2v3.11h-2zM103 47.27h2v3.11h-2zM191 47.27h2v3.11h-2zM233 47.27h2v3.11h-2zM239 47.27h2v3.11h-2zM321 47.27h2v3.11h-2zM357 47.27h4v3.11h-4zM419 47.27h2v3.11h-2zM427 47.27h2v3.11h-2zM445 47.27h4v3.11h-4zM463 47.27h2v3.11h-2zM487 47.27h4v3.11h-4zM497 47.27h4v3.11h-4zM527 47.27h2v3.11h-2zM545 47.27h2v3.11h-2zM553 47.27h2v3.11h-2zM607 47.27h2v3.11h-2zM617 47.27h2v3.11h-2zM631 47.27h2v3.11h-2zM653 47.27h2v3.11h-2zM659 47.27h2v3.11h-2zM671 47.27h2v3.11h-2zM729 47.27h2v3.11h-2zM747 47.27h2v3.11h-2zM759 47.27h2v3.11h-2zM773 47.27h2v3.11h-2zM777 47.27h2v3.11h-2zM781 47.27h2v3.11h-2zM791 47.27h2v3.11h-2zM795 47.27h2v3.11h-2zM815 47.27h2v3.11h-2zM825 47.27h4v3.11h-4zM831 47.27h2v3.11h-2zM845 47.27h2v3.11h-2zM851 47.27h2v3.11h-2zM857 47.27h2v3.11h-2zM255 50.34h2v3.11h-2zM289 50.34h2v3.11h-2zM299 50.34h2v3.11h-2zM377 50.34h2v3.11h-2zM399 50.34h2v3.11h-2zM415 50.34h2v3.11h-2zM427 50.34h2v3.11h-2zM471 50.34h2v3.11h-2zM489 50.34h2v3.11h-2zM495 50.34h2v3.11h-2zM499 50.34h2v3.11h-2zM521 50.34h4v3.11h-4zM543 50.34h2v3.11h-2zM551 50.34h2v3.11h-2zM587 50.34h2v3.11h-2zM609 50.34h2v3.11h-2zM619 50.34h4v3.11h-4zM643 50.34h2v3.11h-2zM651 50.34h2v3.11h-2zM659 50.34h2v3.11h-2zM715 50.34h2v3.11h-2zM719 50.34h2v3.11h-2zM741 50.34h2v3.11h-2zM757 50.34h2v3.11h-2zM761 50.34h2v3.11h-2zM781 50.34h2v3.11h-2zM813 50.34h2v3.11h-2zM821 50.34h2v3.11h-2zM843 50.34h2v3.11h-2zM847 50.34h2v3.11h-2zM851 50.34h2v3.11h-2zM143 53.41h2v3.11h-2zM175 53.41h2v3.11h-2zM213 53.41h4v3.11h-4zM229 53.41h4v3.11h-4zM237 53.41h2v3.11h-2zM245 53.41h2v3.11h-2zM325 53.41h2v3.11h-2zM339 53.41h2v3.11h-2zM347 53.41h2v3.11h-2zM403 53.41h2v3.11h-2zM463 53.41h2v3.11h-2zM487 53.41h2v3.11h-2zM507 53.41h2v3.11h-2zM513 53.41h2v3.11h-2zM517 53.41h2v3.11h-2zM525 53.41h2v3.11h-2zM537 53.41h2v3.11h-2zM545 53.41h2v3.11h-2zM573 53.41h2v3.11h-2zM579 53.41h2v3.11h-2zM599 53.41h2v3.11h-2zM609 53.41h2v3.11h-2zM617 53.41h2v3.11h-2zM625 53.41h2v3.11h-2zM635 53.41h2v3.11h-2zM659 53.41h2v3.11h-2zM699 53.41h2v3.11h-2zM703 53.41h2v3.11h-2zM751 53.41h2v3.11h-2zM765 53.41h2v3.11h-2zM769 53.41h2v3.11h-2zM795 53.41h2v3.11h-2zM803 53.41h2v3.11h-2zM837 53.41h2v3.11h-2zM871 53.41h2v3.11h-2zM211 56.49h2v3.11h-2zM223 56.49h4v3.11h-4zM275 56.49h2v3.11h-2zM343 56.49h2v3.11h-2zM361 56.49h2v3.11h-2zM435 56.49h2v3.11h-2zM469 56.49h2v3.11h-2zM485 56.49h2v3.11h-2zM511 56.49h2v3.11h-2zM535 56.49h2v3.11h-2zM569 56.49h2v3.11h-2zM579 56.49h2v3.11h-2zM609 56.49h2v3.11h-2zM625 56.49h2v3.11h-2zM643 56.49h2v3.11h-2zM659 56.49h2v3.11h-2zM675 56.49h2v3.11h-2zM721 56.49h2v3.11h-2zM753 56.49h2v3.11h-2zM781 56.49h2v3.11h-2zM785 56.49h2v3.11h-2zM791 56.49h4v3.11h-4zM799 56.49h2v3.11h-2zM805 56.49h2v3.11h-2zM873 56.49h2v3.11h-2zM357 59.56h2v3.11h-2zM629 59.56h2v3.11h-2zM813 59.56h2v3.11h-2zM165 62.63h2v3.11h-2zM867 62.63h2v3.11h-2zM249 65.71h2v3.11h-2zM351 65.71h2v3.11h-2zM609 65.71h2v3.11h-2zM643 65.71h2v3.11h-2zM709 65.71h2v3.11h-2zM871 65.71h2v3.11h-2zM179 68.78h2v3.11h-2zM215 68.78h2v3.11h-2zM225 68.78h2v3.11h-2zM267 68.78h2v3.11h-2zM317 68.78h2v3.11h-2zM323 68.78h2v3.11h-2zM371 68.78h4v3.11h-4zM459 68.78h2v3.11h-2zM531 68.78h2v3.11h-2zM569 68.78h2v3.11h-2zM611 68.78h2v3.11h-2zM621 68.78h2v3.11h-2zM709 68.78h2v3.11h-2zM715 68.78h2v3.11h-2zM727 68.78h2v3.11h-2zM765 68.78h2v3.11h-2zM831 68.78h4v3.11h-4zM839 68.78h2v3.11h-2zM867 68.78h2v3.11h-2zM137 71.85h2v3.11h-2zM171 71.85h2v3.11h-2zM219 71.85h2v3.11h-2zM223 71.85h2v3.11h-2zM229 71.85h2v3.11h-2zM293 71.85h2v3.11h-2zM343 71.85h2v3.11h-2zM395 71.85h2v3.11h-2zM411 71.85h2v3.11h-2zM415 71.85h2v3.11h-2zM429 71.85h2v3.11h-2zM455 71.85h2v3.11h-2zM577 71.85h2v3.11h-2zM593 71.85h2v3.11h-2zM625 71.85h2v3.11h-2zM629 71.85h2v3.11h-2zM687 71.85h2v3.11h-2zM699 71.85h2v3.11h-2zM709 71.85h2v3.11h-2zM769 71.85h2v3.11h-2zM779 71.85h2v3.11h-2zM817 71.85h4v3.11h-4zM223 74.93h2v3.11h-2zM249 74.93h2v3.11h-2zM269 74.93h4v3.11h-4zM293 74.93h4v3.11h-4zM301 74.93h2v3.11h-2zM307 74.93h4v3.11h-4zM313 74.93h2v3.11h-2zM333 74.93h2v3.11h-2zM337 74.93h4v3.11h-4zM463 74.93h2v3.11h-2zM493 74.93h2v3.11h-2zM501 74.93h2v3.11h-2zM533 74.93h2v3.11h-2zM557 74.93h2v3.11h-2zM603 74.93h2v3.11h-2zM617 74.93h2v3.11h-2zM625 74.93h2v3.11h-2zM635 74.93h2v3.11h-2zM641 74.93h2v3.11h-2zM647 74.93h2v3.11h-2zM659 74.93h2v3.11h-2zM691 74.93h2v3.11h-2zM719 74.93h2v3.11h-2zM779 74.93h2v3.11h-2zM815 74.93h4v3.11h-4zM847 74.93h2v3.11h-2zM867 74.93h2v3.11h-2zM871 74.93h2v3.11h-2z"/><path fill="#899ea9" d="M885 31.90h2v3.11h-2zM161 34.97h2v3.11h-2zM189 34.97h2v3.11h-2zM193 34.97h2v3.11h-2zM889 34.97h2v3.11h-2zM177 38.05h2v3.11h-2zM265 41.12h2v3.11h-2zM373 41.12h2v3.11h-2zM217 44.19h2v3.11h-2zM371 44.19h2v3.11h-2zM501 44.19h2v3.11h-2zM585 44.19h2v3.11h-2zM719 44.19h2v3.11h-2zM727 44.19h2v3.11h-2zM213 47.27h2v3.11h-2zM227 47.27h2v3.11h-2zM253 47.27h2v3.11h-2zM263 47.27h4v3.11h-4zM277 47.27h2v3.11h-2zM285 47.27h2v3.11h-2zM379 47.27h4v3.11h-4zM397 47.27h2v3.11h-2zM401 47.27h2v3.11h-2zM413 47.27h2v3.11h-2zM457 47.27h2v3.11h-2zM495 47.27h2v3.11h-2zM501 47.27h2v3.11h-2zM511 47.27h2v3.11h-2zM573 47.27h2v3.11h-2zM579 47.27h2v3.11h-2zM629 47.27h2v3.11h-2zM645 47.27h2v3.11h-2zM769 47.27h2v3.11h-2zM849 47.27h2v3.11h-2zM855 47.27h2v3.11h-2zM877 47.27h2v3.11h-2zM141 50.34h2v3.11h-2zM173 50.34h2v3.11h-2zM223 50.34h2v3.11h-2zM237 50.34h2v3.11h-2zM285 50.34h2v3.11h-2zM311 50.34h2v3.11h-2zM317 50.34h2v3.11h-2zM359 50.34h2v3.11h-2zM369 50.34h2v3.11h-2zM405 50.34h2v3.11h-2zM463 50.34h2v3.11h-2zM531 50.34h2v3.11h-2zM679 50.34h2v3.11h-2zM693 50.34h2v3.11h-2zM865 50.34h2v3.11h-2zM131 53.41h2v3.11h-2zM179 53.41h2v3.11h-2zM225 53.41h2v3.11h-2zM247 53.41h2v3.11h-2zM281 53.41h2v3.11h-2zM293 53.41h2v3.11h-2zM341 53.41h2v3.11h-2zM561 53.41h2v3.11h-2zM613 53.41h2v3.11h-2zM817 53.41h2v3.11h-2zM159 56.49h2v3.11h-2zM183 56.49h2v3.11h-2zM133 59.56h2v3.11h-2zM123 62.63h2v3.11h-2zM197 62.63h2v3.11h-2zM877 62.63h2v3.11h-2zM873 65.71h2v3.11h-2zM875 68.78h2v3.11h-2zM179 71.85h2v3.11h-2zM237 71.85h2v3.11h-2zM489 71.85h2v3.11h-2zM129 74.93h2v3.11h-2zM391 74.93h2v3.11h-2z"/><path fill="#7e8f9e" d="M887 31.90h2v3.11h-2zM137 38.05h2v3.11h-2zM189 41.12h2v3.11h-2zM699 41.12h2v3.11h-2zM219 47.27h2v3.11h-2zM237 47.27h2v3.11h-2zM241 47.27h2v3.11h-2zM273 47.27h2v3.11h-2zM291 47.27h2v3.11h-2zM323 47.27h4v3.11h-4zM337 47.27h2v3.11h-2zM861 47.27h2v3.11h-2zM181 50.34h2v3.11h-2zM211 50.34h2v3.11h-2zM245 50.34h2v3.11h-2zM265 50.34h2v3.11h-2zM413 50.34h2v3.11h-2zM529 50.34h2v3.11h-2zM647 50.34h2v3.11h-2zM731 50.34h2v3.11h-2zM201 53.41h2v3.11h-2zM241 53.41h2v3.11h-2zM675 53.41h2v3.11h-2zM887 53.41h2v3.11h-2zM203 56.49h2v3.11h-2zM243 56.49h2v3.11h-2zM249 56.49h2v3.11h-2zM123 59.56h2v3.11h-2zM163 62.63h2v3.11h-2zM869 65.71h2v3.11h-2zM131 68.78h2v3.11h-2zM143 68.78h2v3.11h-2zM177 68.78h2v3.11h-2zM187 68.78h2v3.11h-2zM195 68.78h2v3.11h-2zM201 68.78h2v3.11h-2zM849 74.93h2v3.11h-2zM861 74.93h2v3.11h-2z"/><path fill="#282838" d="M117 34.97h2v3.11h-2zM125 44.19h2v3.11h-2zM143 47.27h2v3.11h-2zM163 47.27h2v3.11h-2zM85 65.71h2v3.11h-2zM863 71.85h2v3.11h-2zM873 74.93h2v3.11h-2z"/><path fill="#9ab6ba" d="M135 34.97h2v3.11h-2zM171 34.97h2v3.11h-2zM181 38.05h2v3.11h-2zM227 41.12h2v3.11h-2zM249 41.12h2v3.11h-2zM301 41.12h2v3.11h-2zM381 41.12h2v3.11h-2zM475 41.12h2v3.11h-2zM493 41.12h2v3.11h-2zM575 41.12h2v3.11h-2zM759 41.12h2v3.11h-2zM777 41.12h2v3.11h-2zM211 44.19h2v3.11h-2zM257 44.19h2v3.11h-2zM265 44.19h6v3.11h-6zM277 44.19h2v3.11h-2zM321 44.19h2v3.11h-2zM341 44.19h2v3.11h-2zM351 44.19h2v3.11h-2zM383 44.19h2v3.11h-2zM403 44.19h2v3.11h-2zM519 44.19h2v3.11h-2zM533 44.19h2v3.11h-2zM543 44.19h2v3.11h-2zM555 44.19h2v3.11h-2zM697 44.19h4v3.11h-4zM849 44.19h2v3.11h-2zM853 44.19h2v3.11h-2zM865 44.19h2v3.11h-2zM245 47.27h2v3.11h-2zM269 47.27h2v3.11h-2zM293 47.27h2v3.11h-2zM315 47.27h2v3.11h-2zM347 47.27h4v3.11h-4zM353 47.27h2v3.11h-2zM363 47.27h2v3.11h-2zM393 47.27h2v3.11h-2zM403 47.27h2v3.11h-2zM455 47.27h2v3.11h-2zM477 47.27h2v3.11h-2zM485 47.27h2v3.11h-2zM493 47.27h2v3.11h-2zM505 47.27h2v3.11h-2zM531 47.27h2v3.11h-2zM577 47.27h2v3.11h-2zM583 47.27h2v3.11h-2zM601 47.27h2v3.11h-2zM611 47.27h2v3.11h-2zM619 47.27h2v3.11h-2zM665 47.27h2v3.11h-2zM693 47.27h2v3.11h-2zM705 47.27h2v3.11h-2zM717 47.27h2v3.11h-2zM783 47.27h2v3.11h-2zM805 47.27h2v3.11h-2zM809 47.27h2v3.11h-2zM189 50.34h4v3.11h-4zM209 50.34h2v3.11h-2zM247 50.34h4v3.11h-4zM315 50.34h2v3.11h-2zM337 50.34h2v3.11h-2zM341 50.34h2v3.11h-2zM349 50.34h2v3.11h-2zM367 50.34h2v3.11h-2zM371 50.34h2v3.11h-2zM393 50.34h2v3.11h-2zM411 50.34h2v3.11h-2zM423 50.34h2v3.11h-2zM431 50.34h2v3.11h-2zM443 50.34h2v3.11h-2zM503 50.34h2v3.11h-2zM507 50.34h2v3.11h-2zM511 50.34h2v3.11h-2zM527 50.34h2v3.11h-2zM567 50.34h2v3.11h-2zM581 50.34h2v3.11h-2zM599 50.34h2v3.11h-2zM605 50.34h2v3.11h-2zM629 50.34h6v3.11h-6zM669 50.34h2v3.11h-2zM703 50.34h2v3.11h-2zM733 50.34h2v3.11h-2zM743 50.34h2v3.11h-2zM763 50.34h2v3.11h-2zM809 50.34h2v3.11h-2zM857 50.34h2v3.11h-2zM193 53.41h2v3.11h-2zM211 53.41h2v3.11h-2zM277 53.41h2v3.11h-2zM297 53.41h2v3.11h-2zM301 53.41h2v3.11h-2zM333 53.41h2v3.11h-2zM343 53.41h2v3.11h-2zM399 53.41h2v3.11h-2zM495 53.41h2v3.11h-2zM501 53.41h2v3.11h-2zM563 53.41h2v3.11h-2zM577 53.41h2v3.11h-2zM589 53.41h2v3.11h-2zM747 53.41h2v3.11h-2zM755 53.41h2v3.11h-2zM807 53.41h2v3.11h-2zM839 53.41h2v3.11h-2zM195 56.49h2v3.11h-2zM327 56.49h2v3.11h-2zM371 56.49h4v3.11h-4zM391 56.49h2v3.11h-2zM395 56.49h2v3.11h-2zM399 56.49h2v3.11h-2zM481 56.49h2v3.11h-2zM503 56.49h2v3.11h-2zM603 56.49h2v3.11h-2zM717 56.49h2v3.11h-2zM735 56.49h2v3.11h-2zM747 56.49h2v3.11h-2zM809 56.49h2v3.11h-2zM865 56.49h2v3.11h-2zM183 59.56h2v3.11h-2zM301 59.56h2v3.11h-2zM675 59.56h2v3.11h-2zM315 62.63h2v3.11h-2zM391 62.63h2v3.11h-2zM763 62.63h2v3.11h-2zM849 62.63h2v3.11h-2zM155 65.71h2v3.11h-2zM165 65.71h2v3.11h-2zM175 65.71h2v3.11h-2zM303 65.71h2v3.11h-2zM735 65.71h2v3.11h-2zM745 65.71h2v3.11h-2zM175 68.78h2v3.11h-2zM223 68.78h2v3.11h-2zM369 68.78h2v3.11h-2zM693 68.78h2v3.11h-2zM743 68.78h2v3.11h-2zM815 68.78h2v3.11h-2zM871 68.78h2v3.11h-2zM143 71.85h2v3.11h-2zM201 71.85h2v3.11h-2zM209 71.85h2v3.11h-2zM273 71.85h2v3.11h-2zM283 71.85h2v3.11h-2zM295 71.85h2v3.11h-2zM303 71.85h2v3.11h-2zM313 71.85h2v3.11h-2zM345 71.85h2v3.11h-2zM399 71.85h2v3.11h-2zM501 71.85h2v3.11h-2zM609 71.85h2v3.11h-2zM641 71.85h4v3.11h-4zM767 71.85h2v3.11h-2zM845 71.85h2v3.11h-2zM149 74.93h2v3.11h-2zM163 74.93h2v3.11h-2zM187 74.93h2v3.11h-2zM207 74.93h2v3.11h-2zM385 74.93h2v3.11h-2zM593 74.93h2v3.11h-2zM619 74.93h2v3.11h-2zM651 74.93h2v3.11h-2zM669 74.93h2v3.11h-2zM679 74.93h2v3.11h-2zM715 74.93h2v3.11h-2zM755 74.93h2v3.11h-2zM781 74.93h2v3.11h-2zM855 74.93h2v3.11h-2z"/><path fill="#393950" d="M141 34.97h2v3.11h-2zM867 44.19h2v3.11h-2zM199 47.27h2v3.11h-2zM883 47.27h2v3.11h-2z"/><path fill="#6d778d" d="M195 34.97h2v3.11h-2zM205 34.97h2v3.11h-2zM201 44.19h2v3.11h-2zM873 44.19h2v3.11h-2zM211 47.27h2v3.11h-2zM217 47.27h2v3.11h-2zM271 47.27h2v3.11h-2zM279 47.27h2v3.11h-2zM319 47.27h2v3.11h-2zM339 47.27h2v3.11h-2zM371 47.27h2v3.11h-2zM161 50.34h2v3.11h-2zM293 50.34h2v3.11h-2zM301 50.34h4v3.11h-4zM193 56.49h2v3.11h-2zM197 56.49h2v3.11h-2zM205 56.49h2v3.11h-2zM195 59.56h2v3.11h-2zM105 62.63h2v3.11h-2zM137 62.63h2v3.11h-2zM865 65.71h2v3.11h-2zM175 74.93h2v3.11h-2zM203 74.93h2v3.11h-2zM853 74.93h2v3.11h-2zM883 74.93h2v3.11h-2z"/><path fill="#0b0b10" d="M869 34.97h2v3.11h-2zM81 44.19h2v3.11h-2zM139 44.19h2v3.11h-2zM889 44.19h2v3.11h-2zM159 53.41h2v3.11h-2zM865 53.41h2v3.11h-2zM133 56.49h2v3.11h-2zM157 65.71h2v3.11h-2zM113 68.78h2v3.11h-2zM127 71.85h2v3.11h-2zM177 71.85h2v3.11h-2z"/><path fill="#50506f" d="M873 34.97h2v3.11h-2zM89 38.05h2v3.11h-2zM131 41.12h2v3.11h-2zM181 41.12h2v3.11h-2zM225 47.27h2v3.11h-2zM247 47.27h2v3.11h-2zM153 50.34h2v3.11h-2zM885 50.34h2v3.11h-2zM135 56.49h2v3.11h-2zM141 62.63h2v3.11h-2zM887 62.63h2v3.11h-2zM113 65.71h2v3.11h-2zM881 68.78h2v3.11h-2zM153 74.93h2v3.11h-2z"/><path fill="#454560" d="M877 34.97h2v3.11h-2zM185 38.05h2v3.11h-2zM289 47.27h2v3.11h-2zM875 47.27h2v3.11h-2zM163 50.34h2v3.11h-2zM205 50.34h2v3.11h-2zM863 50.34h2v3.11h-2zM149 53.41h2v3.11h-2z"/><path fill="#333348" d="M887 34.97h2v3.11h-2zM873 41.12h2v3.11h-2zM79 44.19h2v3.11h-2zM181 53.41h2v3.11h-2zM885 65.71h2v3.11h-2zM121 68.78h2v3.11h-2zM203 71.85h2v3.11h-2z"/><path fill="#111118" d="M93 38.05h2v3.11h-2zM117 41.12h2v3.11h-2zM125 41.12h2v3.11h-2zM181 44.19h2v3.11h-2zM177 47.27h2v3.11h-2zM201 47.27h2v3.11h-2zM131 74.93h2v3.11h-2z"/><path fill="#676f87" d="M141 38.05h2v3.11h-2zM859 38.05h2v3.11h-2zM867 41.12h2v3.11h-2zM173 44.19h2v3.11h-2zM189 44.19h2v3.11h-2zM209 47.27h2v3.11h-2zM223 47.27h2v3.11h-2zM303 47.27h2v3.11h-2zM93 50.34h2v3.11h-2zM217 50.34h2v3.11h-2zM257 50.34h2v3.11h-2zM867 56.49h2v3.11h-2zM105 65.71h2v3.11h-2zM137 65.71h2v3.11h-2z"/><path fill="#616781" d="M151 38.05h2v3.11h-2zM193 44.19h2v3.11h-2zM131 47.27h2v3.11h-2zM865 47.27h2v3.11h-2zM375 50.34h2v3.11h-2zM157 68.78h2v3.11h-2z"/><path fill="#060608" d="M885 38.05h2v3.11h-2zM141 53.41h2v3.11h-2zM151 53.41h2v3.11h-2zM883 71.85h2v3.11h-2z"/><path fill="#1d1d28" d="M133 44.19h2v3.11h-2zM869 47.27h2v3.11h-2zM139 53.41h2v3.11h-2zM121 62.63h2v3.11h-2zM873 62.63h2v3.11h-2zM131 65.71h2v3.11h-2zM87 68.78h2v3.11h-2z"/><path fill="#4a4a67" d="M869 50.34h2v3.11h-2zM197 53.41h2v3.11h-2zM181 56.49h2v3.11h-2zM875 59.56h2v3.11h-2zM879 68.78h2v3.11h-2zM155 71.85h2v3.11h-2z"/>
<path d="M131.5 12.5V91.5M188.5 12.5V91.5M239.5 12.5V91.5M286.5 12.5V91.5M339.5 12.5V91.5M402.5 12.5V91.5M476.5 12.5V91.5M562.5 12.5V91.5M659.5 12.5V91.5M768.5 12.5V91.5M891.5 12.5V91.5M65.5 51.5H896.5" stroke="#b0b0b0" stroke-width="1.11" stroke-dasharray="1.11 1.83" fill="none"/>
<rect x="65.5" y="12.5" width="831" height="79" fill="none" stroke="#000" stroke-width="1.11"/>
<path d="M131.5 91.5v4.86M131.5 12.5v-4.86M188.5 91.5v4.86M188.5 12.5v-4.86M239.5 91.5v4.86M239.5 12.5v-4.86M286.5 91.5v4.86M286.5 12.5v-4.86M339.5 91.5v4.86M339.5 12.5v-4.86M402.5 91.5v4.86M402.5 12.5v-4.86M476.5 91.5v4.86M476.5 12.5v-4.86M562.5 91.5v4.86M562.5 12.5v-4.86M659.5 91.5v4.86M659.5 12.5v-4.86M768.5 91.5v4.86M768.5 12.5v-4.86M891.5 91.5v4.86M891.5 12.5v-4.86M65.5 51.5h-4.86" stroke="#000" stroke-width="1.11" fill="none"/>
<path d="M96.5 91.5v2.78M96.5 12.5v-2.78M157.5 91.5v2.78M157.5 12.5v-2.78M174.5 91.5v2.78M174.5 12.5v-2.78M200.5 91.5v2.78M200.5 12.5v-2.78M211.5 91.5v2.78M211.5 12.5v-2.78M221.5 91.5v2.78M221.5 12.5v-2.78M230.5 91.5v2.78M230.5 12.5v-2.78M248.5 91.5v2.78M248.5 12.5v-2.78M258.5 91.5v2.78M258.5 12.5v-2.78M267.5 91.5v2.78M267.5 12.5v-2.78M276.5 91.5v2.78M276.5 12.5v-2.78M296.5 91.5v2.78M296.5 12.5v-2.78M306.5 91.5v2.78M306.5 12.5v-2.78M317.5 91.5v2.78M317.5 12.5v-2.78M328.5 91.5v2.78M328.5 12.5v-2.78M351.5 91.5v2.78M351.5 12.5v-2.78M363.5 91.5v2.78M363.5 12.5v-2.78M376.5 91.5v2.78M376.5 12.5v-2.78M389.5 91.5v2.78M389.5 12.5v-2.78M416.5 91.5v2.78M416.5 12.5v-2.78M431.5 91.5v2.78M431.5 12.5v-2.78M445.5 91.5v2.78M445.5 12.5v-2.78M461.5 91.5v2.78M461.5 12.5v-2.78M492.5 91.5v2.78M492.5 12.5v-2.78M509.5 91.5v2.78M509.5 12.5v-2.78M526.5 91.5v2.78M526.5 12.5v-2.78M544.5 91.5v2.78M544.5 12.5v-2.78M580.5 91.5v2.78M580.5 12.5v-2.78M599.5 91.5v2.78M599.5 12.5v-2.78M618.5 91.5v2.78M618.5 12.5v-2.78M638.5 91.5v2.78M638.5 12.5v-2.78M680.5 91.5v2.78M680.5 12.5v-2.78M701.5 91.5v2.78M701.5 12.5v-2.78M723.5 91.5v2.78M723.5 12.5v-2.78M745.5 91.5v2.78M745.5 12.5v-2.78M792.5 91.5v2.78M792.5 12.5v-2.78M816.5 91.5v2.78M816.5 12.5v-2.78M840.5 91.5v2.78M840.5 12.5v-2.78M865.5 91.5v2.78M865.5 12.5v-2.78" stroke="#000" stroke-width="0.83" fill="none"/>
<rect x="65.5" y="324.4" width="831" height="22.1" fill="#f7f7f7"/>
<path d="M131.5 108.5V346.5M188.5 108.5V346.5M239.5 108.5V346.5M286.5 108.5V346.5M339.5 108.5V346.5M402.5 108.5V346.5M476.5 108.5V346.5M562.5 108.5V346.5M659.5 108.5V346.5M768.5 108.5V346.5M891.5 108.5V346.5M65.5 324.5H896.5M65.5 290.5H896.5M65.5 255.5H896.5M65.5 221.5H896.5M65.5 186.5H896.5M65.5 152.5H896.5M65.5 118.5H896.5" stroke="#b0b0b0" stroke-width="1.11" stroke-dasharray="1.11 1.83" fill="none"/>
<g clip-path="url(#c1)">
<g fill="#888888"><rect x="71" y="100.0" width="2" height="202.0"/><rect x="74" y="100.0" width="4" height="255.0"/><rect x="71" y="300.5" width="7" height="54.5"/><rect x="79" y="100.0" width="2" height="255.0"/><rect x="85" y="100.0" width="3" height="255.0"/><rect x="93" y="100.0" width="8" height="255.0"/><rect x="102" y="100.0" width="6" height="193.0"/><rect x="106" y="292" width="2" height="38"/><rect x="106" y="328" width="5.5" height="2"/><rect x="109.5" y="289" width="2.0" height="55"/><rect x="109.5" y="288" width="3.5" height="2"/><rect x="111" y="100.0" width="2" height="190.0"/><rect x="113" y="100.0" width="3" height="244.0"/><rect x="113" y="342.5" width="3" height="2.0"/><rect x="118" y="100.0" width="4" height="255.0"/><rect x="122" y="100.0" width="3" height="147.5"/><rect x="122" y="246" width="3" height="2"/><rect x="127" y="100.0" width="2" height="255.0"/><rect x="130" y="100.0" width="2" height="255.0"/><rect x="127" y="246" width="5" height="109.0"/><rect x="134" y="100.0" width="2" height="255.0"/><rect x="136" y="250" width="2" height="105.0"/><rect x="137" y="100.0" width="2" height="150.0"/><rect x="136" y="249" width="3" height="2"/><rect x="139" y="100.0" width="2" height="43.5"/><rect x="137" y="142.5" width="4" height="2.0"/><rect x="141" y="143" width="2" height="182"/><rect x="141" y="324" width="4" height="2"/><rect x="144" y="100.0" width="2" height="210.0"/><rect x="144" y="309" width="2" height="2"/><rect x="148" y="100.0" width="2" height="155.0"/><rect x="150" y="100.0" width="2" height="155.0"/><rect x="148" y="253.5" width="4" height="2.0"/><rect x="150" y="131.5" width="6.5" height="2.0"/><rect x="155" y="132" width="2" height="223.0"/><rect x="160" y="162" width="2" height="134"/><rect x="157" y="264" width="3" height="32"/><rect x="155" y="262" width="7" height="2"/><rect x="155" y="296" width="4" height="59.0"/><rect x="155" y="294.5" width="7" height="2.0"/><rect x="162.5" y="100.0" width="1.5" height="63.0"/><rect x="160" y="161.5" width="4" height="2.0"/><rect x="165" y="100.0" width="2" height="162.0"/><rect x="165" y="261" width="5" height="2"/><rect x="167" y="262" width="4" height="93.0"/><rect x="171" y="232" width="3" height="66.5"/><rect x="169" y="232" width="5" height="2"/><rect x="167" y="297.5" width="7" height="2.0"/><rect x="174" y="100.0" width="2" height="198.5"/><rect x="176" y="100.0" width="2" height="22.0"/><rect x="176" y="121" width="4" height="2"/><rect x="178" y="122" width="2" height="91"/><rect x="178" y="212" width="4" height="2"/><rect x="180.5" y="139" width="2.5" height="172.5"/><rect x="181" y="138" width="4" height="2"/><rect x="180.5" y="310.5" width="2.5" height="2.0"/><rect x="184.5" y="100.0" width="2.5" height="90.0"/><rect x="187" y="100.0" width="3" height="210.5"/><rect x="187" y="309.5" width="3" height="2.0"/><rect x="192" y="100.0" width="2" height="227.5"/><rect x="197" y="100.0" width="2" height="255.0"/><rect x="194" y="186" width="3" height="141.5"/><rect x="195" y="327.5" width="4" height="27.5"/><rect x="192" y="326.5" width="7" height="2.0"/><rect x="199" y="100.0" width="4" height="19.0"/><rect x="201" y="118" width="2" height="2"/><rect x="202" y="119" width="2" height="102"/><rect x="202" y="220" width="4" height="2"/><rect x="204" y="214" width="2" height="7"/><rect x="204" y="213" width="4" height="2"/><rect x="206" y="163.5" width="2" height="50.5"/><rect x="206" y="162.5" width="4" height="2.0"/><rect x="208.5" y="100.0" width="2.0" height="64.0"/><rect x="209" y="146.5" width="3.5" height="2.0"/><rect x="210.5" y="147" width="2.0" height="7"/><rect x="210.5" y="152.5" width="4.0" height="2.0"/><rect x="212.5" y="153" width="2.0" height="24"/><rect x="212.5" y="176" width="4.0" height="2"/></g>
<path d="M212.5 177H215.5V304H217V304.0H219V203.5H221V184.4H223V256.0H225V256.0H227V205.2H229V181.4H231V181.4H233V198.0H235V274.0H237V188.5H239V196.0H241V225.4H243V281.0H245V210.6H247V239.7H249V258.0H251V251.3H253V275.0H255V251.0H257V228.8H259V300.0H261V242.1H263V254.3H265V217.5H267V272.0H269V243.7H271V224.4H273V229.0H275V240.3H277V258.2H279V285.0H281V263.2H283V253.5H285V278.0H287V278.0H289V297.0H291V297.0H293V282.6H295V271.2H297V253.0H299V253.0H301V253.0H303V234.0H305V277.5H307V262.3H309V290.5H311V265.0H313V284.6H315V307.0H317V287.6H319V285.0H321V272.6H323V282.5H325V285.1H327V269.5H329V279.7H331V277.9H333V280.7H335V267.0H337V281.5H339V300.0H341V305.0H343V237.0H345V250.0H347V305.0H349V259.0H351V265.0H353V270.5H355V286.3H357V292.4H359V293.9H361V294.0H363V295.8H365V290.0H367V283.8H369V284.0H371V282.7H373V262.0H375V287.4H377V268.0H379V268.0H381V288.2H383V285.2H385V304.0H387V292.9H389V290.6H391V300.0H393V301.5H395V285.6H397V303.0H399V295.3H401V305.4H403V288.7H405V299.8H407V293.6H409V321.0H411V309.7H413V309.1H415V290.8H417V291.5H419V319.0H421V305.6H423V294.8H425V319.0H427V281.0H429V281.0H431V301.9H433V321.0H435V294.5H437V294.2H439V304.3H441V302.7H443V304.9H445V303.6H447V317.1H449V297.9H451V330.0H453V283.8H455V307.8H457V305.5H459V282.2H461V287.1H463V316.0H465V317.2H467V295.4H469V299.1H471V275.0H473V275.0H475V304.9H477V309.6H479V303.4H481V309.8H483V305.8H485V307.8H487V295.4H489V312.1H491V303.9H493V303.2H495V286.3H497V327.0H499V327.0H501V315.2H503V291.0H505V291.0H507V330.0H509V304.3H511V314.7H513V291.0H515V318.9H517V330.7H519V309.5H521V312.4H523V316.7H525V330.0H527V330.0H529V289.0H531V303.8H533V314.0H535V296.0H537V296.0H539V297.7H541V317.5H543V324.0H545V324.0H547V296.2H549V317.6H551V314.9H553V313.3H555V310.8H557V316.3H559V309.6H561V339.0H563V308.4H565V294.0H567V275.0H569V297.8H571V301.6H573V288.5H575V328.8H577V323.2H579V300.7H581V288.2H583V305.5H585V291.2H587V300.4H589V299.2H591V289.1H593V317.4H595V320.0H597V320.0H599V282.0H601V322.0H603V279.0H605V321.9H607V284.0H609V298.7H611V305.3H613V309.7H615V315.3H617V321.6H619V310.1H621V296.0H623V296.0H625V327.0H627V327.0H629V313.9H631V321.4H633V304.6H635V291.0H637V302.9H639V301.6H641V291.0H643V346.0H645V286.0H647V296.9H649V322.0H651V334.0H653V303.4H655V289.0H657V325.7H659V325.4H661V294.0H663V304.6H665V318.2H667V307.7H669V321.9H671V306.2H673V300.8H675V319.6H677V320.7H679V327.5H681V284.0H683V284.0H685V317.9H687V332.5H689V334.0H691V299.5H693V312.2H695V269.0H697V269.0H699V310.1H701V285.0H703V285.0H705V287.5H707V314.9H709V327.2H711V302.0H713V287.5H715V329.0H717V311.4H719V308.9H721V332.0H723V317.9H725V337.5H727V337.5H729V324.7H731V301.0H733V301.0H735V297.2H737V323.8H739V296.1H741V320.5H743V328.8H745V303.9H747V330.0H749V297.5H751V297.5H753V300.5H755V320.7H757V325.0H759V295.5H761V300.9H763V324.0H765V324.0H767V299.3H769V325.8H771V307.6H773V303.0H775V345.0H777V294.0H779V294.0H781V282.5H783V315.9H785V313.1H787V304.5H789V315.6H791V319.7H793V300.5H795V297.9H797V315.6H799V345.0H801V345.0H803V306.1H805V314.6H807V293.7H809V332.5H811V291.9H813V291.0H815V280.3H817V280.0H819V280.0H821V314.0H823V309.0H825V324.0H827V324.0H829V304.0H831V345.0H833V292.2H835V294.7H837V262.5H839V330.0H841V291.0H843V313.3H845V206.0H847V340.0H849V303.6H851V295.7H853V336.0H855V269.0H857V336.0H859V336.0H861V345.0H863V306.1H865V274.0H867V274.0H869V345.0H871V345.0H873V237.5H875V237.5H877V350.0H879V90.0H881V90.0H883V350.0H885V324.0H887V334.0H889V90.0H891V95.0H893V95.0H895V95.0H897H900" fill="none" stroke="#888888" stroke-width="2.0" stroke-linejoin="miter" stroke-linecap="butt"/>
<path d="M60.0 90.0H114.0V110.0H117.5V153.0H122.0V90.0H124.5V161.0H127.5V174.0H130.0V184.0H132.0V155.0H134.5V186.0H137.0V190.0H140.0V200.0H142.0V205.0H144.5V172.0H147.0V212.0H148.5V222.0H150.0V226.0H152.5V226.0H155.0V229.0H157.0V179.0H160.0V232.0H162.5V241.0H165.0V244.0H167.5V242.0H170.0V233.0H172.0V240.0H174.0V252.0H176.5V259.0H179.0V248.0H181.0V252.0H183.0V240.0H185.5V244.0H188.0V230.0H190.0V200.0H192.0V196.0H194.0V172.0H197.0V204.0H199.0V212.0H201.0V220.0H203.0V266.0H205.0V270.0H207.5V278.0H209.5V286.0H211.5V290.0H214.0V293.0H217.0V295.0H219.0V296.0H221.0V292.4H223.0V295.8H225.0V295.6H227.0V296.5H229.0V297.4H231.0V296.3H233.0V298.1H235.0V297.7H237.0V301.7H239.0V299.1H241.0V298.9H243.0V299.5H245.0V299.6H247.0V299.8H249.0V300.9H251.0V301.9H253.0V301.1H255.0V302.1H257.0V301.0H259.0V301.1H261.0V302.6H263.0V302.2H265.0V301.8H267.0V302.6H269.0V303.7H271.0V305.4H273.0V303.7H275.0V304.0H277.0V305.5H279.0V304.1H281.0V304.8H283.0V305.9H285.0V305.8H287.0V305.4H289.0V306.1H291.0V303.0H293.0V306.6H295.0V304.9H297.0V304.3H299.0V306.2H301.0V306.7H303.0V305.9H305.0V305.5H307.0V306.7H309.0V306.9H311.0V308.4H313.0V308.0H315.0V307.7H317.0V308.7H319.0V307.7H321.0V307.2H323.0V308.7H325.0V308.9H327.0V308.3H329.0V307.9H331.0V308.9H333.0V306.6H335.0V309.6H337.0V309.4H339.0V307.5H341.0V309.1H343.0V308.1H345.0V309.7H347.0V307.2H349.0V308.2H351.0V309.7H353.0V310.3H355.0V307.4H357.0V309.1H359.0V310.0H361.0V309.3H363.0V311.4H365.0V309.1H367.0V310.6H369.0V309.5H371.0V311.7H373.0V310.4H375.0V310.1H377.0V308.8H379.0V311.9H381.0V311.0H383.0V311.0H385.0V311.3H387.0V310.5H389.0V309.6H391.0V309.4H393.0V309.4H395.0V311.3H397.0V308.7H399.0V309.5H401.0V309.7H403.0V310.2H405.0V310.5H407.0V308.9H409.0V308.4H411.0V310.0H413.0V311.1H415.0V310.7H417.0V310.2H419.0V309.7H421.0V310.3H423.0V310.0H425.0V311.1H427.0V309.8H429.0V310.7H431.0V310.6H433.0V311.4H435.0V311.2H437.0V313.4H439.0V312.6H441.0V312.7H443.0V309.7H445.0V311.4H447.0V311.3H449.0V312.4H451.0V309.9H453.0V313.0H455.0V312.9H457.0V310.7H459.0V310.9H461.0V311.1H463.0V311.8H465.0V312.3H467.0V313.5H469.0V311.4H471.0V312.3H473.0V311.7H475.0V313.1H477.0V312.1H479.0V312.7H481.0V310.4H483.0V311.2H485.0V310.6H487.0V312.6H489.0V311.8H491.0V310.9H493.0V310.7H495.0V311.5H497.0V310.4H499.0V310.2H501.0V311.5H503.0V313.3H505.0V311.0H507.0V310.8H509.0V310.3H511.0V310.2H513.0V312.0H515.0V312.4H517.0V311.7H519.0V312.1H521.0V311.9H523.0V312.0H525.0V310.6H527.0V311.5H529.0V312.0H531.0V311.1H533.0V311.3H535.0V311.0H537.0V311.4H539.0V312.4H541.0V311.2H543.0V311.3H545.0V312.2H547.0V312.0H549.0V312.8H551.0V309.4H553.0V312.0H555.0V310.7H557.0V311.2H559.0V311.8H561.0V311.9H563.0V311.9H565.0V311.0H567.0V312.3H569.0V310.5H571.0V310.6H573.0V311.4H575.0V310.1H577.0V312.5H579.0V311.4H581.0V312.4H583.0V310.4H585.0V310.0H587.0V310.5H589.0V310.9H591.0V309.7H593.0V310.5H595.0V310.1H597.0V311.5H599.0V309.4H601.0V310.9H603.0V309.3H605.0V308.9H607.0V309.1H609.0V308.6H611.0V309.7H613.0V310.4H615.0V309.5H617.0V309.9H619.0V310.7H621.0V309.4H623.0V309.3H625.0V308.8H627.0V307.6H629.0V309.7H631.0V307.4H633.0V309.6H635.0V309.0H637.0V310.0H639.0V308.9H641.0V308.3H643.0V309.3H645.0V308.5H647.0V308.8H649.0V309.0H651.0V308.8H653.0V308.7H655.0V308.1H657.0V308.6H659.0V306.7H661.0V308.4H663.0V307.4H665.0V309.4H667.0V309.5H669.0V306.5H671.0V308.3H673.0V308.0H675.0V307.1H677.0V308.5H679.0V307.5H681.0V306.2H683.0V307.5H685.0V307.6H687.0V307.7H689.0V306.4H691.0V308.0H693.0V308.0H695.0V306.1H697.0V306.4H699.0V306.8H701.0V306.3H703.0V308.2H705.0V306.7H707.0V305.5H709.0V305.5H711.0V306.0H713.0V308.0H715.0V305.7H717.0V305.8H719.0V306.0H721.0V305.4H723.0V307.4H725.0V304.8H727.0V305.8H729.0V305.2H731.0V305.5H733.0V303.8H735.0V306.3H737.0V304.5H739.0V304.6H741.0V303.6H743.0V303.7H745.0V304.8H747.0V305.0H749.0V304.7H751.0V305.0H753.0V304.5H755.0V303.8H757.0V304.5H759.0V304.2H761.0V303.5H763.0V304.1H765.0V304.6H767.0V303.5H769.0V302.9H771.0V303.8H773.0V304.8H775.0V302.8H777.0V302.7H779.0V302.4H781.0V303.3H783.0V300.3H785.0V302.0H787.0V302.5H789.0V300.4H791.0V302.3H793.0V301.1H795.0V299.9H797.0V300.3H799.0V298.6H801.0V299.3H803.0V301.4H805.0V298.8H807.0V301.1H809.0V299.3H811.0V300.1H813.0V299.2H815.0V297.0H817.0V298.6H819.0V299.4H821.0V298.4H823.0V298.3H825.0V300.0H827.0V299.2H829.0V298.4H831.0V299.2H833.0V300.2H835.0V298.5H837.0V299.4H839.0V299.5H841.0V297.8H843.0V296.3H845.0V295.7H847.0V296.5H849.0V296.3H851.0V294.7H853.0V294.0H855.0V292.1H857.0V291.4H859.0V289.1H861.0V287.5H863.0V284.1H865.0V280.3H867.0V274.6H869.5V245.0H871.0V233.0H872.5V215.0H874.0V197.0H876.0V185.0H877.5V168.0H879.5V90.0H900.0" fill="none" stroke="#ff0000" stroke-opacity="0.22" stroke-width="2.8"/>
</g>
<rect x="85" y="104" width="79" height="26.8" fill="#fff" fill-opacity="0.55"/>
<text x="91.3" y="124" font-size="10.95">5105_10732</text>
<rect x="65.5" y="108.5" width="831" height="238" fill="none" stroke="#000" stroke-width="1.11" stroke-linejoin="miter"/>
<path d="M131.5 346.5v4.86M131.5 108.5v-4.86M188.5 346.5v4.86M188.5 108.5v-4.86M239.5 346.5v4.86M239.5 108.5v-4.86M286.5 346.5v4.86M286.5 108.5v-4.86M339.5 346.5v4.86M339.5 108.5v-4.86M402.5 346.5v4.86M402.5 108.5v-4.86M476.5 346.5v4.86M476.5 108.5v-4.86M562.5 346.5v4.86M562.5 108.5v-4.86M659.5 346.5v4.86M659.5 108.5v-4.86M768.5 346.5v4.86M768.5 108.5v-4.86M891.5 346.5v4.86M891.5 108.5v-4.86M65.5 324.5h-4.86M65.5 290.5h-4.86M65.5 255.5h-4.86M65.5 221.5h-4.86M65.5 186.5h-4.86M65.5 152.5h-4.86M65.5 118.5h-4.86" stroke="#000" stroke-width="1.11" fill="none"/>
<path d="M96.5 346.5v2.78M96.5 108.5v-2.78M157.5 346.5v2.78M157.5 108.5v-2.78M174.5 346.5v2.78M174.5 108.5v-2.78M200.5 346.5v2.78M200.5 108.5v-2.78M211.5 346.5v2.78M211.5 108.5v-2.78M221.5 346.5v2.78M221.5 108.5v-2.78M230.5 346.5v2.78M230.5 108.5v-2.78M248.5 346.5v2.78M248.5 108.5v-2.78M258.5 346.5v2.78M258.5 108.5v-2.78M267.5 346.5v2.78M267.5 108.5v-2.78M276.5 346.5v2.78M276.5 108.5v-2.78M296.5 346.5v2.78M296.5 108.5v-2.78M306.5 346.5v2.78M306.5 108.5v-2.78M317.5 346.5v2.78M317.5 108.5v-2.78M328.5 346.5v2.78M328.5 108.5v-2.78M351.5 346.5v2.78M351.5 108.5v-2.78M363.5 346.5v2.78M363.5 108.5v-2.78M376.5 346.5v2.78M376.5 108.5v-2.78M389.5 346.5v2.78M389.5 108.5v-2.78M416.5 346.5v2.78M416.5 108.5v-2.78M431.5 346.5v2.78M431.5 108.5v-2.78M445.5 346.5v2.78M445.5 108.5v-2.78M461.5 346.5v2.78M461.5 108.5v-2.78M492.5 346.5v2.78M492.5 108.5v-2.78M509.5 346.5v2.78M509.5 108.5v-2.78M526.5 346.5v2.78M526.5 108.5v-2.78M544.5 346.5v2.78M544.5 108.5v-2.78M580.5 346.5v2.78M580.5 108.5v-2.78M599.5 346.5v2.78M599.5 108.5v-2.78M618.5 346.5v2.78M618.5 108.5v-2.78M638.5 346.5v2.78M638.5 108.5v-2.78M680.5 346.5v2.78M680.5 108.5v-2.78M701.5 346.5v2.78M701.5 108.5v-2.78M723.5 346.5v2.78M723.5 108.5v-2.78M745.5 346.5v2.78M745.5 108.5v-2.78M792.5 346.5v2.78M792.5 108.5v-2.78M816.5 346.5v2.78M816.5 108.5v-2.78M840.5 346.5v2.78M840.5 108.5v-2.78M865.5 346.5v2.78M865.5 108.5v-2.78" stroke="#000" stroke-width="0.83" fill="none"/>
<text x="131.3" y="366.1" text-anchor="middle">0.7</text>
<text x="188.3" y="366.1" text-anchor="middle">1.0</text>
<text x="239.2" y="366.1" text-anchor="middle">1.5</text>
<text x="286.4" y="366.1" text-anchor="middle">2.0</text>
<text x="339.5" y="366.1" text-anchor="middle">2.5</text>
<text x="402.3" y="366.1" text-anchor="middle">3.0</text>
<text x="476.5" y="366.1" text-anchor="middle">3.5</text>
<text x="562.3" y="366.1" text-anchor="middle">4.0</text>
<text x="659.3" y="366.1" text-anchor="middle">4.5</text>
<text x="768.4" y="366.1" text-anchor="middle">5.0</text>
<text x="891.4" y="366.1" text-anchor="middle">5.5</text>
<text x="55.9" y="329.7" text-anchor="end">0.0</text>
<text x="55.9" y="295.31" text-anchor="end">0.5</text>
<text x="55.9" y="260.93" text-anchor="end">1.0</text>
<text x="55.9" y="226.54" text-anchor="end">1.5</text>
<text x="55.9" y="192.16" text-anchor="end">2.0</text>
<text x="55.9" y="157.78" text-anchor="end">2.5</text>
<text x="55.9" y="123.39" text-anchor="end">3.0</text>
<text x="450" y="387.8"><tspan font-style="italic">λ</tspan><tspan font-size="9.7" dy="2">obs</tspan><tspan dy="-2" dx="1.3"> [</tspan><tspan font-style="italic">μ</tspan>m]</text>
<g transform="translate(19.8,315.5) rotate(-90)"><text x="0" y="0"><tspan font-style="italic">f</tspan><tspan font-style="italic" font-size="9.7" dy="2.5">λ</tspan><tspan dy="-2.5" dx="1"> [10</tspan><tspan font-size="9.7" dy="-5">−20</tspan><tspan dy="5" dx="0.6"> ergs</tspan><tspan font-size="9.7" dy="-5">−1</tspan><tspan dy="5" dx="0.4">cm</tspan><tspan font-size="9.7" dy="-5">−2</tspan><tspan dy="5" dx="0.3">Å</tspan><tspan font-size="9.7" dy="-5">−1</tspan><tspan dy="5" dx="0.3">]</tspan></text></g>
<path d="M911 33H933.3V40.4H911ZM926.6 40.4H933.3V43.2H926.6ZM933.3 43.2H937.8V46.6H933.3ZM933.3 46.6H962.2V49.4H933.3ZM933.3 49.4H979.4V51.8H933.3ZM933.3 51.8H962.6V54.4H933.3ZM933.3 54.4H943V57.2H933.3ZM933.3 57.2H933.8V60H933.3ZM922.6 60H933.3V63.2H922.6ZM911 63.2H933.3V68.4H911ZM921.8 68.4H933.3V71.2H921.8ZM929.8 71.2H933.3V78.4H929.8Z" fill="#fcdcd0"/>
<path d="M933.4 13.5V79.5M979.5 13.5V79.5M911 51.5H992" stroke="#b0b0b0" stroke-width="1.11" stroke-dasharray="1.11 1.83" fill="none"/>
<path d="M911 40.4H926.6V43.2H937.8V46.6H962.2V49.4H979.4V51.8H962.6V54.4H943V57.2H933.8V60H922.6V63.2H911" stroke="#33261f" stroke-width="3.6" fill="none" stroke-linejoin="miter"/>
<path d="M911 40.4H926.6V43.2H937.8V46.6H962.2V49.4H979.4V51.8H962.6V54.4H943V57.2H933.8V60H922.6V63.2H911" stroke="#b45a38" stroke-width="1.25" fill="none" stroke-linejoin="miter"/>
<path d="M911 68.4H921.8V71.2H929.8V78.4" stroke="#33261f" stroke-width="3.6" fill="none" stroke-linejoin="miter"/>
<path d="M911 68.4H921.8V71.2H929.8V78.4" stroke="#b45a38" stroke-width="1.25" fill="none" stroke-linejoin="miter"/>
<path d="M910.5 12V91.5H925.6M910.5 51.5h-4.86" stroke="#000" stroke-width="1.11" fill="none"/>
<text x="932" y="93.5" font-size="9.72" fill="#222">-0.00 ± 0.39</text>
</svg></body></html>
